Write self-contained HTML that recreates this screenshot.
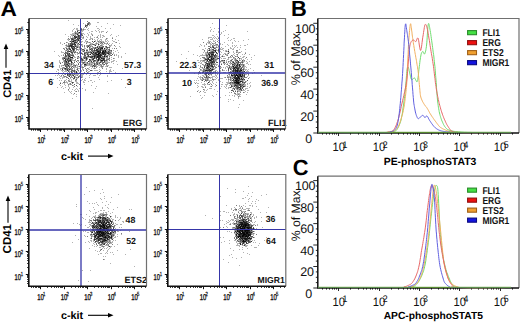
<!DOCTYPE html>
<html><head><meta charset="utf-8"><style>
html,body{margin:0;padding:0;background:#fff;width:520px;height:324px;overflow:hidden}
body{position:relative;font-family:"Liberation Sans", sans-serif}
</style></head><body>
<svg width="520" height="324" viewBox="0 0 520 324" style="position:absolute;left:0;top:0" text-rendering="geometricPrecision" font-family='"Liberation Sans", sans-serif'><defs><filter id="bl" x="-5%" y="-5%" width="110%" height="110%"><feGaussianBlur stdDeviation="0.45"/></filter></defs><rect width="520" height="324" fill="#fff"/><g transform="translate(0 0.5)" filter="url(#bl)"><path d="M104 62h1M64 73h1M83 51h1M80 50h1M111 53h1M94 60h1M96 48h1M99 53h1M66 58h1M62 44h1M69 75h1M99 56h1M107 57h1M92 35h1M65 63h1M78 63h1M61 73h1M86 56h1M72 83h1M95 53h1M73 65h1M90 52h1M91 49h1M68 54h1M87 21h1M78 66h1M96 60h1M99 56h1M106 64h1M74 70h1M84 61h1M87 53h1M90 57h1M71 47h1M107 59h1M114 41h1M106 38h1M110 67h1M84 51h1M79 32h1M105 51h1M65 56h1M93 48h1M74 46h1M81 29h1M86 62h1M66 64h1M93 50h1M80 41h1M70 64h1M105 50h1M73 50h1M104 55h1M102 58h1M96 53h1M100 42h1M105 39h1M79 51h1M72 39h1M78 44h1M92 46h1M112 48h1M100 48h1M106 51h1M111 44h1M109 57h1M86 65h1M85 62h1M77 29h1M72 82h1M80 61h1M95 63h1M69 56h1M105 50h1M93 66h1M66 50h1M91 52h1M68 75h1M93 50h1M83 63h1M82 44h1M82 53h1M74 76h1M75 45h1M72 62h1M96 55h1M95 54h1M70 83h1M72 45h1M102 56h1M74 84h1M71 46h1M91 57h1M78 46h1M96 70h1M61 52h1M100 51h1M56 71h1M76 36h1M112 61h1M65 59h1M78 30h1M101 42h1M67 53h1M69 80h1M75 44h1M86 59h1M74 77h1M92 60h1M103 50h1M106 65h1M77 41h1M75 46h1M106 66h1M102 53h1M91 53h1M81 41h1M81 58h1M79 47h1M78 43h1M104 36h1M87 45h1M99 48h1M85 52h1M71 47h1M74 72h1M116 55h1M65 64h1M98 52h1M66 71h1M103 53h1M69 60h1M71 46h1M71 45h1M68 54h1M115 39h1M104 56h1M67 74h1M74 84h1M75 40h1M91 51h1M65 61h1M66 62h1M66 53h1M81 48h1M79 84h1M78 43h1M91 50h1M81 36h1M64 76h1M85 65h1M110 46h1M77 30h1M60 42h1M111 53h1M68 53h1M87 45h1M106 46h1M95 60h1M98 48h1M88 52h1M74 52h1M90 53h1M65 59h1M102 41h1M110 50h1M67 68h1M95 58h1M89 59h1M90 24h1M77 35h1M105 52h1M73 82h1M107 53h1M106 62h1M104 60h1M92 59h1M79 68h1M95 75h1M101 52h1M74 34h1M97 54h1M89 62h1M65 68h1M108 62h1M89 46h1M73 46h1M91 48h1M102 51h1M74 77h1M79 62h1M104 57h1M103 59h1M87 56h1M72 50h1M69 60h1M109 46h1M73 60h1M98 51h1M105 54h1M103 58h1M69 45h1M70 61h1M78 40h1M82 35h1M109 55h1M92 49h1M82 49h1M97 52h1M66 55h1M66 62h1M106 32h1M67 53h1M85 90h1M90 59h1M72 54h1M72 51h1M78 73h1M66 64h1M83 81h1M108 51h1M99 52h1M74 44h1M73 50h1M90 42h1M74 56h1M89 44h1M64 48h1M70 57h1M102 52h1M91 31h1M73 41h1M98 56h1M90 52h1M64 43h1M70 44h1M69 58h1M71 68h1M64 71h1M89 23h1M99 55h1M92 39h1M92 59h1M103 56h1M93 54h1M91 46h1M103 58h1M74 71h1M83 62h1M75 75h1M73 76h1M109 60h1M73 54h1M65 61h1M60 78h1M73 56h1M108 59h1M72 44h1M79 39h1M100 46h1M75 71h1M72 48h1M81 58h1M68 57h1M109 50h1M71 73h1M80 32h1M81 50h1M95 54h1M73 41h1M83 62h1M77 73h1M104 56h1M100 53h1M97 22h1M106 47h1M105 51h1M108 52h1M69 76h1M101 49h1M98 54h1M100 72h1M106 39h1M69 63h1M98 47h1M107 60h1M70 75h1M96 64h1M68 53h1M86 63h1M88 53h1M79 44h1M94 67h1M85 56h1M106 52h1M94 39h1M99 58h1M74 70h1M104 56h1M105 54h1M103 51h1M104 58h1M99 53h1M73 75h1M114 55h1M70 57h1M100 56h1M80 57h1M77 37h1M63 59h1M86 42h1M94 56h1M73 42h1M71 93h1M95 45h1M74 53h1M71 72h1M66 61h1M100 54h1M90 59h1M107 58h1M76 48h1M72 54h1M74 43h1M74 38h1M71 72h1M74 45h1M98 57h1M80 32h1M98 50h1M76 65h1M102 48h1M67 58h1M104 43h1M74 93h1M72 71h1M60 63h1M81 57h1M105 60h1M72 41h1M102 55h1M70 83h1M77 47h1M77 42h1M98 41h1M67 69h1M83 63h1M102 47h1M98 54h1M75 45h1M70 84h1M71 44h1M69 68h1M86 26h1M73 75h1M105 60h1M66 59h1M66 69h1M86 57h1M95 50h1M90 46h1M72 48h1M68 47h1M81 74h1M79 33h1M74 28h1M87 52h1M92 51h1M73 41h1M65 58h1M67 75h1M77 58h1M101 58h1M70 60h1M81 59h1M92 54h1M104 51h1M74 74h1M91 66h1M86 64h1M73 71h1M80 58h1M102 51h1M95 53h1M70 45h1M92 58h1M71 46h1M82 74h1M88 63h1M85 58h1M101 60h1M93 65h1M99 58h1M94 52h1M82 61h1M93 63h1M98 55h1M97 54h1M110 71h1M87 37h1M68 78h1M94 55h1M61 70h1M109 45h1M99 75h1M77 34h1M66 79h1M82 67h1M78 57h1M63 48h1M94 54h1M109 53h1M98 65h1M86 25h1M80 70h1M76 39h1M65 52h1M68 56h1M93 47h1M108 51h1M81 59h1M89 61h1M89 48h1M70 57h1M95 65h1M91 34h1M61 55h1M81 39h1M80 39h1M64 49h1M99 42h1M87 42h1M69 60h1M74 74h1M98 61h1M76 72h1M92 48h1M72 47h1M69 53h1M101 53h1M74 33h1M105 56h1M97 51h1M82 62h1M73 46h1M68 51h1M98 57h1M63 88h1M89 59h1M68 20h1M78 37h1M98 53h1M98 44h1M73 78h1M75 72h1M67 69h1M102 61h1M70 60h1M105 51h1M95 55h1M103 42h1M99 55h1M98 77h1M59 67h1M111 71h1M80 85h1M99 40h1M105 54h1M79 36h1M63 58h1M85 58h1M95 57h1M94 55h1M95 52h1M116 48h1M90 54h1M80 56h1M97 52h1M94 57h1M74 73h1M87 50h1M82 69h1M105 61h1M79 40h1M101 53h1M104 53h1M75 35h1M106 53h1M97 55h1M99 50h1M76 47h1M80 61h1M74 38h1M97 50h1M72 38h1M97 62h1M74 41h1M71 66h1M90 36h1M94 68h1M107 61h1M65 59h1M102 58h1M73 75h1M66 66h1M82 34h1M77 38h1M95 47h1M85 65h1M62 57h1M65 54h1M70 46h1M98 48h1M98 49h1M100 56h1M67 64h1M97 39h1M102 52h1M101 60h1M78 40h1M94 50h1M89 45h1M71 80h1M98 38h1M84 29h1M85 64h1M65 54h1M99 53h1M94 55h1M106 63h1M96 63h1M67 70h1M103 60h1M73 38h1M71 38h1M87 46h1M84 55h1M109 67h1M71 61h1M67 60h1M103 51h1M71 47h1M80 32h1M108 54h1M101 26h1M96 50h1M76 49h1M63 75h1M79 36h1" stroke="#000" stroke-opacity="0.3" stroke-width="1"/><path d="M62 62h1M91 56h1M98 58h1M77 31h1M104 57h1M103 36h1M100 48h1M92 62h1M70 77h1M64 63h1M86 25h1M69 67h1M80 67h1M80 38h1M59 65h1M99 59h1M74 43h1M98 57h1M78 38h1M109 47h1M69 49h1M68 55h1M96 50h1M63 82h1M73 47h1M89 60h1M65 66h1M99 52h1M103 63h1M80 63h1M93 51h1M91 43h1M99 71h1M110 70h1M102 51h1M59 60h1M92 48h1M85 25h1M95 60h1M77 41h1M59 80h1M119 46h1M71 45h1M90 63h1M72 31h1M69 49h1M70 41h1M75 51h1M82 59h1M94 61h1M67 66h1M70 68h1M66 65h1M96 61h1M111 34h1M76 47h1M98 48h1M104 61h1M73 50h1M91 64h1M81 60h1M75 52h1M74 50h1M100 55h1M85 26h1M82 54h1M102 58h1M69 64h1M101 47h1M66 62h1M72 82h1M81 77h1M72 43h1M87 73h1M76 48h1M77 40h1M78 91h1M79 35h1M88 55h1M104 60h1M104 60h1M101 61h1M100 54h1M76 91h1M68 63h1M84 62h1M74 38h1M86 51h1M72 82h1M103 52h1M71 46h1M75 44h1M86 53h1M69 51h1M80 36h1M78 43h1M96 52h1M84 53h1M73 67h1M100 41h1M82 68h1M77 66h1M96 52h1M90 54h1M71 62h1M95 45h1M97 40h1M93 55h1M94 65h1M106 46h1M103 51h1M70 43h1M69 55h1M100 48h1M111 80h1M89 39h1M81 70h1M71 52h1M104 64h1M72 41h1M97 46h1M92 49h1M67 51h1M107 55h1M64 64h1M91 70h1M64 62h1M64 81h1M106 52h1M70 44h1M102 48h1M72 38h1M75 59h1M80 34h1M72 57h1M89 49h1M71 67h1M111 50h1M100 55h1M101 58h1M99 47h1M71 50h1M91 62h1M79 38h1M81 33h1M100 61h1M108 53h1M105 51h1M70 55h1M104 56h1M97 63h1M88 65h1M109 56h1M103 62h1M105 46h1M85 64h1M107 62h1M69 69h1M102 60h1M111 55h1M101 58h1M74 36h1M97 47h1M82 60h1M98 51h1M98 44h1M78 35h1M83 82h1M82 62h1M87 24h1M90 66h1M81 58h1M101 60h1M70 60h1M67 58h1M85 40h1M112 38h1M90 46h1M84 66h1M92 44h1M99 50h1M98 53h1M64 69h1M67 46h1M76 91h1M113 41h1M80 50h1M94 49h1M74 71h1M105 57h1M91 59h1M76 28h1M87 33h1M73 48h1M69 53h1M73 38h1M92 56h1M60 85h1M121 57h1M81 77h1M85 53h1M100 57h1M79 62h1M103 53h1M94 41h1M104 52h1M99 55h1M100 52h1M69 88h1M116 61h1M101 58h1M70 55h1M77 72h1M99 59h1M92 56h1M96 54h1M83 56h1M70 52h1M79 66h1M67 59h1M80 34h1M121 79h1M82 41h1M95 50h1M72 52h1M100 51h1M98 56h1M74 84h1M107 53h1M107 31h1M68 70h1M75 37h1M103 64h1M85 55h1M106 64h1M90 48h1M77 33h1M100 70h1M99 32h1M74 39h1M67 70h1M84 55h1M71 67h1M73 34h1M100 35h1M69 73h1M71 46h1M94 57h1M70 51h1M104 59h1M99 52h1M117 50h1M92 57h1M100 58h1M91 63h1M70 48h1M65 55h1M78 61h1M89 45h1M118 57h1M69 73h1M64 58h1M83 51h1M71 44h1M108 53h1M101 55h1M62 74h1M108 54h1M73 40h1M84 72h1M111 62h1M73 70h1M78 37h1M91 60h1M100 41h1M85 66h1M72 48h1M102 52h1M114 45h1M64 58h1M68 84h1M110 51h1M85 89h1M76 50h1M79 35h1M64 61h1M102 43h1M73 75h1M84 47h1M101 57h1M74 65h1M89 56h1M98 54h1M107 59h1M87 70h1M115 51h1M74 78h1M75 37h1M86 60h1M81 61h1M97 70h1M74 57h1M77 40h1M99 46h1M81 60h1M93 60h1M106 59h1M68 50h1M88 28h1M88 54h1M98 58h1M94 58h1M113 58h1M94 56h1M78 71h1M97 56h1M95 30h1M96 57h1M92 50h1M90 61h1M78 53h1M84 65h1M74 46h1M92 108h1M98 51h1M100 45h1M67 64h1M110 54h1M109 50h1M100 64h1M82 58h1M93 60h1M91 64h1M114 60h1M64 58h1M68 56h1M79 84h1M85 68h1M107 76h1M91 49h1M75 67h1M75 73h1M83 57h1M68 90h1M107 55h1M89 63h1M87 25h1M98 51h1M74 44h1M86 43h1M110 35h1M84 64h1M86 25h1M107 75h1M64 56h1M98 54h1M90 54h1M107 40h1M75 38h1M86 46h1M102 37h1M104 52h1M81 59h1M71 39h1M74 49h1M87 58h1M94 75h1M92 51h1M95 53h1M70 50h1M63 55h1M73 64h1M97 64h1M72 77h1M98 53h1M87 62h1M68 54h1M71 42h1M83 60h1M99 48h1M67 55h1M80 50h1M69 76h1M62 67h1M98 59h1M82 59h1M87 21h1M92 57h1M88 22h1M73 44h1M86 39h1M65 62h1M69 39h1M83 67h1M84 46h1M90 56h1M84 57h1M72 70h1M71 57h1M71 41h1M99 51h1M92 82h1M63 68h1M93 52h1M93 42h1M95 48h1M79 47h1M96 59h1M73 43h1M94 66h1M80 54h1M77 47h1M102 63h1M66 63h1M78 49h1M89 54h1M105 62h1M88 71h1M110 53h1M102 52h1M94 60h1M67 62h1M76 67h1M63 61h1M106 49h1M66 49h1M67 70h1M68 43h1M104 56h1M100 52h1M106 51h1M71 57h1M96 47h1M74 47h1M100 52h1M87 46h1M68 58h1M97 51h1M74 42h1M90 70h1M68 74h1M63 65h1M68 69h1M83 58h1M72 98h1M62 69h1M82 51h1M75 81h1M94 63h1M89 50h1M74 62h1M103 53h1M111 51h1M75 79h1M113 58h1M103 50h1M95 40h1M74 50h1M98 59h1M86 64h1M83 38h1M60 76h1M84 65h1M95 41h1M97 47h1M70 63h1M72 85h1M109 47h1M84 79h1M94 64h1M86 50h1M81 49h1M76 79h1M72 40h1M83 51h1M77 31h1M73 44h1M102 61h1M68 58h1M75 66h1M99 53h1M73 46h1M97 53h1M75 34h1M76 71h1M86 58h1M72 72h1M82 59h1M65 66h1M82 53h1M94 49h1M98 48h1M106 61h1M68 66h1M66 68h1M81 44h1M71 41h1M76 85h1M98 52h1M78 36h1M98 52h1M79 88h1M71 81h1M65 55h1M62 58h1M69 83h1M64 83h1M103 53h1M108 49h1M71 55h1M105 63h1M107 48h1M72 55h1M74 86h1M102 51h1M73 35h1M63 75h1M87 72h1M94 50h1M57 75h1M76 42h1M69 46h1M101 48h1M89 59h1M73 41h1M100 59h1M87 56h1M69 76h1M109 58h1M91 45h1M97 51h1M107 63h1M84 50h1M71 62h1M89 24h1M108 51h1M80 33h1M90 45h1M78 38h1M109 70h1M97 50h1M102 47h1M91 33h1M88 61h1M99 53h1M83 70h1M101 47h1M85 57h1M68 46h1" stroke="#000" stroke-opacity="0.3" stroke-width="1"/><path d="M66 42h1M73 35h1M65 63h1M69 56h1M78 53h1M78 32h1M96 53h1M80 35h1M65 55h1M99 49h1M89 25h1M97 56h1M109 43h1M82 35h1M73 48h1M98 63h1M75 91h1M74 49h1M109 54h1M71 53h1M73 39h1M58 72h1M75 31h1M94 56h1M94 81h1M81 28h1M94 56h1M113 53h1M59 61h1M76 71h1M74 51h1M70 78h1M78 56h1M71 38h1M90 43h1M67 69h1M81 53h1M96 54h1M77 69h1M91 58h1M69 61h1M92 56h1M91 73h1M96 55h1M67 75h1M84 57h1M75 32h1M85 64h1M94 66h1M79 36h1M82 63h1M108 44h1M101 62h1M95 52h1M74 47h1M73 74h1M71 64h1M114 48h1M107 57h1M80 49h1M106 53h1M112 40h1M71 51h1M77 56h1M111 61h1M72 46h1M72 37h1M94 47h1M99 71h1M79 38h1M74 76h1M70 58h1M75 74h1M77 36h1M96 86h1M99 55h1M86 65h1M65 60h1M70 57h1M96 55h1M59 56h1M74 41h1M109 60h1M75 52h1M97 50h1M99 58h1M92 67h1M82 31h1M87 68h1M97 61h1M94 41h1M102 54h1M96 58h1M76 29h1M98 56h1M65 34h1M71 39h1M62 71h1M66 45h1M88 34h1M89 64h1M67 51h1M79 52h1M64 63h1M74 52h1M72 55h1M77 75h1M85 57h1M103 51h1M101 60h1M101 47h1M102 47h1M79 66h1M96 43h1M74 68h1M94 54h1M100 56h1M103 46h1M110 53h1M70 71h1M68 61h1M96 53h1M68 38h1M81 30h1M94 51h1M100 50h1M83 62h1M113 70h1M104 53h1M68 80h1M80 31h1M69 64h1M94 55h1M65 70h1M65 68h1M91 85h1M66 42h1M55 75h1M68 78h1M108 53h1M65 51h1M67 77h1M59 66h1M88 22h1M105 63h1M93 52h1M60 69h1M70 59h1M101 32h1M77 52h1M74 37h1M75 80h1M77 70h1M84 84h1M67 48h1M73 55h1M96 54h1M100 39h1M105 55h1M98 55h1M90 70h1M93 57h1M58 55h1M106 58h1M68 78h1M112 37h1M68 70h1M88 24h1M78 33h1M76 46h1M118 56h1M95 53h1M72 38h1M76 72h1M103 56h1M96 54h1M96 52h1M82 54h1M113 52h1M103 54h1M93 44h1M92 56h1M74 44h1M77 32h1M66 56h1M98 59h1M66 67h1M81 37h1M89 45h1M98 44h1M62 68h1M104 49h1M74 70h1M103 47h1M77 58h1M68 44h1M65 60h1M75 41h1M95 43h1M96 65h1M105 53h1M62 69h1M106 71h1M99 64h1M96 51h1M98 51h1M102 47h1M88 30h1M107 81h1M101 65h1M84 58h1M72 45h1M81 73h1M97 48h1M71 84h1M86 58h1M97 61h1M87 53h1M89 65h1M102 62h1M80 50h1M69 53h1M72 75h1M97 60h1M103 42h1M70 36h1M98 59h1M70 37h1M89 47h1M118 40h1M89 59h1M73 49h1M79 48h1M109 54h1M73 40h1M86 41h1M67 65h1M109 52h1M102 52h1M71 70h1M92 62h1M93 65h1M104 48h1M90 49h1M61 87h1M80 31h1M68 65h1M85 78h1M92 58h1M63 82h1M85 52h1M66 81h1M94 63h1M100 53h1M69 47h1M104 55h1M91 61h1M78 70h1M64 62h1M72 33h1M89 56h1M94 49h1M100 52h1M103 51h1M108 47h1M64 65h1M85 29h1M75 46h1M79 32h1M67 64h1M69 48h1M103 54h1M70 74h1M65 85h1M53 79h1M90 39h1M74 49h1M73 49h1M93 58h1M97 37h1M82 50h1M72 74h1M68 71h1M103 46h1M91 52h1M76 71h1M66 61h1M110 55h1M64 68h1M95 45h1M107 43h1M98 54h1M95 88h1M103 51h1M89 52h1M96 56h1M61 76h1M78 63h1M94 56h1M69 60h1M74 62h1M65 82h1M65 56h1M72 45h1M69 81h1M100 56h1M86 57h1M61 80h1M104 42h1M100 62h1M97 47h1M95 47h1M85 48h1M78 76h1M84 58h1M98 55h1M84 62h1M94 41h1M81 48h1M97 56h1M72 58h1M107 48h1M65 60h1M109 58h1M82 37h1M105 52h1M72 72h1M70 60h1M103 65h1M76 81h1M93 58h1M102 44h1M71 67h1M69 67h1M69 51h1M81 35h1M87 64h1M74 44h1M90 37h1M71 77h1M102 42h1M77 45h1M88 69h1M69 81h1M104 52h1M93 47h1M74 64h1M94 53h1M105 52h1M86 54h1M73 39h1M67 65h1M93 59h1M89 56h1M69 65h1M101 50h1M62 52h1M109 51h1M80 56h1M65 62h1M90 74h1M97 52h1M62 86h1M97 57h1M67 70h1M61 66h1M69 46h1M105 43h1M69 66h1M70 41h1M76 33h1M64 57h1M96 50h1M84 52h1M62 69h1M96 64h1M99 52h1M80 32h1M87 51h1M103 50h1M65 54h1M84 42h1M94 45h1M98 35h1M68 45h1M75 39h1M68 49h1M107 66h1M69 74h1M100 37h1M81 52h1M113 50h1M93 61h1M71 55h1M97 54h1M62 68h1M73 48h1M78 33h1M73 51h1M63 58h1M82 79h1M65 76h1M76 79h1M62 70h1M114 54h1M74 40h1M98 50h1M101 59h1M71 43h1M81 33h1M68 59h1M65 74h1M100 48h1M71 61h1M76 41h1M76 34h1M100 50h1M105 41h1M87 55h1M92 63h1M65 47h1M75 48h1M105 51h1M79 73h1M71 42h1M97 47h1M92 41h1M101 57h1M69 51h1M89 71h1M77 77h1M67 49h1M107 52h1M65 69h1M100 51h1M94 54h1M58 70h1M104 54h1M107 63h1M116 48h1M87 24h1M66 50h1M100 62h1M93 56h1M100 65h1M97 46h1M66 68h1M66 66h1M68 61h1M85 25h1M94 60h1M101 47h1M72 39h1M90 57h1M69 39h1M64 49h1M75 40h1M69 72h1M106 47h1M86 52h1M73 44h1M92 57h1M68 74h1M87 58h1M62 77h1M96 57h1M95 48h1M97 43h1M87 62h1M72 75h1M75 40h1M71 57h1M87 47h1M73 65h1M92 53h1M84 58h1M68 55h1M95 56h1M70 46h1M70 51h1M89 54h1M70 59h1M97 55h1M67 45h1M90 62h1M96 57h1M98 56h1M71 46h1M82 77h1M91 70h1M104 50h1M69 61h1M86 70h1M103 50h1M71 60h1M65 60h1M87 68h1M84 27h1M106 69h1M62 65h1M96 56h1M104 55h1M86 57h1M72 70h1M96 67h1M87 54h1M68 56h1M80 35h1M111 57h1M65 68h1M89 52h1M69 56h1M88 35h1M78 83h1M84 64h1M69 66h1M73 40h1M92 34h1M102 48h1M91 80h1M75 89h1M72 68h1M72 66h1M75 37h1M68 61h1M66 62h1M102 60h1M95 53h1M87 47h1M89 75h1M102 48h1M65 56h1M105 52h1M90 57h1M69 69h1M68 62h1M98 30h1M76 88h1M72 70h1M72 48h1M94 48h1M73 41h1M71 47h1M99 53h1M93 54h1M75 42h1M65 68h1M75 42h1M96 63h1" stroke="#000" stroke-opacity="0.3" stroke-width="1"/><path d="M90 65h1M109 53h1M74 78h1M105 54h1M79 38h1M68 65h1M113 73h1M68 51h1M68 71h1M104 51h1M77 28h1M108 51h1M104 59h1M93 52h1M72 46h1M80 61h1M94 53h1M99 46h1M71 59h1M125 87h1M77 46h1M76 94h1M76 61h1M65 55h1M70 49h1M66 52h1M63 57h1M68 89h1M79 32h1M96 49h1M84 72h1M89 61h1M68 61h1M83 33h1M98 44h1M100 56h1M57 69h1M100 51h1M75 60h1M99 57h1M69 53h1M104 62h1M84 73h1M79 32h1M65 52h1M104 49h1M98 45h1M105 48h1M88 46h1M77 86h1M85 64h1M86 50h1M73 85h1M64 74h1M90 60h1M71 59h1M107 47h1M104 64h1M102 66h1M70 59h1M84 57h1M99 54h1M72 64h1M72 44h1M72 52h1M67 52h1M96 58h1M93 42h1M84 62h1M97 66h1M83 57h1M93 75h1M85 60h1M76 40h1M104 59h1M71 43h1M92 66h1M71 34h1M100 49h1M68 57h1M66 60h1M77 78h1M78 30h1M84 56h1M86 52h1M109 52h1M74 69h1M101 55h1M104 58h1M106 60h1M79 38h1M74 40h1M94 64h1M81 71h1M84 34h1M73 51h1M102 58h1M95 45h1M64 64h1M63 76h1M108 53h1M104 56h1M104 48h1M69 74h1M69 57h1M67 60h1M100 49h1M109 49h1M93 61h1M79 57h1M67 54h1M94 60h1M67 67h1M76 73h1M98 60h1M89 47h1M74 65h1M79 52h1M72 48h1M84 55h1M98 60h1M77 34h1M100 51h1M70 43h1M97 56h1M108 41h1M84 66h1M86 60h1M99 63h1M69 45h1M68 58h1M108 47h1M74 78h1M78 38h1M88 57h1M64 53h1M97 60h1M65 68h1M110 55h1M94 57h1M70 45h1M67 60h1M83 54h1M102 48h1M59 84h1M68 36h1M66 52h1M70 75h1M97 57h1M101 49h1M82 59h1M73 37h1M68 40h1M86 50h1M102 53h1M77 33h1M99 79h1M76 43h1M94 63h1M84 53h1M82 38h1M120 25h1M96 62h1M84 64h1M93 59h1M85 26h1M73 63h1M64 67h1M69 63h1M115 42h1M76 79h1M64 82h1M88 56h1M90 54h1M84 54h1M73 73h1M81 66h1M92 31h1M109 58h1M88 45h1M71 52h1M90 56h1M71 62h1M93 53h1M111 67h1M88 46h1M71 35h1M97 49h1M74 76h1M83 69h1M60 62h1M94 53h1M93 53h1M69 69h1M68 46h1M114 48h1M100 34h1M100 62h1M82 49h1M81 56h1M89 60h1M73 56h1M107 52h1M81 62h1M72 62h1M79 38h1M68 73h1M118 52h1M96 58h1M67 49h1M73 47h1M98 53h1M71 52h1M94 61h1M88 72h1M82 35h1M102 49h1M112 54h1M77 31h1M67 54h1M109 52h1M63 77h1M92 64h1M77 39h1M71 50h1M102 60h1M96 51h1M73 51h1M82 33h1M98 53h1M93 65h1M92 39h1M104 54h1M75 54h1M76 36h1M90 54h1M80 32h1M99 59h1M89 73h1M66 56h1M60 63h1M100 56h1M78 35h1M100 54h1M67 63h1M84 45h1M77 38h1M99 41h1M106 55h1M73 43h1M101 60h1M73 67h1M77 49h1M63 70h1M86 69h1M66 67h1M91 65h1M90 47h1M82 88h1M63 59h1M107 65h1M79 42h1M76 37h1M67 68h1M99 56h1M103 54h1M79 32h1M93 52h1M75 66h1M94 44h1M66 53h1M73 63h1M69 44h1M68 80h1M76 49h1M67 69h1M72 44h1M84 50h1M71 61h1M85 24h1M86 58h1M67 59h1M86 49h1M104 53h1M67 53h1M79 40h1M94 66h1M100 52h1M102 66h1M91 56h1M75 73h1M101 45h1M80 51h1M81 45h1M80 67h1M67 42h1M101 66h1M94 50h1M89 77h1M68 58h1M73 94h1M101 46h1M102 56h1M74 32h1M65 53h1M76 32h1M65 45h1M103 54h1M102 31h1M86 71h1M111 50h1M92 56h1M89 67h1M77 49h1M108 52h1M71 63h1M93 54h1M80 59h1M67 66h1M70 38h1M96 66h1M99 58h1M76 39h1M73 70h1M71 54h1M108 65h1M97 51h1M102 48h1M81 34h1M83 29h1M66 55h1M73 46h1M96 53h1M73 71h1M109 56h1M69 79h1M94 41h1M100 50h1M74 36h1M63 54h1M103 53h1M87 50h1M97 61h1M105 66h1M63 55h1M73 49h1M104 64h1M77 39h1M109 51h1M105 50h1M77 58h1M73 78h1M106 60h1M77 31h1M76 42h1M83 60h1M91 70h1M104 54h1M102 53h1M73 75h1M72 43h1M88 24h1M73 55h1M73 87h1M100 47h1M69 72h1M73 46h1M71 65h1M91 55h1M59 75h1M88 56h1M90 44h1M108 49h1M103 53h1M69 54h1M114 58h1M99 52h1M102 43h1M112 54h1M82 30h1M73 52h1M81 76h1M82 60h1M101 64h1M94 57h1M99 31h1M78 47h1M82 46h1M98 46h1M106 52h1M68 45h1M72 85h1M72 58h1M105 55h1M60 83h1M71 74h1M74 40h1M78 40h1M75 65h1M72 66h1M80 62h1M87 59h1M96 47h1M105 54h1M81 28h1M61 75h1M71 76h1M70 41h1M73 49h1M90 51h1M84 53h1M91 57h1M109 62h1M80 65h1M71 43h1M110 52h1M76 40h1M60 83h1M69 49h1M98 22h1M103 57h1M77 57h1M100 61h1M103 57h1M102 51h1M89 64h1M80 55h1M67 52h1M75 46h1M65 69h1M65 59h1M98 51h1M83 49h1M80 59h1M100 36h1M74 47h1M77 69h1M98 59h1M100 45h1M91 50h1M86 59h1M86 43h1M92 55h1M96 42h1M79 41h1M68 81h1M95 48h1M72 49h1M76 61h1M80 69h1M105 50h1M81 34h1M81 34h1M99 58h1M100 55h1M58 74h1M75 41h1M104 56h1M66 61h1M71 62h1M69 63h1M100 57h1M100 49h1M87 50h1M66 76h1M69 54h1M72 77h1M95 51h1M95 55h1M108 73h1M89 42h1M89 51h1M75 33h1M67 72h1M110 45h1M69 69h1M101 58h1M103 52h1M63 52h1M98 60h1M94 51h1M107 53h1M76 85h1M114 55h1M101 58h1M76 39h1M88 55h1M100 52h1M80 32h1M76 45h1M78 36h1M96 37h1M64 64h1M104 53h1M81 64h1M73 78h1M68 60h1M72 53h1M62 83h1M87 54h1M81 39h1M68 85h1M80 75h1M76 71h1M94 64h1M72 57h1M84 52h1M91 48h1M75 33h1M93 92h1M97 41h1M107 52h1M105 40h1M70 60h1M87 56h1M97 52h1M66 70h1M99 55h1M115 72h1M68 65h1M74 60h1M70 74h1M100 60h1M88 64h1M104 50h1M58 69h1M100 55h1M65 80h1M90 49h1M66 65h1M98 53h1M68 48h1M83 30h1M70 77h1M69 46h1M104 61h1M93 56h1M68 62h1M67 67h1M78 35h1M81 31h1M92 41h1M84 54h1M83 37h1M97 56h1M72 57h1M71 71h1M100 50h1M74 43h1" stroke="#000" stroke-opacity="0.3" stroke-width="1"/><path d="M107 56h1M97 28h1M102 62h1M78 77h1M76 64h1M69 76h1M72 52h1M64 57h1M85 26h1M72 74h1M105 50h1M74 42h1M75 42h1M116 54h1M69 53h1M106 56h1M102 68h1M88 52h1M76 77h1M75 40h1M78 40h1M71 73h1M111 55h1M82 76h1M90 56h1M66 46h1M87 23h1M71 44h1M93 59h1M79 37h1M64 80h1M68 65h1M88 42h1M77 30h1M110 28h1M61 51h1M71 69h1M99 53h1M85 68h1M106 56h1M100 66h1M69 71h1M86 36h1M81 29h1M92 38h1M93 44h1M108 53h1M70 61h1M95 44h1M65 58h1M97 57h1M71 40h1M88 55h1M89 22h1M102 67h1M98 43h1M96 49h1M76 69h1M80 52h1M82 29h1M102 57h1M77 68h1M85 59h1M68 44h1M88 51h1M69 70h1M81 44h1M78 60h1M74 61h1M70 84h1M102 50h1M92 43h1M65 54h1M106 56h1M90 54h1M76 37h1M74 48h1M65 65h1M108 44h1M103 52h1M78 45h1M97 54h1M78 56h1M84 60h1M102 54h1M100 54h1M78 36h1M86 71h1M98 72h1M97 54h1M76 36h1M64 82h1M77 62h1M102 53h1M69 59h1M70 56h1M64 81h1M82 45h1M67 53h1M65 76h1M62 62h1M90 49h1M68 62h1M93 52h1M68 46h1M96 43h1M86 59h1M70 49h1M70 57h1M70 51h1M78 39h1M92 66h1M77 38h1M104 56h1M99 57h1M80 51h1M68 60h1M76 85h1M87 26h1M87 72h1M94 58h1M102 60h1M105 53h1M72 68h1M76 37h1M75 43h1M65 69h1M111 45h1M85 54h1M100 49h1M64 60h1M66 57h1M95 55h1M76 82h1M69 91h1M91 53h1M62 78h1M64 73h1M66 58h1M72 49h1M120 47h1M74 37h1M76 37h1M98 50h1M95 56h1M94 64h1M98 64h1M71 70h1M100 49h1M75 77h1M87 47h1M67 74h1M95 70h1M72 56h1M84 50h1M103 44h1M85 55h1M113 60h1M92 53h1M79 41h1M97 54h1M100 57h1M98 28h1M101 45h1M67 55h1M99 62h1M102 57h1M76 78h1M87 62h1M98 58h1M74 37h1M68 86h1M66 61h1M99 62h1M106 54h1M98 41h1M73 58h1M82 46h1M96 54h1M74 60h1M109 50h1M98 54h1M78 35h1M66 61h1M74 66h1M72 49h1M95 60h1M94 58h1M76 52h1M104 50h1M100 62h1M99 60h1M69 76h1M118 35h1M73 50h1M103 60h1M96 62h1M115 46h1M96 57h1M78 90h1M67 39h1M67 51h1M97 63h1M108 55h1M68 76h1M89 48h1M121 56h1M78 25h1M67 75h1M104 51h1M83 50h1M79 66h1M106 60h1M84 56h1M74 36h1M102 53h1M92 65h1M67 49h1M68 48h1M103 54h1M104 43h1M90 54h1M69 56h1M81 53h1M76 37h1M67 59h1M74 43h1M64 68h1M68 39h1M96 49h1M77 52h1M80 32h1M81 80h1M74 86h1M74 67h1M84 63h1M65 66h1M93 55h1M98 60h1M72 69h1M106 46h1M95 47h1M94 50h1M60 68h1M65 71h1M63 72h1M67 56h1M74 72h1M95 61h1M98 55h1M78 36h1M89 59h1M107 56h1M98 60h1M72 59h1M95 53h1M78 60h1M70 46h1M87 53h1M94 44h1M94 56h1M97 64h1M100 59h1M90 52h1M108 59h1M91 61h1M100 54h1M72 57h1M92 54h1M84 58h1M106 38h1M75 51h1M91 57h1M54 51h1M100 55h1M98 56h1M80 70h1M82 66h1M99 55h1M77 34h1M71 57h1M105 46h1M68 57h1M64 92h1M70 41h1M80 42h1M79 75h1M100 74h1M111 50h1M97 56h1M77 60h1M87 52h1M85 25h1M91 56h1M76 72h1M86 59h1M96 26h1M94 48h1M98 57h1M83 29h1M99 53h1M71 39h1M103 31h1M70 49h1M68 75h1M73 82h1M62 59h1M110 52h1M69 51h1M111 51h1M97 54h1M91 57h1M88 61h1M78 70h1M91 52h1M78 56h1M94 62h1M92 50h1M95 64h1M93 54h1M69 66h1M91 38h1M87 23h1M72 47h1M84 46h1M99 54h1M97 51h1M94 37h1M98 44h1M71 48h1M93 44h1M96 31h1M104 60h1M66 44h1M98 56h1M69 56h1M93 58h1M85 41h1M74 71h1M85 64h1M64 53h1M103 51h1M67 62h1M94 48h1M96 49h1M76 96h1M102 45h1M100 57h1M81 58h1M98 53h1M86 45h1M90 64h1M105 50h1M71 60h1M103 58h1M109 72h1M68 65h1M68 60h1M66 45h1M98 51h1M68 66h1M88 23h1M84 50h1M82 49h1M101 55h1M91 61h1M97 55h1M90 44h1M96 67h1M75 37h1M75 44h1M103 52h1M87 63h1M108 53h1M71 72h1M95 56h1M78 68h1M109 48h1M101 31h1M119 43h1M102 52h1M62 73h1M72 73h1M105 50h1M69 48h1M99 29h1M104 61h1M105 51h1M78 39h1M83 28h1M57 78h1M103 58h1M98 42h1M72 30h1M90 51h1M75 44h1M81 29h1M86 74h1M72 53h1M74 36h1M92 66h1M85 73h1M71 55h1M102 52h1M94 68h1M95 57h1M105 51h1M74 42h1M68 58h1M75 38h1M96 52h1M63 57h1M97 54h1M98 55h1M70 69h1M95 50h1M72 43h1M70 69h1M92 41h1M83 49h1M102 49h1M65 87h1M79 49h1M85 53h1M66 61h1M64 43h1M70 49h1M70 50h1M65 65h1M72 82h1M72 39h1M69 55h1M74 36h1M82 60h1M85 26h1M99 57h1M70 56h1M101 57h1M69 45h1M66 48h1M97 62h1M102 54h1M97 63h1M81 67h1M87 24h1M91 53h1M72 41h1M103 35h1M110 50h1M86 69h1M89 47h1M74 47h1M75 36h1M106 59h1M101 61h1M86 57h1M74 48h1M105 28h1M69 73h1M95 45h1M91 52h1M65 57h1M77 67h1M101 53h1M71 57h1M61 68h1M102 50h1M99 47h1M86 58h1M64 60h1M71 64h1M78 58h1M98 51h1M69 48h1M66 66h1M81 30h1M89 23h1M97 50h1M79 76h1M101 48h1M77 69h1M84 54h1M77 39h1M75 31h1M65 50h1M72 73h1M68 55h1M78 35h1M95 54h1M102 53h1M113 63h1M88 61h1M96 58h1M116 42h1M80 30h1M81 42h1M85 61h1M103 51h1M77 47h1M118 55h1M104 53h1M102 48h1M101 40h1M90 38h1M99 69h1M110 69h1M103 52h1M71 73h1M105 47h1M108 93h1M85 64h1M101 60h1M75 48h1M67 57h1M77 89h1M75 42h1M107 38h1M74 43h1M105 49h1M97 49h1M88 46h1M71 82h1M108 50h1M96 54h1M65 65h1M66 77h1M89 69h1M74 40h1M67 63h1M73 35h1M62 58h1M101 42h1M76 74h1M81 75h1M101 42h1M88 23h1M64 61h1M67 74h1M74 48h1M103 62h1M64 58h1M103 54h1M73 41h1M96 59h1M98 52h1M81 53h1M89 42h1M69 43h1M82 75h1" stroke="#000" stroke-opacity="0.3" stroke-width="1"/><path d="M95 68h1M88 56h1M80 40h1M97 36h1M97 59h1M87 54h1M99 63h1M67 74h1M73 39h1M106 43h1M77 68h1M69 69h1M65 53h1M107 43h1M107 49h1M77 36h1M72 41h1M66 63h1M106 32h1M109 45h1M72 63h1M75 42h1M68 71h1M72 73h1M74 77h1M75 59h1M71 45h1M109 54h1M91 48h1M69 58h1M101 54h1M75 32h1M100 47h1M77 53h1M92 59h1M72 44h1M68 61h1M88 23h1M70 34h1M71 58h1M103 60h1M66 47h1M89 57h1M77 60h1M60 83h1M116 36h1M87 29h1M85 55h1M103 41h1M76 72h1M71 69h1M100 57h1M81 32h1M59 77h1M72 39h1M98 60h1M71 40h1M97 37h1M99 56h1M98 58h1M75 37h1M101 50h1M76 61h1M80 39h1M102 59h1M62 69h1M98 59h1M80 45h1M103 49h1M94 70h1M68 68h1M98 48h1M77 75h1M72 42h1M98 57h1M97 60h1M75 76h1M92 52h1M69 51h1M73 79h1M100 43h1M93 58h1M101 48h1M59 62h1M101 48h1M98 60h1M70 92h1M88 24h1M91 61h1M77 83h1M75 70h1M71 64h1M108 58h1M90 80h1M74 42h1M98 54h1M79 44h1M71 75h1M89 59h1M91 68h1M98 53h1M75 57h1M77 37h1M86 58h1M83 36h1M112 43h1M71 71h1M68 52h1M99 44h1M71 71h1M70 45h1M69 84h1M65 61h1M88 61h1M76 80h1M101 54h1M102 48h1M100 64h1M67 54h1M76 77h1M84 48h1M66 69h1M87 41h1M109 49h1M96 56h1M85 80h1M78 40h1M85 57h1M101 60h1M79 72h1M66 67h1M70 58h1M76 75h1M68 68h1M97 46h1M98 54h1M80 50h1M66 82h1M87 57h1M87 63h1M90 60h1M72 44h1M79 37h1M76 83h1M97 72h1M117 64h1M96 62h1M77 54h1M71 45h1M78 43h1M67 64h1M74 93h1M107 66h1M92 46h1M68 64h1M109 49h1M75 44h1M88 54h1M64 84h1M71 62h1M74 62h1M78 50h1M93 52h1M97 49h1M67 59h1M72 55h1M78 64h1M97 57h1M71 50h1M106 41h1M96 50h1M89 63h1M80 48h1M87 25h1M107 23h1M75 46h1M65 59h1M99 67h1M66 48h1M78 74h1M101 56h1M105 56h1M83 49h1M73 49h1M80 30h1M95 66h1M88 81h1M67 50h1M92 51h1M69 59h1M69 75h1M106 44h1M97 49h1M89 49h1M101 61h1M107 50h1M103 58h1M103 51h1M100 43h1M99 49h1M71 57h1M66 48h1M68 50h1M104 48h1M77 43h1M77 47h1M66 56h1M80 56h1M88 46h1M79 46h1M73 55h1M75 65h1M114 45h1M95 52h1M88 55h1M90 23h1M71 76h1M67 61h1M84 64h1M78 77h1M71 91h1M68 51h1M68 84h1M78 37h1M97 57h1M101 54h1M77 34h1M72 36h1M68 63h1M79 76h1M106 49h1M104 52h1M64 58h1M100 55h1M77 41h1M72 46h1M65 52h1M97 51h1M60 63h1M102 52h1M77 44h1M93 59h1M73 24h1M77 65h1M77 44h1M73 46h1M77 38h1M86 52h1M69 56h1M74 35h1M88 52h1M88 68h1M67 77h1M106 56h1M72 53h1M103 59h1M102 46h1M99 51h1M77 74h1M69 55h1M105 50h1M69 48h1M79 32h1M102 63h1M106 48h1M78 39h1M65 64h1M92 53h1M79 35h1M111 52h1M103 46h1M68 59h1M71 42h1M103 59h1M70 54h1M92 35h1M100 60h1M85 63h1M98 48h1M102 51h1M71 63h1M94 57h1M78 64h1M99 63h1M69 87h1M70 59h1M72 57h1M87 65h1M99 56h1M88 61h1M99 51h1M88 56h1M74 36h1M92 47h1M103 62h1M77 46h1M102 50h1M104 58h1M82 64h1M84 80h1M105 54h1M70 43h1M71 61h1M101 65h1M84 82h1M111 55h1M101 55h1M86 27h1M92 49h1M113 61h1M71 61h1M82 67h1M80 59h1M72 57h1M71 38h1M107 42h1M84 64h1M102 59h1M106 68h1M87 54h1M78 64h1M72 60h1M87 49h1M76 72h1M80 58h1M69 54h1M101 41h1M72 83h1M108 52h1M96 49h1M99 51h1M80 38h1M77 34h1M72 35h1M103 64h1M104 52h1M65 57h1M73 29h1M72 66h1M106 49h1M68 89h1M84 45h1M70 44h1M83 23h1M99 50h1M63 67h1M83 67h1M79 37h1M107 53h1M92 53h1M102 60h1M103 59h1M74 45h1M93 65h1M91 62h1M102 46h1M111 59h1M72 46h1M104 55h1M73 33h1M70 45h1M78 34h1M93 61h1M95 55h1M80 54h1M70 65h1M60 82h1M112 38h1M91 50h1M97 56h1M75 65h1M69 74h1M125 53h1M87 41h1M63 67h1M75 36h1M70 49h1M67 64h1M78 39h1M101 55h1M94 41h1M109 47h1M72 89h1M94 58h1M69 46h1M70 74h1M101 67h1M100 47h1M71 79h1M69 47h1M64 77h1M73 41h1M63 65h1M112 54h1M70 81h1M102 68h1M93 61h1M64 68h1M76 42h1M63 60h1M106 56h1M75 40h1M99 65h1M67 46h1M99 57h1M74 77h1M79 44h1M76 33h1M105 53h1M70 54h1M84 49h1M94 52h1M93 68h1M75 80h1M109 71h1M69 41h1M106 63h1M75 35h1M68 43h1M83 37h1M91 44h1M92 59h1M75 36h1M98 58h1M93 51h1M75 33h1M107 47h1M61 65h1M71 52h1M100 54h1M94 66h1M68 55h1M102 35h1M90 57h1M72 73h1M98 59h1M100 59h1M79 32h1M122 68h1M106 50h1M97 59h1M70 66h1M81 35h1M102 56h1M95 52h1M102 60h1M60 43h1M83 74h1M64 76h1M65 74h1M71 45h1M72 48h1M69 67h1M70 45h1M107 47h1M84 53h1M70 68h1M104 48h1M96 50h1M94 65h1M74 52h1M104 52h1M83 70h1M80 50h1M67 83h1M72 57h1M78 76h1M93 56h1M78 77h1M72 41h1M104 48h1M90 49h1M96 44h1M106 57h1M66 77h1M101 66h1M68 38h1M67 82h1M87 25h1M75 38h1M101 52h1M104 48h1M89 22h1M95 65h1M102 64h1M64 58h1M86 27h1M101 43h1M63 48h1M103 59h1M97 57h1M68 63h1M106 47h1M97 74h1M113 24h1M72 47h1M104 61h1M71 51h1M61 75h1M98 62h1M100 49h1M78 32h1M90 70h1M66 64h1M74 90h1M75 45h1M73 66h1M102 63h1M99 46h1M86 39h1M90 60h1M100 60h1M99 47h1M104 58h1M102 52h1M83 59h1M107 56h1M101 48h1M95 66h1M85 56h1M103 66h1M89 32h1M72 34h1M116 42h1M101 39h1M88 45h1M66 59h1M79 30h1M91 52h1M98 49h1M79 42h1M101 44h1M99 54h1M77 82h1M107 51h1M92 44h1M81 65h1M97 49h1M98 55h1M76 42h1M76 46h1M92 70h1M93 62h1M79 53h1M97 64h1M109 59h1M57 87h1M102 52h1" stroke="#000" stroke-opacity="0.3" stroke-width="1"/></g><g transform="translate(0 0.5)" filter="url(#bl)"><path d="M234 65h1M199 62h1M236 81h1M207 67h1M202 77h1M237 79h1M222 60h1M212 54h1M212 62h1M237 72h1M234 96h1M205 55h1M243 89h1M211 70h1M236 80h1M210 68h1M233 72h1M243 90h1M206 63h1M218 37h1M239 76h1M214 52h1M232 78h1M208 58h1M245 88h1M209 81h1M236 75h1M206 61h1M209 63h1M210 60h1M206 70h1M235 82h1M242 65h1M239 77h1M236 61h1M237 70h1M201 60h1M211 64h1M207 65h1M208 42h1M206 72h1M239 67h1M230 73h1M220 57h1M238 65h1M229 65h1M241 70h1M240 73h1M235 73h1M218 49h1M242 82h1M235 82h1M232 90h1M209 77h1M193 54h1M237 79h1M207 65h1M232 59h1M248 90h1M223 54h1M216 50h1M233 67h1M214 28h1M211 64h1M216 62h1M200 58h1M236 60h1M243 65h1M233 80h1M237 76h1M235 72h1M197 55h1M208 43h1M241 76h1M200 66h1M231 87h1M218 40h1M207 67h1M196 67h1M221 33h1M236 87h1M215 48h1M235 76h1M211 58h1M210 37h1M215 44h1M215 52h1M213 54h1M213 83h1M238 62h1M204 68h1M238 80h1M234 65h1M219 50h1M219 56h1M209 74h1M220 73h1M229 72h1M239 75h1M239 72h1M236 75h1M206 68h1M209 57h1M236 72h1M208 59h1M213 55h1M205 70h1M244 84h1M216 34h1M238 68h1M204 73h1M214 52h1M238 69h1M212 53h1M209 60h1M207 70h1M247 83h1M241 68h1M240 76h1M231 66h1M216 59h1M237 82h1M215 71h1M240 92h1M239 49h1M239 80h1M202 78h1M207 64h1M223 62h1M198 72h1M234 75h1M235 93h1M201 62h1M236 73h1M238 75h1M234 64h1M207 65h1M216 45h1M200 44h1M214 56h1M209 77h1M214 55h1M211 54h1M230 68h1M225 77h1M236 62h1M237 82h1M227 82h1M221 64h1M207 70h1M231 86h1M235 75h1M236 64h1M236 69h1M209 73h1M210 61h1M214 51h1M234 40h1M239 58h1M206 76h1M236 81h1M241 64h1M212 66h1M241 62h1M221 32h1M234 73h1M237 78h1M210 72h1M226 62h1M237 78h1M237 77h1M246 74h1M239 87h1M237 67h1M242 85h1M222 70h1M210 70h1M213 47h1M236 80h1M241 81h1M210 65h1M202 71h1M213 96h1M196 80h1M206 63h1M215 55h1M204 45h1M213 61h1M208 66h1M237 81h1M198 65h1M228 69h1M235 82h1M208 68h1M212 67h1M237 54h1M209 73h1M210 71h1M213 59h1M212 56h1M239 74h1M236 81h1M238 69h1M231 74h1M241 70h1M220 66h1M225 46h1M240 86h1M243 76h1M201 67h1M224 86h1M235 70h1M208 57h1M235 78h1M226 82h1M239 78h1M219 46h1M237 75h1M230 87h1M208 37h1M211 64h1M237 79h1M234 71h1M204 65h1M235 67h1M207 77h1M233 73h1M204 95h1M237 85h1M238 80h1M239 70h1M214 48h1M236 82h1M207 57h1M206 80h1M206 77h1M233 62h1M237 70h1M238 75h1M237 71h1M236 74h1M233 81h1M233 67h1M234 74h1M221 86h1M206 77h1M235 64h1M207 53h1M228 51h1M211 59h1M205 59h1M237 71h1M220 49h1M234 68h1M242 83h1M208 41h1M240 79h1M208 53h1M240 86h1M236 77h1M231 74h1M208 54h1M239 88h1M234 79h1M235 88h1M211 63h1M227 84h1M230 80h1M211 56h1M217 58h1M233 82h1M237 80h1M212 50h1M211 69h1M205 62h1M212 55h1M208 66h1M211 56h1M237 82h1M231 77h1M211 58h1M233 80h1M213 31h1M240 85h1M237 72h1M207 55h1M239 67h1M211 75h1M212 38h1M241 79h1M239 80h1M210 60h1M241 87h1M207 68h1M242 72h1M212 57h1M240 73h1M233 52h1M232 73h1M214 60h1M233 91h1M220 97h1M204 90h1M236 68h1M213 67h1M213 43h1M240 74h1M206 67h1M233 69h1M241 84h1M220 81h1M241 78h1M203 84h1M237 72h1M203 57h1M219 55h1M234 74h1M215 37h1M237 70h1M233 79h1M247 31h1M211 58h1M243 83h1M234 73h1M212 64h1M240 88h1M235 67h1M244 61h1M210 57h1M243 73h1M213 49h1M241 86h1M243 100h1M214 60h1M239 73h1M236 83h1M238 73h1M219 56h1M235 70h1M239 87h1M210 70h1M233 66h1M237 72h1M237 81h1M230 83h1M244 56h1M246 61h1M237 82h1M213 52h1M236 67h1M239 67h1M210 51h1M231 86h1M207 73h1M210 72h1M232 56h1M210 72h1M244 82h1M233 79h1M232 73h1M219 35h1M211 62h1M211 54h1M234 86h1M239 60h1M238 61h1M231 85h1M208 67h1M232 86h1M235 82h1M211 59h1M224 60h1M245 82h1M237 66h1M236 66h1M235 69h1M212 59h1M225 50h1M234 83h1M202 60h1M239 72h1M231 72h1M213 47h1M221 64h1M239 64h1M233 63h1M236 81h1M215 60h1M226 25h1M237 80h1M206 75h1M231 74h1M209 57h1M205 59h1M236 72h1M209 54h1M239 89h1M222 78h1M212 53h1M245 52h1M239 84h1M213 50h1M232 68h1M209 64h1M216 57h1M233 71h1M210 55h1M234 66h1M235 91h1M236 83h1M241 90h1M232 64h1M213 59h1M214 89h1M236 67h1M243 69h1M217 59h1M236 81h1M198 90h1M209 77h1M212 76h1M237 82h1M224 53h1M237 75h1M234 85h1M237 72h1M212 66h1M207 58h1M238 81h1M242 71h1M199 72h1M210 60h1M206 73h1M213 66h1M223 62h1M239 77h1M235 76h1M205 78h1M207 89h1M235 69h1M209 82h1M226 54h1M233 77h1M211 70h1M209 88h1M197 91h1M208 80h1M228 72h1M223 63h1M241 89h1M243 89h1M207 66h1M212 54h1M238 57h1M207 58h1M238 83h1M235 73h1M209 54h1M239 78h1M231 85h1M231 69h1M205 58h1M237 70h1M197 60h1M235 60h1M237 71h1M230 79h1M207 71h1M215 67h1M237 79h1M206 58h1M245 58h1M207 63h1M238 96h1M236 83h1M237 54h1M242 75h1M235 63h1M239 84h1M232 56h1M212 69h1M239 73h1M235 76h1M209 69h1M200 73h1M232 75h1M213 58h1M232 95h1M206 75h1M236 86h1M223 70h1M215 49h1M207 70h1M204 69h1M228 68h1M236 77h1M208 69h1M234 84h1M208 77h1M231 55h1" stroke="#000" stroke-opacity="0.3" stroke-width="1"/><path d="M236 84h1M226 62h1M212 79h1M235 87h1M235 84h1M238 88h1M234 67h1M242 82h1M243 74h1M211 69h1M237 75h1M208 54h1M241 89h1M231 63h1M243 82h1M208 82h1M208 66h1M240 88h1M233 81h1M210 60h1M235 85h1M232 68h1M239 73h1M194 80h1M213 61h1M209 52h1M211 53h1M238 77h1M235 76h1M216 65h1M206 69h1M202 86h1M217 62h1M235 82h1M224 72h1M244 90h1M210 59h1M239 74h1M237 79h1M235 94h1M243 76h1M237 78h1M238 71h1M227 51h1M212 59h1M239 64h1M241 73h1M239 78h1M214 65h1M238 82h1M239 71h1M226 88h1M213 69h1M238 81h1M196 82h1M237 82h1M240 83h1M208 38h1M227 44h1M233 64h1M242 61h1M238 94h1M235 68h1M248 78h1M237 75h1M210 62h1M211 61h1M207 75h1M242 87h1M232 89h1M208 74h1M209 80h1M237 88h1M223 67h1M235 72h1M210 86h1M239 71h1M229 61h1M214 62h1M205 64h1M235 82h1M235 69h1M213 58h1M210 52h1M201 86h1M213 50h1M202 84h1M216 58h1M213 58h1M208 61h1M205 54h1M199 77h1M211 53h1M213 56h1M238 64h1M212 70h1M238 78h1M261 75h1M207 63h1M208 53h1M236 75h1M207 59h1M211 39h1M233 70h1M224 62h1M202 80h1M238 83h1M220 61h1M225 72h1M211 58h1M212 52h1M216 38h1M228 51h1M209 73h1M229 74h1M233 48h1M232 70h1M230 82h1M237 50h1M203 60h1M207 78h1M241 71h1M229 72h1M228 80h1M239 85h1M237 62h1M235 67h1M235 66h1M229 66h1M205 71h1M226 64h1M236 83h1M214 63h1M235 66h1M224 60h1M213 59h1M199 73h1M224 61h1M215 68h1M234 81h1M216 62h1M239 89h1M226 51h1M198 62h1M210 46h1M210 56h1M209 56h1M215 74h1M200 79h1M233 62h1M242 79h1M242 73h1M223 61h1M224 70h1M240 69h1M208 79h1M237 91h1M247 59h1M215 56h1M235 80h1M212 49h1M216 49h1M241 78h1M243 82h1M213 49h1M238 61h1M246 63h1M235 72h1M241 69h1M209 46h1M242 87h1M198 72h1M214 62h1M230 47h1M222 69h1M209 67h1M243 78h1M240 88h1M211 60h1M240 75h1M237 82h1M209 59h1M206 59h1M233 54h1M226 61h1M206 70h1M244 86h1M223 62h1M202 78h1M210 73h1M236 85h1M240 89h1M213 72h1M208 70h1M240 84h1M225 51h1M208 84h1M211 55h1M237 87h1M243 73h1M209 59h1M214 72h1M236 79h1M236 66h1M206 63h1M239 83h1M238 76h1M232 43h1M238 96h1M211 54h1M234 76h1M239 96h1M205 73h1M239 66h1M210 68h1M237 83h1M206 66h1M209 59h1M238 62h1M205 87h1M230 69h1M242 73h1M206 81h1M219 71h1M208 40h1M202 55h1M236 79h1M240 87h1M216 46h1M209 48h1M236 70h1M210 54h1M235 78h1M211 55h1M225 53h1M213 58h1M234 59h1M241 76h1M214 66h1M237 85h1M204 70h1M208 63h1M236 85h1M234 95h1M241 70h1M239 72h1M236 72h1M210 60h1M239 80h1M205 80h1M235 80h1M237 61h1M238 70h1M212 78h1M214 57h1M228 74h1M226 86h1M232 62h1M240 66h1M243 84h1M237 80h1M207 64h1M240 72h1M248 73h1M203 49h1M220 54h1M221 78h1M225 95h1M208 70h1M236 54h1M233 85h1M238 65h1M241 80h1M237 65h1M224 77h1M219 62h1M235 67h1M209 72h1M240 69h1M234 93h1M239 65h1M223 60h1M236 75h1M214 48h1M240 64h1M250 86h1M210 73h1M234 85h1M234 82h1M244 71h1M214 65h1M209 48h1M238 63h1M237 71h1M236 77h1M212 52h1M205 52h1M241 75h1M208 57h1M236 85h1M206 62h1M234 92h1M211 84h1M239 64h1M236 68h1M230 72h1M247 90h1M219 88h1M206 53h1M240 89h1M223 58h1M212 60h1M237 72h1M241 76h1M217 55h1M233 66h1M236 71h1M214 68h1M233 74h1M215 75h1M210 56h1M240 81h1M227 59h1M216 70h1M249 87h1M206 56h1M237 75h1M213 58h1M242 76h1M232 63h1M209 75h1M234 72h1M232 67h1M216 53h1M203 76h1M207 61h1M213 58h1M218 66h1M237 69h1M209 54h1M235 58h1M212 95h1M237 79h1M245 85h1M238 79h1M237 71h1M244 74h1M236 86h1M214 69h1M211 57h1M242 54h1M205 70h1M202 61h1M207 76h1M243 62h1M208 59h1M229 82h1M235 73h1M228 61h1M237 66h1M245 77h1M239 81h1M213 60h1M235 77h1M208 66h1M215 42h1M242 74h1M208 82h1M240 75h1M207 60h1M219 67h1M241 78h1M234 65h1M237 60h1M242 60h1M233 69h1M238 87h1M234 89h1M227 67h1M202 67h1M234 86h1M228 62h1M211 48h1M231 72h1M237 66h1M208 59h1M210 58h1M234 67h1M237 90h1M209 42h1M235 82h1M238 76h1M250 85h1M219 80h1M229 95h1M234 70h1M232 66h1M239 62h1M223 48h1M239 60h1M205 80h1M216 53h1M214 56h1M214 43h1M238 78h1M231 67h1M208 66h1M235 81h1M222 56h1M240 87h1M199 68h1M238 67h1M200 73h1M209 62h1M242 67h1M216 60h1M244 76h1M236 65h1M211 74h1M202 57h1M234 68h1M210 47h1M230 69h1M212 59h1M231 55h1M231 75h1M239 85h1M243 70h1M208 70h1M224 64h1M213 73h1M238 74h1M239 78h1M240 72h1M228 69h1M233 88h1M211 62h1M243 71h1M224 60h1M236 65h1M237 69h1M238 67h1M219 32h1M236 81h1M239 70h1M208 48h1M211 70h1M213 44h1M240 91h1M235 71h1M199 71h1M203 78h1M212 57h1M242 85h1M241 76h1M232 45h1M234 89h1M228 77h1M226 85h1M229 67h1M223 50h1M234 88h1M238 76h1M222 48h1M230 76h1M233 91h1M191 81h1M230 71h1M209 71h1M203 69h1M205 64h1M231 81h1M235 80h1M233 83h1M230 87h1M237 65h1M222 84h1M240 73h1M235 80h1M208 62h1M235 86h1M207 50h1M217 74h1M238 73h1M215 67h1M229 72h1M206 65h1M235 91h1M214 61h1M241 72h1M243 72h1M232 84h1M239 66h1M236 50h1M220 68h1M239 85h1M210 52h1M213 64h1M246 77h1M236 70h1" stroke="#000" stroke-opacity="0.3" stroke-width="1"/><path d="M241 70h1M240 80h1M254 55h1M223 72h1M239 75h1M203 71h1M238 87h1M232 73h1M242 75h1M207 60h1M240 85h1M229 52h1M215 47h1M232 66h1M238 72h1M240 88h1M214 57h1M240 89h1M236 74h1M242 81h1M215 50h1M216 52h1M239 78h1M240 86h1M234 47h1M212 51h1M238 66h1M201 63h1M244 86h1M237 78h1M209 61h1M207 67h1M206 55h1M210 72h1M210 56h1M218 38h1M204 65h1M208 76h1M239 76h1M227 53h1M215 57h1M248 75h1M206 52h1M213 72h1M246 77h1M230 82h1M228 51h1M202 64h1M239 70h1M242 79h1M240 58h1M232 61h1M211 51h1M233 69h1M215 42h1M245 81h1M238 107h1M205 74h1M211 53h1M211 58h1M235 56h1M205 53h1M204 66h1M235 91h1M242 79h1M211 58h1M210 31h1M209 54h1M228 82h1M243 79h1M233 75h1M233 79h1M211 65h1M246 94h1M206 70h1M215 50h1M233 78h1M199 71h1M213 71h1M203 42h1M207 60h1M208 58h1M240 71h1M240 94h1M238 64h1M213 47h1M233 84h1M236 86h1M240 84h1M228 34h1M212 58h1M238 82h1M212 43h1M202 39h1M211 63h1M237 93h1M208 46h1M198 83h1M186 58h1M246 69h1M206 54h1M221 60h1M211 84h1M218 32h1M207 78h1M223 56h1M230 80h1M200 76h1M235 41h1M208 72h1M231 75h1M238 83h1M216 55h1M210 60h1M209 46h1M213 46h1M242 81h1M232 55h1M195 83h1M236 74h1M231 75h1M234 55h1M238 82h1M247 80h1M238 82h1M244 64h1M215 55h1M203 55h1M210 66h1M206 61h1M229 63h1M206 67h1M241 79h1M242 71h1M213 62h1M237 63h1M238 90h1M208 68h1M203 65h1M208 61h1M213 46h1M237 84h1M233 71h1M232 64h1M207 65h1M233 75h1M242 88h1M218 65h1M216 82h1M241 67h1M214 56h1M233 70h1M236 62h1M240 47h1M216 94h1M230 72h1M235 77h1M244 71h1M211 37h1M200 72h1M208 82h1M203 87h1M213 79h1M240 78h1M229 92h1M202 77h1M237 76h1M212 56h1M211 61h1M225 54h1M243 84h1M212 47h1M239 68h1M235 85h1M234 69h1M240 73h1M209 69h1M218 38h1M234 68h1M240 71h1M230 83h1M231 60h1M238 77h1M242 79h1M211 44h1M209 57h1M240 76h1M247 73h1M237 68h1M205 70h1M210 56h1M209 53h1M236 77h1M228 61h1M234 82h1M212 47h1M215 51h1M236 74h1M243 86h1M243 87h1M231 76h1M237 88h1M209 66h1M233 68h1M236 62h1M217 56h1M234 72h1M241 81h1M208 66h1M245 49h1M226 50h1M239 65h1M243 64h1M210 30h1M232 71h1M238 77h1M221 84h1M238 63h1M244 76h1M236 56h1M212 66h1M217 44h1M236 52h1M236 75h1M245 82h1M240 74h1M233 75h1M232 64h1M214 50h1M234 82h1M232 90h1M209 50h1M207 72h1M238 77h1M219 59h1M242 81h1M232 70h1M232 80h1M254 72h1M238 75h1M234 63h1M198 86h1M235 80h1M211 52h1M239 64h1M215 51h1M238 62h1M204 67h1M236 88h1M205 72h1M234 75h1M237 64h1M230 61h1M228 79h1M244 77h1M234 81h1M210 70h1M236 65h1M239 52h1M212 66h1M211 72h1M209 63h1M221 58h1M212 73h1M231 60h1M233 66h1M244 77h1M209 55h1M212 61h1M202 54h1M219 41h1M237 83h1M232 78h1M208 65h1M206 90h1M204 62h1M208 65h1M215 84h1M202 79h1M238 85h1M215 50h1M210 47h1M229 79h1M208 67h1M240 66h1M238 76h1M213 63h1M233 62h1M233 74h1M228 79h1M214 61h1M205 66h1M230 57h1M222 82h1M237 78h1M210 66h1M204 66h1M233 83h1M206 70h1M250 64h1M205 70h1M244 60h1M243 61h1M206 64h1M204 50h1M243 64h1M238 93h1M207 54h1M207 55h1M240 73h1M197 83h1M207 55h1M227 63h1M213 40h1M208 59h1M229 76h1M241 76h1M235 70h1M239 59h1M240 84h1M243 81h1M205 60h1M207 60h1M211 66h1M237 63h1M236 72h1M237 73h1M209 64h1M216 72h1M206 73h1M212 77h1M247 76h1M205 63h1M241 88h1M205 77h1M239 90h1M205 80h1M204 57h1M234 58h1M209 50h1M209 48h1M229 87h1M214 50h1M232 75h1M243 68h1M234 74h1M237 71h1M244 92h1M235 76h1M203 89h1M214 41h1M214 64h1M235 74h1M208 69h1M209 67h1M234 78h1M203 64h1M204 81h1M214 45h1M233 90h1M239 65h1M197 87h1M230 63h1M214 58h1M233 69h1M226 51h1M208 70h1M242 75h1M215 61h1M231 75h1M214 56h1M212 54h1M236 51h1M209 60h1M242 57h1M213 79h1M190 96h1M207 66h1M231 69h1M204 67h1M231 92h1M205 59h1M233 100h1M209 62h1M240 79h1M235 72h1M235 78h1M211 57h1M219 57h1M210 74h1M233 71h1M217 58h1M218 49h1M230 71h1M233 79h1M235 62h1M235 77h1M205 77h1M212 85h1M235 71h1M207 49h1M235 90h1M243 80h1M228 52h1M240 90h1M238 73h1M209 71h1M212 65h1M238 80h1M244 83h1M244 71h1M234 84h1M238 77h1M228 67h1M238 86h1M233 79h1M233 66h1M238 82h1M221 63h1M232 90h1M243 70h1M230 60h1M241 76h1M230 84h1M233 77h1M247 63h1M215 57h1M242 76h1M231 71h1M233 62h1M228 70h1M209 64h1M242 75h1M203 58h1M237 81h1M229 57h1M209 67h1M205 73h1M241 62h1M202 97h1M200 78h1M199 46h1M217 53h1M226 60h1M242 63h1M211 54h1M215 55h1M210 80h1M233 70h1M234 77h1M213 51h1M234 85h1M237 60h1M240 75h1M233 38h1M218 45h1M233 71h1M244 83h1M236 85h1M207 72h1M241 78h1M228 101h1M236 82h1M234 57h1M212 64h1M209 42h1M216 55h1M228 57h1M247 92h1M242 90h1M237 87h1M213 69h1M227 77h1M217 62h1M244 74h1M213 55h1M241 64h1M234 60h1M235 72h1M212 69h1M243 86h1M211 70h1M248 78h1M204 59h1M231 70h1M231 86h1M241 68h1M204 70h1M206 44h1M203 60h1M200 61h1M245 69h1M205 62h1M218 42h1M209 69h1M212 61h1M243 68h1M214 66h1M242 66h1M239 77h1" stroke="#000" stroke-opacity="0.3" stroke-width="1"/><path d="M242 60h1M232 71h1M214 50h1M210 62h1M238 79h1M210 61h1M231 75h1M237 56h1M224 64h1M242 72h1M201 45h1M210 68h1M228 51h1M246 57h1M237 84h1M230 67h1M247 70h1M235 73h1M209 49h1M237 68h1M234 77h1M244 80h1M237 75h1M243 75h1M208 73h1M234 81h1M211 60h1M212 54h1M231 57h1M212 54h1M237 72h1M210 60h1M235 78h1M242 85h1M205 59h1M243 57h1M212 73h1M231 82h1M236 83h1M215 50h1M236 50h1M242 62h1M204 58h1M235 63h1M211 73h1M213 76h1M226 66h1M208 46h1M241 65h1M197 91h1M209 84h1M217 45h1M212 70h1M214 36h1M235 46h1M250 68h1M234 80h1M243 59h1M235 59h1M213 68h1M209 55h1M207 79h1M239 77h1M239 65h1M239 69h1M253 70h1M206 66h1M207 84h1M238 61h1M238 68h1M215 56h1M231 63h1M215 40h1M236 52h1M230 82h1M237 83h1M202 80h1M206 70h1M215 51h1M212 68h1M222 56h1M202 73h1M238 76h1M208 74h1M237 58h1M211 67h1M237 68h1M235 71h1M243 69h1M234 62h1M218 58h1M235 61h1M211 60h1M243 73h1M239 95h1M237 67h1M205 74h1M203 69h1M234 80h1M234 45h1M249 83h1M224 63h1M207 42h1M239 87h1M239 87h1M240 63h1M222 60h1M217 50h1M232 80h1M237 73h1M204 81h1M208 73h1M215 58h1M213 67h1M240 73h1M239 78h1M208 53h1M232 71h1M241 72h1M236 78h1M205 92h1M205 65h1M218 48h1M204 60h1M232 46h1M206 68h1M237 76h1M244 75h1M241 69h1M212 82h1M240 81h1M238 71h1M209 53h1M237 76h1M209 43h1M218 46h1M218 28h1M232 83h1M217 58h1M248 74h1M246 67h1M210 53h1M235 60h1M198 74h1M234 68h1M237 80h1M210 68h1M231 80h1M229 66h1M239 68h1M238 97h1M208 78h1M209 59h1M237 80h1M235 81h1M232 75h1M241 81h1M215 73h1M240 45h1M213 69h1M249 61h1M207 83h1M244 75h1M236 63h1M213 63h1M215 48h1M219 47h1M230 72h1M227 83h1M209 56h1M202 67h1M209 68h1M214 47h1M215 57h1M207 80h1M211 47h1M230 62h1M237 78h1M176 61h1M209 69h1M238 77h1M211 63h1M233 68h1M238 77h1M210 69h1M245 72h1M228 83h1M238 68h1M238 74h1M244 68h1M240 56h1M233 82h1M237 77h1M238 80h1M235 77h1M207 83h1M229 77h1M238 88h1M218 31h1M239 73h1M240 72h1M238 83h1M236 80h1M211 59h1M237 83h1M239 74h1M230 69h1M210 88h1M210 72h1M211 66h1M237 75h1M236 67h1M213 41h1M238 69h1M210 27h1M208 77h1M234 70h1M213 61h1M233 70h1M213 54h1M251 59h1M199 92h1M204 76h1M244 82h1M239 75h1M238 74h1M248 69h1M212 51h1M189 70h1M210 78h1M207 56h1M236 81h1M211 68h1M235 93h1M211 86h1M237 69h1M224 62h1M240 79h1M210 57h1M238 77h1M246 57h1M228 76h1M236 94h1M207 61h1M233 76h1M216 52h1M213 47h1M233 64h1M238 82h1M208 64h1M243 79h1M209 55h1M231 48h1M209 50h1M213 53h1M212 45h1M233 64h1M212 66h1M232 73h1M216 47h1M207 66h1M241 86h1M217 71h1M241 68h1M197 85h1M210 44h1M243 67h1M240 69h1M204 57h1M209 50h1M241 76h1M239 79h1M212 62h1M245 53h1M222 56h1M209 52h1M206 56h1M206 73h1M210 62h1M230 64h1M239 82h1M239 94h1M230 48h1M212 46h1M235 65h1M209 52h1M228 40h1M233 57h1M203 68h1M233 79h1M238 72h1M204 79h1M244 65h1M238 53h1M212 52h1M211 74h1M237 64h1M219 92h1M211 49h1M236 71h1M238 82h1M230 68h1M235 75h1M234 82h1M209 60h1M232 66h1M217 47h1M229 85h1M210 70h1M208 76h1M206 65h1M205 86h1M236 82h1M222 61h1M244 85h1M244 79h1M237 82h1M213 66h1M210 62h1M244 75h1M201 98h1M242 78h1M211 65h1M245 53h1M229 68h1M238 94h1M239 83h1M239 64h1M237 75h1M235 64h1M201 82h1M236 80h1M216 75h1M238 72h1M212 59h1M235 76h1M238 74h1M237 61h1M212 62h1M200 67h1M214 38h1M237 55h1M228 78h1M241 70h1M243 75h1M239 76h1M221 47h1M207 67h1M210 59h1M228 65h1M208 66h1M235 71h1M237 91h1M209 84h1M205 73h1M238 81h1M239 104h1M210 67h1M238 91h1M244 82h1M211 61h1M236 78h1M234 67h1M230 99h1M241 81h1M239 71h1M242 82h1M237 47h1M235 84h1M209 55h1M240 73h1M232 82h1M209 64h1M242 80h1M207 70h1M206 70h1M236 78h1M234 70h1M238 82h1M212 45h1M237 91h1M227 75h1M205 84h1M242 64h1M209 55h1M215 45h1M238 70h1M241 74h1M225 77h1M228 68h1M216 61h1M239 64h1M231 74h1M237 77h1M212 67h1M215 51h1M213 53h1M210 64h1M232 73h1M234 80h1M228 81h1M212 79h1M215 70h1M239 58h1M208 72h1M238 83h1M240 74h1M240 75h1M237 64h1M237 86h1M209 70h1M208 67h1M235 79h1M218 58h1M200 65h1M213 64h1M239 75h1M242 69h1M225 84h1M213 35h1M236 68h1M209 60h1M230 78h1M225 30h1M236 70h1M209 56h1M208 82h1M232 88h1M235 75h1M233 73h1M207 65h1M228 53h1M238 84h1M201 79h1M214 59h1M236 81h1M237 75h1M239 84h1M244 69h1M215 60h1M214 62h1M211 60h1M236 75h1M218 79h1M214 45h1M241 70h1M207 80h1M211 51h1M237 72h1M233 68h1M242 87h1M236 82h1M236 75h1M212 23h1M200 77h1M212 49h1M240 75h1M213 62h1M242 72h1M234 89h1M238 83h1M233 66h1M241 73h1M214 48h1M203 91h1M244 74h1M219 31h1M239 87h1M238 80h1M234 78h1M235 56h1M236 88h1M215 54h1M235 69h1M207 58h1M220 51h1M247 80h1M212 35h1M208 48h1M242 74h1M235 75h1M218 49h1M238 87h1M206 74h1M210 60h1M217 39h1M236 77h1M206 79h1M245 72h1M203 71h1M207 60h1M242 74h1M206 73h1M245 74h1M191 83h1M208 52h1M223 31h1M206 77h1M213 61h1M237 74h1" stroke="#000" stroke-opacity="0.3" stroke-width="1"/><path d="M211 69h1M220 48h1M237 69h1M237 85h1M204 71h1M211 66h1M234 83h1M234 68h1M212 63h1M238 76h1M233 67h1M213 67h1M235 61h1M231 78h1M249 54h1M237 71h1M209 61h1M241 61h1M220 34h1M245 70h1M247 88h1M243 73h1M212 49h1M199 72h1M234 67h1M236 79h1M219 54h1M233 69h1M238 73h1M209 57h1M215 54h1M243 66h1M233 88h1M224 42h1M246 71h1M224 56h1M228 59h1M234 89h1M213 45h1M211 72h1M207 72h1M213 54h1M218 47h1M206 59h1M211 88h1M209 64h1M206 73h1M207 60h1M238 61h1M208 54h1M218 51h1M217 54h1M201 55h1M235 80h1M229 65h1M248 71h1M239 74h1M215 72h1M244 45h1M211 65h1M234 78h1M236 78h1M205 71h1M243 78h1M207 64h1M239 58h1M221 52h1M241 90h1M220 66h1M215 51h1M237 73h1M236 80h1M229 67h1M231 75h1M211 71h1M220 70h1M244 67h1M211 55h1M238 84h1M237 65h1M239 73h1M213 55h1M215 51h1M236 70h1M228 51h1M211 56h1M239 82h1M216 67h1M206 72h1M220 61h1M232 78h1M245 77h1M236 67h1M239 87h1M217 41h1M241 84h1M237 76h1M213 58h1M215 50h1M241 51h1M204 92h1M229 67h1M242 74h1M218 46h1M203 71h1M241 85h1M240 81h1M207 52h1M211 42h1M239 71h1M227 66h1M215 66h1M237 51h1M200 69h1M218 58h1M211 61h1M230 79h1M237 78h1M207 64h1M234 71h1M213 50h1M231 61h1M236 67h1M209 64h1M234 69h1M202 68h1M204 60h1M207 69h1M219 35h1M240 77h1M206 78h1M206 59h1M228 50h1M240 75h1M237 70h1M204 51h1M220 88h1M231 79h1M234 72h1M204 71h1M209 71h1M242 62h1M236 71h1M230 56h1M232 42h1M233 67h1M241 86h1M236 75h1M209 63h1M205 72h1M237 52h1M243 73h1M213 57h1M201 70h1M243 85h1M212 62h1M200 66h1M233 61h1M228 70h1M203 79h1M240 64h1M230 60h1M208 69h1M239 83h1M243 60h1M210 83h1M205 73h1M240 96h1M204 66h1M232 65h1M241 79h1M240 75h1M244 76h1M210 52h1M214 55h1M216 62h1M210 43h1M237 95h1M204 77h1M228 65h1M234 65h1M228 77h1M225 68h1M218 80h1M238 89h1M213 57h1M241 71h1M228 87h1M234 76h1M235 59h1M244 79h1M200 70h1M205 79h1M240 85h1M216 59h1M236 74h1M239 72h1M219 46h1M208 55h1M213 49h1M242 74h1M240 76h1M235 72h1M216 44h1M235 87h1M228 57h1M231 60h1M241 70h1M238 57h1M209 54h1M219 28h1M234 68h1M228 68h1M235 70h1M220 68h1M212 43h1M230 77h1M243 40h1M215 63h1M212 39h1M243 65h1M237 82h1M230 56h1M245 84h1M204 58h1M237 89h1M216 67h1M220 62h1M233 51h1M216 64h1M209 37h1M219 65h1M240 86h1M207 52h1M215 43h1M243 78h1M241 74h1M239 65h1M241 83h1M218 50h1M239 79h1M240 71h1M235 68h1M231 73h1M242 62h1M212 46h1M208 54h1M238 76h1M238 82h1M216 47h1M241 73h1M211 57h1M237 94h1M206 76h1M214 64h1M240 75h1M203 52h1M205 65h1M234 63h1M241 72h1M204 84h1M211 56h1M221 56h1M243 86h1M209 49h1M204 85h1M209 63h1M238 79h1M209 60h1M227 76h1M235 85h1M234 86h1M237 75h1M211 52h1M241 70h1M200 55h1M237 64h1M241 59h1M210 68h1M230 77h1M228 70h1M213 54h1M214 62h1M211 86h1M209 70h1M235 71h1M232 83h1M212 53h1M211 59h1M242 80h1M238 57h1M238 70h1M227 55h1M240 70h1M213 51h1M231 92h1M233 91h1M213 47h1M212 56h1M249 77h1M234 82h1M233 73h1M247 62h1M237 68h1M212 57h1M238 98h1M212 63h1M239 79h1M210 56h1M210 71h1M232 64h1M245 91h1M203 57h1M201 77h1M236 70h1M221 49h1M211 80h1M234 78h1M195 83h1M241 75h1M236 68h1M215 59h1M236 82h1M228 99h1M238 78h1M240 82h1M207 52h1M240 81h1M230 78h1M240 84h1M207 59h1M241 67h1M243 56h1M215 79h1M243 86h1M210 39h1M240 88h1M234 75h1M237 75h1M213 80h1M206 69h1M210 59h1M231 90h1M208 58h1M240 76h1M207 63h1M226 70h1M201 80h1M206 75h1M236 87h1M234 63h1M241 81h1M208 62h1M217 53h1M237 65h1M231 82h1M230 40h1M243 92h1M240 62h1M242 84h1M241 72h1M234 76h1M211 54h1M213 52h1M206 73h1M198 60h1M232 73h1M240 87h1M205 68h1M211 58h1M238 85h1M240 81h1M225 54h1M214 79h1M229 74h1M240 68h1M199 56h1M218 66h1M238 69h1M233 72h1M202 75h1M230 72h1M208 64h1M235 81h1M236 73h1M233 88h1M237 60h1M238 67h1M242 77h1M214 58h1M209 50h1M233 61h1M243 77h1M203 89h1M240 81h1M235 66h1M240 66h1M235 72h1M239 66h1M227 64h1M246 88h1M208 58h1M229 83h1M227 64h1M217 44h1M225 63h1M212 62h1M238 52h1M218 58h1M242 69h1M245 45h1M206 67h1M209 65h1M204 77h1M232 49h1M238 73h1M217 91h1M224 35h1M231 86h1M237 83h1M211 29h1M204 89h1M213 64h1M235 78h1M243 72h1M203 42h1M234 77h1M221 60h1M218 56h1M232 80h1M244 71h1M234 86h1M229 75h1M244 71h1M231 39h1M210 53h1M244 75h1M240 75h1M212 52h1M214 61h1M233 49h1M209 65h1M244 76h1M241 76h1M238 62h1M238 83h1M235 70h1M204 46h1M238 72h1M234 83h1M209 66h1M236 70h1M236 79h1M204 69h1M219 21h1M239 73h1M227 38h1M207 69h1M207 51h1M214 71h1M236 74h1M233 72h1M206 67h1M217 36h1M207 57h1M241 77h1M213 52h1M238 78h1M239 82h1M235 80h1M236 84h1M221 67h1M238 80h1M236 89h1M235 69h1M247 80h1M238 87h1M239 62h1M215 64h1M234 63h1M210 73h1M234 72h1M203 70h1M234 38h1M208 74h1M242 79h1M238 41h1M235 73h1M242 61h1M212 54h1M238 70h1M211 77h1M235 76h1M237 70h1M240 92h1M238 83h1M245 66h1M209 55h1M212 58h1M240 68h1" stroke="#000" stroke-opacity="0.3" stroke-width="1"/><path d="M209 65h1M244 66h1M220 67h1M213 52h1M221 61h1M238 80h1M245 86h1M230 77h1M207 73h1M240 62h1M211 58h1M215 72h1M234 77h1M208 74h1M236 81h1M210 45h1M240 75h1M237 72h1M240 72h1M242 66h1M212 73h1M206 71h1M210 68h1M205 58h1M228 49h1M226 79h1M232 76h1M209 70h1M231 68h1M207 59h1M241 76h1M241 76h1M237 77h1M216 78h1M235 80h1M202 80h1M233 86h1M218 51h1M242 82h1M237 63h1M231 90h1M213 60h1M208 56h1M247 86h1M203 72h1M242 72h1M240 70h1M244 54h1M233 62h1M215 59h1M242 88h1M209 66h1M210 50h1M244 60h1M240 66h1M238 82h1M217 41h1M240 69h1M232 82h1M211 55h1M210 41h1M206 43h1M232 75h1M240 86h1M202 72h1M232 59h1M206 76h1M200 63h1M239 93h1M235 72h1M235 85h1M207 67h1M217 62h1M232 74h1M215 54h1M217 77h1M231 90h1M237 68h1M241 76h1M217 53h1M212 61h1M211 57h1M233 66h1M206 55h1M237 50h1M213 48h1M206 74h1M210 49h1M233 57h1M235 58h1M211 52h1M237 60h1M205 70h1M210 70h1M232 75h1M205 62h1M208 64h1M202 70h1M240 70h1M207 65h1M233 65h1M242 70h1M236 71h1M208 50h1M208 61h1M243 86h1M200 91h1M209 69h1M224 58h1M228 53h1M225 87h1M237 88h1M237 72h1M207 71h1M212 68h1M234 82h1M235 82h1M198 73h1M200 69h1M207 56h1M233 73h1M237 92h1M240 74h1M227 77h1M237 81h1M212 59h1M240 70h1M239 82h1M233 80h1M240 81h1M208 63h1M194 73h1M239 65h1M238 68h1M227 55h1M240 67h1M242 72h1M236 80h1M235 67h1M237 73h1M237 64h1M237 74h1M214 55h1M206 76h1M205 74h1M234 64h1M232 76h1M237 82h1M237 89h1M236 65h1M233 66h1M210 65h1M235 85h1M209 52h1M220 78h1M205 64h1M237 82h1M238 77h1M202 72h1M235 67h1M230 68h1M206 59h1M202 64h1M210 65h1M211 54h1M234 74h1M239 71h1M219 58h1M208 65h1M222 69h1M210 77h1M220 43h1M206 63h1M203 72h1M241 70h1M235 79h1M236 80h1M244 86h1M217 64h1M203 75h1M242 75h1M206 44h1M209 41h1M203 79h1M225 67h1M238 73h1M240 63h1M205 75h1M233 58h1M248 74h1M239 74h1M213 60h1M239 84h1M238 71h1M211 62h1M237 64h1M220 44h1M208 68h1M215 77h1M228 45h1M231 72h1M243 66h1M206 68h1M207 51h1M206 55h1M234 74h1M242 77h1M212 69h1M248 39h1M204 55h1M215 54h1M245 81h1M241 78h1M215 71h1M224 62h1M198 80h1M211 64h1M213 60h1M228 49h1M208 58h1M237 67h1M227 54h1M242 67h1M237 84h1M234 73h1M236 79h1M228 53h1M240 60h1M236 73h1M212 72h1M205 87h1M217 73h1M205 69h1M211 50h1M197 78h1M208 71h1M225 58h1M235 78h1M232 65h1M237 86h1M216 52h1M211 52h1M231 85h1M240 65h1M207 68h1M238 78h1M202 72h1M236 60h1M237 88h1M232 86h1M208 59h1M239 78h1M204 83h1M212 69h1M241 90h1M233 77h1M218 52h1M247 84h1M247 71h1M207 67h1M237 87h1M226 55h1M216 44h1M214 55h1M250 82h1M213 52h1M236 60h1M235 74h1M240 69h1M235 80h1M241 77h1M208 50h1M241 68h1M238 82h1M228 69h1M236 45h1M244 73h1M213 72h1M236 72h1M212 55h1M241 58h1M207 65h1M242 86h1M248 64h1M206 57h1M233 70h1M222 60h1M239 52h1M207 60h1M230 66h1M211 63h1M242 60h1M237 86h1M204 73h1M204 50h1M214 59h1M244 79h1M236 78h1M239 73h1M209 60h1M235 73h1M222 49h1M239 89h1M212 65h1M209 81h1M237 73h1M234 68h1M206 72h1M238 83h1M208 58h1M237 62h1M232 75h1M205 48h1M228 88h1M238 83h1M209 57h1M230 87h1M240 71h1M227 75h1M188 51h1M246 72h1M205 79h1M235 83h1M251 57h1M240 76h1M212 51h1M236 78h1M236 65h1M232 82h1M212 81h1M234 53h1M203 61h1M211 62h1M243 71h1M234 77h1M212 69h1M235 83h1M232 85h1M209 73h1M216 56h1M236 83h1M207 63h1M236 66h1M239 82h1M212 55h1M210 63h1M238 81h1M238 80h1M236 74h1M239 78h1M210 60h1M235 73h1M240 74h1M206 62h1M237 66h1M215 86h1M203 70h1M211 65h1M229 83h1M210 63h1M244 79h1M200 60h1M201 69h1M226 84h1M242 76h1M216 85h1M211 71h1M235 84h1M211 66h1M242 84h1M237 83h1M235 73h1M218 50h1M235 70h1M202 87h1M206 60h1M247 44h1M243 92h1M222 55h1M239 76h1M238 84h1M207 63h1M240 82h1M235 83h1M209 56h1M206 54h1M237 70h1M213 62h1M216 85h1M213 54h1M234 75h1M241 76h1M212 65h1M235 76h1M238 57h1M207 68h1M246 81h1M208 63h1M240 70h1M232 62h1M241 85h1M204 61h1M235 75h1M221 64h1M202 49h1M240 52h1M242 73h1M240 74h1M207 77h1M200 91h1M231 84h1M194 82h1M236 82h1M242 88h1M236 59h1M210 47h1M214 76h1M231 72h1M222 70h1M237 75h1M239 66h1M222 44h1M220 71h1M234 93h1M238 73h1M239 79h1M207 68h1M242 64h1M213 53h1M230 62h1M216 52h1M217 57h1M243 65h1M239 91h1M237 69h1M224 60h1M232 77h1M237 72h1M238 86h1M252 73h1M212 69h1M231 59h1M231 67h1M212 56h1M219 65h1M212 52h1M198 76h1M239 81h1M237 56h1M236 82h1M229 72h1M208 82h1M216 52h1M228 71h1M233 87h1M204 67h1M211 59h1M200 95h1M232 61h1M223 60h1M239 72h1M245 89h1M240 84h1M210 60h1M184 63h1M231 83h1M228 37h1M210 70h1M243 69h1M210 53h1M212 46h1M204 74h1M212 66h1M218 50h1M241 89h1M212 58h1M239 75h1M209 70h1M243 84h1M207 79h1M214 50h1M216 76h1M204 67h1M202 57h1M233 68h1M219 47h1M237 81h1M213 37h1M238 68h1M228 58h1M212 62h1M212 61h1M234 88h1M181 54h1M235 79h1M216 56h1M206 80h1M236 79h1M230 84h1M203 72h1" stroke="#000" stroke-opacity="0.3" stroke-width="1"/></g><g transform="translate(0 0.5)" filter="url(#bl)"><path d="M103 238h1M95 223h1M104 230h1M106 239h1M101 239h1M105 225h1M101 246h1M98 224h1M99 232h1M104 237h1M107 238h1M104 229h1M95 228h1M100 238h1M102 222h1M99 239h1M95 226h1M102 227h1M99 229h1M95 220h1M108 224h1M90 225h1M104 241h1M100 229h1M108 245h1M109 230h1M98 240h1M93 220h1M107 228h1M105 239h1M107 224h1M102 229h1M89 191h1M104 238h1M100 225h1M108 230h1M110 236h1M94 242h1M111 223h1M93 234h1M108 222h1M106 216h1M94 203h1M93 243h1M103 234h1M109 222h1M106 234h1M101 226h1M100 231h1M106 242h1M105 233h1M105 224h1M98 223h1M112 224h1M92 226h1M88 281h1M95 237h1M102 236h1M104 225h1M92 232h1M98 220h1M101 223h1M108 218h1M104 217h1M102 233h1M103 223h1M102 232h1M94 224h1M106 214h1M115 231h1M103 259h1M103 224h1M103 240h1M103 233h1M104 233h1M102 234h1M93 227h1M94 237h1M94 230h1M94 238h1M100 229h1M111 234h1M107 234h1M103 239h1M91 220h1M106 240h1M105 239h1M92 223h1M111 238h1M108 233h1M107 236h1M104 235h1M100 239h1M108 230h1M107 229h1M101 226h1M100 231h1M103 225h1M102 232h1M93 234h1M106 240h1M98 241h1M96 235h1M99 232h1M94 224h1M106 226h1M91 236h1M105 240h1M96 237h1M100 193h1M100 236h1M98 227h1M110 229h1M92 232h1M105 227h1M100 229h1M100 217h1M108 244h1M97 220h1M108 223h1M104 232h1M95 242h1M102 224h1M113 235h1M98 218h1M94 217h1M97 228h1M101 217h1M95 222h1M113 232h1M104 244h1M110 237h1M98 231h1M109 223h1M101 238h1M87 227h1M112 226h1M107 240h1M97 233h1M104 226h1M107 224h1M104 227h1M103 242h1M94 239h1M104 234h1M103 243h1M91 233h1M110 227h1M87 236h1M106 223h1M103 217h1M94 229h1M105 237h1M98 222h1M107 220h1M106 241h1M97 223h1M102 224h1M107 224h1M108 246h1M108 231h1M99 240h1M103 218h1M96 238h1M107 238h1M97 240h1M99 243h1M95 216h1M101 242h1M103 232h1M97 204h1M108 232h1M107 221h1M113 224h1M108 235h1M99 228h1M107 230h1M96 235h1M103 235h1M103 240h1M105 234h1M102 227h1M114 229h1M112 226h1M100 241h1M110 213h1M92 227h1M103 217h1M100 241h1M110 229h1M117 244h1M102 238h1M108 244h1M107 231h1M108 228h1M105 224h1M101 219h1M94 217h1M100 225h1M113 223h1M103 256h1M100 218h1M112 226h1M101 225h1M95 236h1M102 224h1M90 222h1M101 233h1M101 227h1M108 229h1M101 237h1M97 232h1M105 237h1M100 232h1M104 229h1M94 235h1M99 216h1M112 230h1M101 228h1M98 223h1M100 250h1M99 235h1M100 242h1M107 230h1M105 216h1M112 234h1M99 231h1M102 220h1M97 229h1M96 225h1M106 228h1M102 224h1M103 244h1M103 237h1M105 218h1M96 228h1M93 239h1M92 222h1M107 239h1M101 249h1M104 243h1M99 224h1M111 216h1M109 236h1M99 231h1M101 229h1M100 227h1M99 223h1M104 235h1M97 233h1M113 226h1M100 235h1M96 238h1M94 232h1M101 227h1M112 244h1M108 238h1M102 241h1M102 218h1M102 236h1M104 222h1M101 226h1M101 223h1M89 216h1M99 222h1M101 217h1M97 229h1M111 221h1M101 232h1M104 221h1M94 239h1M106 223h1M101 235h1M102 241h1M108 239h1M91 232h1M107 232h1M102 227h1M91 221h1M109 243h1M98 222h1M103 226h1M101 223h1M102 242h1M104 239h1M102 230h1M96 235h1M111 228h1M107 220h1M106 230h1M108 224h1M107 235h1M95 212h1M105 234h1M101 253h1M102 234h1M117 234h1M111 230h1M95 230h1M96 222h1M101 230h1M83 218h1M104 228h1M95 235h1M100 236h1M104 233h1M114 226h1M96 233h1M102 215h1M110 237h1M95 239h1M99 236h1M107 221h1M95 220h1M104 234h1M98 230h1M99 229h1M106 212h1M93 223h1M99 233h1M103 232h1M106 229h1M112 212h1M101 226h1M106 226h1M103 221h1M113 232h1M106 219h1M107 233h1M111 226h1M96 243h1M115 216h1M98 240h1M111 238h1M101 236h1M105 237h1M108 239h1M100 234h1M104 226h1M108 233h1M100 223h1M101 233h1M115 217h1M82 270h1M104 234h1M100 239h1M103 227h1M100 231h1M95 219h1M95 237h1M100 238h1M104 215h1M105 235h1M104 227h1M100 226h1M102 231h1M101 231h1M104 240h1M103 220h1M102 240h1M105 237h1M105 233h1M103 227h1M110 235h1M109 234h1M121 234h1M103 230h1M104 227h1M90 234h1M92 231h1M102 225h1M106 221h1M105 238h1M110 232h1M101 230h1M97 234h1M114 237h1M98 220h1M102 248h1M104 226h1M97 237h1M101 238h1M99 244h1M105 231h1M93 225h1M113 229h1M105 233h1M108 235h1M105 219h1M103 238h1" stroke="#000" stroke-opacity="0.3" stroke-width="1"/><path d="M102 216h1M92 227h1M103 229h1M98 231h1M111 197h1M102 239h1M111 223h1M105 228h1M105 225h1M102 230h1M95 235h1M103 232h1M111 228h1M98 232h1M105 241h1M103 233h1M109 225h1M105 214h1M105 218h1M110 232h1M72 242h1M107 231h1M104 222h1M98 225h1M85 236h1M113 209h1M100 215h1M103 232h1M104 230h1M100 226h1M110 220h1M100 231h1M113 234h1M102 232h1M99 219h1M109 224h1M103 234h1M103 228h1M115 232h1M100 233h1M102 225h1M105 227h1M103 217h1M95 241h1M107 219h1M98 238h1M103 237h1M105 237h1M109 219h1M110 225h1M100 242h1M108 220h1M97 235h1M107 250h1M103 250h1M113 223h1M103 212h1M111 233h1M103 239h1M111 238h1M93 234h1M107 231h1M107 222h1M112 238h1M102 228h1M115 230h1M109 233h1M99 214h1M106 220h1M105 237h1M101 240h1M97 229h1M101 232h1M98 228h1M91 238h1M93 227h1M104 237h1M107 217h1M107 235h1M109 220h1M100 217h1M100 230h1M107 220h1M113 228h1M99 222h1M108 227h1M96 238h1M97 234h1M102 207h1M103 230h1M99 218h1M90 240h1M109 248h1M107 227h1M102 227h1M109 229h1M102 219h1M114 231h1M101 222h1M81 224h1M111 232h1M104 228h1M106 228h1M97 236h1M105 222h1M96 229h1M101 225h1M108 237h1M94 190h1M102 231h1M95 233h1M106 223h1M99 229h1M95 219h1M98 232h1M110 234h1M95 223h1M101 229h1M115 220h1M104 221h1M103 228h1M105 242h1M107 253h1M99 237h1M93 225h1M107 219h1M102 217h1M96 234h1M93 240h1M94 220h1M101 222h1M99 235h1M99 233h1M100 250h1M98 239h1M98 231h1M98 219h1M104 221h1M99 236h1M95 229h1M100 234h1M104 222h1M104 244h1M92 222h1M98 224h1M109 237h1M104 236h1M102 234h1M97 245h1M101 245h1M99 220h1M119 219h1M100 234h1M101 226h1M95 232h1M95 235h1M111 222h1M93 229h1M105 234h1M90 220h1M109 221h1M102 244h1M94 224h1M108 217h1M101 234h1M106 236h1M98 220h1M98 234h1M104 248h1M93 234h1M97 225h1M111 237h1M112 239h1M96 233h1M96 236h1M107 230h1M98 243h1M110 232h1M104 219h1M102 218h1M94 234h1M96 234h1M107 226h1M102 218h1M104 226h1M94 238h1M105 231h1M102 240h1M108 233h1M92 230h1M110 237h1M102 242h1M100 230h1M98 233h1M98 239h1M111 226h1M100 216h1M103 242h1M101 226h1M105 227h1M103 225h1M101 222h1M106 219h1M101 249h1M98 237h1M97 237h1M97 221h1M105 231h1M98 231h1M101 238h1M98 223h1M104 231h1M105 205h1M98 240h1M99 220h1M106 228h1M104 228h1M106 226h1M102 214h1M106 226h1M98 230h1M90 220h1M95 250h1M98 215h1M105 218h1M109 246h1M108 227h1M105 233h1M101 243h1M98 227h1M94 227h1M104 224h1M111 230h1M92 203h1M96 241h1M98 240h1M95 235h1M95 213h1M112 230h1M103 220h1M101 235h1M98 232h1M92 245h1M110 220h1M103 235h1M105 240h1M104 230h1M104 243h1M103 235h1M92 228h1M92 225h1M101 226h1M108 228h1M99 226h1M99 239h1M98 236h1M99 232h1M95 221h1M98 232h1M97 220h1M104 239h1M91 241h1M102 235h1M103 223h1M107 228h1M73 223h1M112 220h1M93 227h1M97 233h1M105 240h1M100 217h1M109 215h1M109 241h1M105 232h1M115 233h1M100 220h1M107 232h1M105 220h1M107 230h1M103 229h1M107 207h1M90 228h1M114 227h1M93 229h1M100 235h1M96 220h1M104 235h1M91 223h1M108 229h1M103 218h1M100 231h1M96 223h1M92 234h1M99 229h1M95 228h1M94 225h1M101 229h1M103 234h1M100 225h1M107 227h1M94 233h1M107 217h1M101 225h1M96 234h1M107 227h1M102 226h1M98 222h1M95 222h1M92 227h1M96 231h1M103 241h1M99 216h1M108 230h1M102 229h1M101 199h1M101 235h1M95 227h1M108 222h1M104 231h1M83 231h1M91 229h1M103 232h1M92 222h1M110 221h1M98 240h1M100 231h1M106 201h1M98 233h1M115 240h1M101 229h1M91 240h1M89 220h1M107 233h1M107 244h1M100 219h1M99 228h1M98 234h1M103 224h1M106 244h1M104 229h1M108 232h1M112 230h1M99 227h1M100 228h1M104 224h1M104 236h1M103 235h1M103 225h1M97 237h1M100 217h1M101 238h1M103 228h1M102 220h1M104 218h1M101 228h1M117 236h1M111 221h1M100 228h1M102 235h1M108 230h1M112 231h1M104 227h1M107 238h1M99 232h1M103 222h1M106 242h1M103 224h1M94 220h1M95 232h1M102 230h1M103 232h1M91 234h1M96 227h1M104 217h1M111 236h1M101 222h1M109 240h1M97 232h1M97 237h1M99 229h1M99 229h1M95 223h1M103 234h1M108 242h1M99 217h1M104 233h1M123 222h1M101 225h1M102 231h1M94 235h1" stroke="#000" stroke-opacity="0.3" stroke-width="1"/><path d="M103 224h1M100 235h1M110 230h1M112 241h1M95 226h1M102 241h1M99 219h1M101 224h1M103 226h1M106 228h1M103 226h1M104 237h1M105 237h1M92 235h1M96 235h1M102 224h1M78 239h1M94 236h1M105 226h1M100 240h1M93 225h1M107 222h1M110 225h1M109 239h1M98 217h1M111 231h1M99 239h1M112 230h1M109 230h1M101 238h1M113 254h1M108 237h1M109 246h1M106 229h1M106 237h1M116 230h1M100 220h1M104 231h1M111 232h1M105 230h1M102 229h1M108 245h1M91 234h1M103 228h1M103 218h1M112 222h1M99 226h1M97 217h1M91 234h1M104 239h1M100 221h1M103 213h1M100 234h1M104 227h1M96 240h1M111 236h1M98 205h1M101 220h1M97 229h1M99 222h1M95 235h1M109 233h1M105 236h1M102 223h1M108 222h1M107 227h1M105 219h1M104 246h1M106 235h1M94 240h1M96 222h1M101 230h1M106 215h1M106 237h1M108 220h1M110 228h1M112 221h1M103 230h1M105 240h1M105 228h1M97 232h1M104 230h1M98 220h1M99 225h1M103 236h1M99 240h1M100 225h1M97 238h1M106 218h1M110 247h1M115 223h1M95 233h1M103 229h1M107 237h1M107 229h1M95 237h1M110 227h1M97 227h1M103 229h1M90 231h1M108 224h1M96 227h1M99 238h1M98 228h1M109 233h1M105 229h1M106 225h1M108 226h1M106 220h1M101 221h1M104 237h1M105 237h1M113 227h1M104 226h1M103 220h1M102 224h1M95 227h1M99 245h1M102 236h1M100 238h1M102 236h1M94 227h1M102 233h1M94 244h1M107 220h1M96 232h1M103 239h1M106 240h1M104 210h1M100 225h1M105 223h1M103 246h1M108 241h1M112 236h1M95 233h1M100 217h1M93 241h1M98 237h1M107 226h1M100 228h1M108 222h1M104 230h1M103 236h1M95 239h1M109 220h1M97 224h1M104 222h1M94 237h1M109 239h1M109 236h1M102 239h1M105 240h1M98 226h1M101 235h1M100 220h1M98 254h1M85 231h1M114 230h1M108 226h1M109 226h1M101 238h1M107 221h1M99 231h1M77 223h1M100 229h1M109 237h1M105 235h1M94 228h1M101 222h1M106 232h1M101 238h1M100 236h1M102 230h1M106 227h1M99 231h1M101 244h1M102 232h1M94 226h1M103 227h1M111 236h1M108 223h1M105 218h1M103 215h1M111 218h1M100 214h1M102 216h1M98 231h1M134 242h1M113 228h1M107 225h1M102 232h1M97 222h1M107 228h1M108 226h1M105 230h1M96 225h1M97 239h1M100 221h1M102 221h1M106 222h1M99 242h1M110 216h1M108 237h1M101 233h1M106 226h1M109 238h1M112 229h1M102 229h1M109 234h1M99 234h1M106 228h1M110 233h1M107 231h1M111 230h1M97 229h1M111 237h1M105 236h1M103 225h1M109 229h1M91 223h1M100 198h1M105 238h1M110 226h1M104 219h1M97 232h1M113 236h1M102 217h1M110 225h1M110 229h1M109 218h1M104 229h1M99 231h1M93 233h1M96 227h1M96 223h1M98 234h1M93 226h1M107 227h1M97 231h1M102 240h1M103 225h1M97 224h1M114 234h1M76 206h1M102 234h1M106 221h1M110 240h1M97 238h1M106 235h1M106 231h1M96 239h1M100 235h1M109 233h1M113 222h1M100 238h1M98 227h1M107 243h1M108 234h1M114 229h1M107 217h1M105 219h1M101 244h1M100 220h1M99 216h1M103 236h1M107 229h1M96 202h1M97 231h1M107 236h1M93 226h1M101 242h1M99 238h1M102 235h1M110 246h1M106 226h1M108 229h1M101 233h1M104 241h1M106 228h1M106 233h1M97 230h1M104 226h1M113 228h1M98 235h1M96 227h1M98 231h1M107 227h1M111 225h1M108 219h1M100 229h1M96 232h1M99 234h1M102 232h1M100 210h1M100 236h1M101 226h1M98 242h1M102 229h1M98 237h1M100 234h1M104 232h1M105 245h1M110 224h1M109 227h1M97 230h1M111 237h1M109 241h1M102 220h1M115 232h1M109 224h1M106 220h1M111 242h1M107 219h1M97 232h1M93 230h1M107 224h1M103 228h1M94 224h1M108 235h1M102 221h1M120 217h1M113 234h1M98 225h1M102 231h1M94 229h1M113 230h1M96 224h1M114 233h1M103 227h1M104 221h1M99 242h1M89 248h1M108 228h1M98 230h1M98 235h1M111 235h1M107 227h1M101 239h1M113 219h1M100 225h1M101 238h1M99 225h1M94 209h1M99 234h1M100 244h1M99 236h1M103 233h1M101 210h1M99 224h1M104 240h1M101 235h1M103 221h1M105 236h1M104 217h1M101 241h1M91 232h1M100 222h1M107 251h1M118 220h1M100 236h1M92 227h1M106 222h1M92 231h1M96 234h1M107 232h1M100 226h1M98 221h1M113 233h1M104 224h1M106 227h1M107 245h1M104 228h1M98 217h1M94 224h1M102 213h1M104 220h1M94 234h1M103 230h1M106 214h1M100 230h1M99 233h1M108 233h1M109 224h1M108 226h1M99 224h1M112 239h1M110 216h1M104 220h1M101 225h1M97 225h1" stroke="#000" stroke-opacity="0.3" stroke-width="1"/><path d="M103 223h1M98 223h1M101 223h1M99 231h1M109 225h1M75 235h1M102 189h1M102 243h1M103 241h1M111 230h1M100 238h1M103 229h1M104 228h1M97 231h1M96 222h1M103 216h1M102 239h1M92 222h1M111 230h1M112 235h1M97 220h1M100 232h1M81 214h1M97 223h1M97 217h1M104 225h1M101 223h1M98 233h1M98 229h1M80 225h1M97 238h1M101 231h1M109 222h1M103 240h1M100 230h1M98 225h1M103 226h1M110 229h1M104 226h1M107 235h1M99 238h1M100 227h1M100 231h1M101 233h1M103 233h1M97 226h1M108 233h1M100 236h1M108 225h1M97 219h1M104 226h1M103 229h1M100 217h1M98 223h1M117 231h1M96 244h1M100 238h1M110 230h1M92 232h1M102 225h1M102 226h1M99 232h1M97 226h1M103 222h1M97 224h1M115 237h1M102 234h1M113 231h1M89 242h1M104 238h1M107 241h1M96 225h1M104 225h1M103 235h1M101 220h1M112 239h1M102 225h1M111 237h1M110 232h1M110 230h1M110 229h1M104 234h1M101 232h1M108 233h1M111 237h1M100 218h1M105 231h1M103 222h1M106 223h1M110 221h1M103 234h1M107 229h1M102 228h1M106 226h1M112 232h1M94 236h1M104 217h1M111 236h1M94 239h1M106 236h1M100 217h1M121 227h1M104 233h1M102 234h1M113 232h1M105 229h1M103 225h1M104 243h1M102 237h1M96 239h1M104 222h1M110 241h1M100 218h1M121 224h1M106 228h1M99 238h1M108 235h1M110 233h1M93 236h1M103 234h1M106 235h1M110 226h1M103 224h1M104 214h1M102 242h1M117 207h1M104 232h1M102 233h1M98 219h1M105 223h1M103 225h1M100 220h1M112 252h1M103 224h1M111 223h1M96 225h1M102 236h1M105 236h1M102 233h1M104 225h1M90 231h1M100 239h1M98 234h1M113 228h1M111 222h1M98 235h1M99 221h1M110 217h1M103 229h1M105 237h1M104 218h1M107 241h1M104 221h1M101 231h1M108 234h1M113 232h1M100 237h1M90 270h1M108 227h1M101 234h1M108 227h1M103 210h1M103 233h1M101 217h1M94 240h1M102 226h1M103 232h1M96 246h1M99 251h1M102 235h1M93 216h1M98 221h1M95 221h1M107 235h1M112 235h1M107 237h1M105 237h1M107 238h1M98 233h1M110 234h1M106 215h1M110 238h1M92 223h1M108 222h1M105 233h1M106 226h1M108 226h1M92 232h1M103 236h1M98 236h1M109 235h1M110 234h1M96 243h1M100 249h1M107 226h1M98 222h1M107 239h1M104 229h1M109 237h1M110 216h1M111 227h1M101 230h1M99 235h1M91 236h1M100 231h1M106 229h1M100 229h1M98 235h1M95 225h1M105 220h1M102 235h1M108 229h1M105 228h1M102 238h1M97 236h1M107 222h1M99 228h1M94 239h1M112 232h1M94 224h1M98 234h1M97 221h1M93 224h1M95 218h1M92 236h1M100 247h1M100 228h1M93 228h1M103 227h1M99 236h1M98 239h1M101 214h1M110 224h1M104 244h1M79 224h1M115 225h1M106 232h1M107 243h1M115 231h1M103 214h1M93 223h1M108 232h1M106 240h1M98 239h1M96 244h1M101 241h1M102 223h1M101 244h1M88 232h1M104 235h1M100 241h1M104 239h1M108 224h1M106 238h1M107 227h1M104 221h1M98 229h1M102 231h1M97 218h1M100 232h1M102 227h1M103 240h1M104 234h1M105 214h1M92 217h1M103 215h1M102 219h1M102 246h1M102 222h1M104 232h1M109 227h1M97 236h1M106 232h1M93 207h1M103 214h1M93 230h1M95 225h1M99 220h1M105 240h1M110 226h1M100 222h1M103 230h1M101 222h1M106 218h1M99 236h1M104 239h1M111 223h1M100 238h1M105 231h1M106 252h1M95 237h1M99 233h1M102 225h1M103 244h1M100 234h1M103 231h1M95 223h1M99 221h1M100 222h1M94 231h1M100 234h1M108 236h1M109 218h1M85 219h1M102 233h1M97 226h1M101 226h1M92 227h1M103 192h1M105 243h1M105 225h1M103 230h1M96 235h1M102 239h1M109 236h1M117 224h1M104 223h1M104 196h1M104 259h1M104 222h1M111 222h1M104 198h1M102 241h1M107 234h1M108 237h1M102 235h1M95 236h1M92 225h1M109 219h1M107 237h1M92 232h1M115 228h1M100 231h1M118 194h1M111 230h1M93 226h1M103 239h1M106 235h1M103 220h1M109 220h1M104 227h1M112 244h1M110 228h1M105 230h1M102 227h1M107 229h1M108 211h1M100 226h1M108 233h1M94 236h1M97 232h1M104 230h1M95 233h1M105 240h1M109 234h1M108 218h1M103 233h1M100 235h1M102 234h1M107 225h1M93 231h1M96 220h1M89 203h1M110 220h1M103 226h1M112 229h1M109 226h1M109 225h1M98 243h1M106 234h1M107 214h1M103 215h1M100 229h1M104 219h1M104 218h1M103 233h1M102 214h1M99 224h1M113 229h1M106 229h1M117 250h1M94 236h1M99 228h1M111 235h1M100 213h1M97 228h1M105 215h1M101 235h1M97 240h1M100 230h1" stroke="#000" stroke-opacity="0.3" stroke-width="1"/><path d="M92 232h1M97 251h1M105 240h1M107 242h1M101 233h1M106 223h1M87 201h1M89 224h1M91 231h1M103 217h1M99 229h1M101 215h1M109 227h1M112 239h1M85 225h1M102 227h1M106 237h1M95 237h1M95 229h1M108 240h1M101 241h1M102 218h1M101 228h1M104 244h1M102 241h1M112 234h1M102 229h1M107 217h1M92 229h1M110 237h1M105 222h1M106 223h1M98 238h1M100 228h1M93 228h1M114 225h1M106 232h1M103 232h1M111 246h1M97 219h1M104 237h1M103 219h1M99 215h1M122 221h1M103 223h1M94 231h1M101 242h1M100 227h1M103 227h1M109 246h1M111 231h1M94 237h1M107 226h1M129 231h1M105 231h1M102 221h1M103 220h1M104 235h1M105 218h1M98 232h1M101 234h1M111 243h1M96 226h1M97 228h1M100 221h1M101 238h1M102 242h1M99 226h1M99 221h1M104 220h1M106 230h1M102 236h1M108 236h1M109 230h1M100 229h1M108 219h1M96 232h1M110 242h1M99 230h1M99 242h1M108 222h1M91 237h1M105 218h1M99 235h1M99 218h1M102 238h1M94 226h1M89 222h1M109 236h1M94 246h1M100 234h1M97 226h1M98 227h1M100 222h1M103 225h1M93 225h1M100 232h1M102 230h1M108 239h1M109 225h1M111 230h1M105 220h1M113 235h1M105 232h1M103 223h1M118 231h1M106 232h1M109 226h1M107 238h1M97 241h1M103 225h1M97 232h1M99 234h1M104 236h1M99 240h1M101 232h1M108 242h1M105 231h1M110 202h1M97 229h1M98 231h1M97 234h1M107 220h1M96 231h1M110 238h1M98 237h1M105 241h1M98 229h1M96 238h1M108 233h1M101 239h1M100 218h1M94 222h1M98 211h1M108 231h1M91 238h1M103 234h1M94 227h1M95 226h1M99 235h1M103 215h1M108 233h1M114 246h1M104 221h1M99 222h1M107 218h1M89 226h1M105 212h1M109 222h1M94 223h1M106 225h1M107 230h1M106 231h1M76 204h1M105 232h1M103 231h1M96 241h1M107 230h1M99 239h1M96 230h1M99 228h1M101 228h1M98 229h1M106 222h1M98 221h1M108 221h1M103 225h1M110 226h1M108 239h1M95 226h1M87 236h1M100 224h1M97 241h1M84 194h1M101 233h1M100 221h1M99 243h1M107 240h1M94 235h1M98 237h1M106 227h1M101 235h1M104 226h1M100 253h1M93 219h1M102 226h1M90 234h1M111 222h1M114 231h1M101 215h1M104 225h1M94 233h1M112 231h1M129 209h1M102 221h1M98 237h1M117 217h1M96 229h1M101 229h1M106 232h1M104 238h1M98 241h1M107 235h1M100 220h1M109 223h1M97 228h1M100 231h1M106 238h1M92 230h1M95 220h1M106 225h1M80 214h1M94 234h1M105 228h1M104 226h1M99 229h1M101 238h1M99 232h1M102 219h1M114 232h1M98 239h1M104 218h1M96 227h1M104 239h1M108 233h1M109 223h1M100 245h1M100 234h1M96 232h1M107 231h1M90 224h1M93 226h1M106 225h1M101 218h1M104 234h1M110 243h1M107 238h1M96 219h1M99 230h1M107 238h1M104 229h1M100 232h1M100 234h1M112 219h1M110 224h1M103 221h1M102 218h1M100 228h1M111 232h1M109 226h1M106 230h1M109 238h1M100 226h1M100 239h1M100 221h1M92 229h1M110 230h1M103 243h1M100 214h1M106 240h1M106 236h1M110 221h1M102 224h1M108 236h1M95 236h1M100 235h1M91 226h1M102 237h1M110 233h1M99 234h1M100 228h1M110 221h1M109 225h1M108 208h1M92 225h1M91 220h1M111 233h1M112 242h1M103 224h1M121 233h1M106 217h1M91 238h1M101 213h1M110 234h1M103 224h1M86 187h1M104 237h1M105 237h1M97 232h1M106 244h1M99 232h1M114 235h1M107 232h1M105 242h1M102 243h1M82 217h1M101 235h1M109 224h1M98 230h1M98 237h1M106 220h1M98 236h1M96 223h1M110 232h1M93 219h1M103 229h1M100 241h1M105 238h1M106 237h1M100 224h1M91 231h1M120 218h1M102 224h1M100 226h1M98 236h1M101 233h1M101 223h1M106 233h1M96 222h1M113 227h1M106 223h1M112 230h1M103 226h1M102 217h1M108 233h1M109 236h1M89 219h1M105 224h1M102 232h1M93 223h1M108 237h1M102 229h1M95 239h1M105 227h1M104 241h1M104 226h1M102 243h1M84 235h1M103 228h1M103 227h1M107 228h1M100 227h1M97 239h1M92 229h1M98 230h1M98 242h1M85 242h1M110 233h1M103 219h1M107 233h1M105 238h1M100 227h1M107 247h1M96 238h1M102 241h1M103 227h1M102 241h1M100 226h1M97 233h1M100 216h1M113 238h1M110 227h1M87 232h1M106 235h1M94 227h1M108 237h1M101 227h1M92 226h1M97 230h1M104 240h1M105 224h1M101 242h1M104 236h1M88 227h1M117 229h1M111 239h1M101 226h1M96 241h1M96 226h1M134 266h1M91 232h1M104 234h1M107 236h1M103 247h1M99 231h1M108 221h1M102 219h1M109 231h1M106 223h1M107 222h1" stroke="#000" stroke-opacity="0.3" stroke-width="1"/><path d="M105 235h1M103 218h1M98 236h1M115 236h1M107 224h1M99 242h1M106 233h1M103 237h1M100 224h1M94 240h1M105 217h1M103 222h1M88 241h1M130 249h1M99 240h1M100 221h1M108 233h1M108 221h1M96 234h1M102 215h1M99 226h1M110 216h1M109 242h1M100 224h1M105 236h1M111 229h1M101 235h1M105 221h1M103 238h1M102 246h1M101 231h1M99 222h1M100 232h1M98 237h1M98 217h1M103 241h1M111 233h1M93 220h1M95 241h1M96 233h1M105 226h1M93 226h1M101 232h1M103 246h1M103 230h1M115 220h1M102 222h1M99 231h1M104 242h1M112 224h1M103 225h1M106 228h1M97 224h1M108 236h1M105 237h1M125 254h1M102 223h1M106 248h1M101 233h1M98 221h1M104 227h1M102 226h1M101 249h1M110 219h1M95 234h1M95 238h1M88 222h1M99 224h1M95 218h1M104 240h1M105 223h1M98 224h1M96 224h1M103 244h1M95 241h1M97 238h1M107 233h1M95 239h1M100 234h1M93 224h1M107 234h1M103 222h1M105 228h1M106 225h1M94 226h1M95 236h1M108 236h1M113 235h1M110 242h1M96 229h1M94 216h1M111 236h1M108 226h1M108 204h1M111 233h1M109 246h1M101 231h1M111 221h1M110 223h1M106 245h1M89 221h1M123 221h1M97 242h1M98 217h1M104 232h1M104 227h1M105 217h1M104 225h1M90 235h1M110 221h1M103 217h1M94 220h1M102 233h1M98 221h1M106 219h1M111 225h1M94 238h1M104 233h1M97 226h1M106 238h1M91 225h1M101 221h1M94 231h1M97 234h1M107 233h1M99 229h1M109 228h1M102 220h1M103 229h1M104 241h1M100 229h1M107 239h1M109 231h1M112 224h1M100 244h1M97 233h1M99 225h1M99 225h1M100 231h1M103 237h1M97 245h1M110 263h1M95 242h1M97 220h1M112 233h1M115 215h1M111 234h1M100 233h1M107 221h1M113 240h1M96 222h1M100 228h1M100 245h1M89 210h1M96 236h1M105 219h1M99 232h1M100 229h1M105 239h1M105 228h1M106 222h1M97 222h1M93 213h1M97 238h1M104 214h1M104 243h1M108 227h1M131 209h1M104 224h1M102 223h1M101 236h1M98 243h1M100 234h1M96 217h1M103 222h1M107 239h1M101 229h1M94 239h1M104 228h1M110 233h1M98 234h1M99 217h1M105 256h1M105 225h1M94 231h1M113 226h1M113 230h1M103 229h1M113 227h1M103 233h1M114 231h1M78 280h1M104 228h1M97 231h1M103 232h1M108 230h1M101 232h1M98 231h1M94 232h1M96 229h1M100 240h1M99 235h1M99 225h1M106 237h1M96 222h1M92 226h1M109 230h1M105 236h1M104 234h1M100 225h1M105 234h1M105 223h1M117 230h1M96 231h1M102 245h1M96 231h1M102 221h1M104 223h1M109 230h1M113 232h1M109 226h1M96 238h1M95 220h1M99 217h1M111 238h1M107 233h1M94 234h1M105 233h1M110 220h1M93 222h1M94 225h1M102 222h1M100 233h1M99 233h1M106 241h1M102 235h1M109 243h1M103 232h1M105 231h1M96 228h1M102 202h1M102 230h1M98 238h1M108 224h1M91 218h1M104 240h1M114 226h1M98 224h1M103 225h1M97 231h1M96 240h1M97 227h1M96 235h1M104 225h1M110 230h1M103 259h1M97 234h1M90 238h1M111 225h1M101 236h1M109 236h1M98 240h1M111 236h1M98 236h1M107 231h1M109 230h1M110 234h1M105 218h1M102 236h1M97 219h1M99 233h1M99 236h1M110 232h1M104 224h1M103 223h1M100 220h1M97 234h1M106 230h1M121 233h1M90 211h1M99 238h1M108 222h1M95 241h1M94 227h1M109 228h1M105 239h1M109 237h1M98 222h1M106 220h1M102 229h1M116 224h1M114 225h1M96 231h1M93 230h1M101 232h1M111 235h1M95 236h1M99 247h1M109 238h1M106 213h1M106 222h1M102 226h1M95 235h1M96 212h1M102 233h1M86 214h1M111 237h1M111 221h1M103 240h1M94 227h1M96 227h1M105 233h1M120 224h1M112 236h1M109 226h1M97 223h1M102 234h1M103 233h1M103 219h1M99 222h1M98 226h1M120 230h1M95 217h1M109 230h1M114 230h1M97 236h1M98 234h1M91 235h1M98 216h1M108 249h1M112 231h1M103 231h1M96 226h1M111 235h1M104 237h1M99 235h1M100 228h1M110 252h1M107 219h1M103 230h1M94 236h1M102 235h1M115 231h1M104 239h1M110 233h1M109 224h1M103 241h1M105 223h1M110 227h1M100 222h1M96 234h1M105 236h1M101 232h1M110 226h1M104 226h1M93 228h1M92 225h1M104 215h1M106 234h1M110 230h1M104 230h1M96 219h1M98 233h1M112 221h1M109 222h1M119 227h1M110 229h1M106 224h1M107 239h1M99 220h1M108 235h1M95 215h1M101 234h1M104 229h1M107 238h1M98 217h1M96 229h1M109 240h1M103 237h1M114 229h1M99 220h1M99 237h1M109 236h1M102 208h1M99 221h1M105 253h1M112 237h1M107 217h1M97 219h1" stroke="#000" stroke-opacity="0.3" stroke-width="1"/></g><g transform="translate(0 0.5)" filter="url(#bl)"><path d="M246 239h1M250 228h1M238 232h1M249 224h1M242 230h1M240 241h1M235 218h1M248 234h1M248 220h1M266 237h1M244 241h1M242 232h1M236 231h1M251 232h1M250 232h1M247 236h1M241 242h1M258 209h1M247 233h1M239 217h1M256 206h1M252 192h1M241 228h1M237 233h1M244 209h1M250 235h1M244 244h1M240 236h1M236 221h1M244 234h1M243 243h1M249 222h1M242 235h1M250 231h1M236 237h1M247 224h1M244 234h1M250 224h1M238 236h1M235 228h1M242 218h1M250 236h1M249 231h1M246 238h1M238 224h1M240 222h1M247 227h1M248 231h1M239 236h1M248 236h1M241 231h1M242 241h1M240 243h1M244 227h1M255 203h1M252 232h1M249 227h1M241 213h1M247 230h1M249 216h1M245 238h1M238 234h1M241 231h1M241 224h1M245 238h1M241 212h1M243 242h1M239 217h1M242 223h1M242 215h1M237 230h1M240 227h1M241 222h1M243 226h1M253 237h1M254 247h1M240 235h1M249 227h1M240 230h1M239 230h1M241 228h1M245 213h1M247 235h1M252 228h1M244 223h1M243 225h1M238 237h1M238 226h1M243 235h1M254 240h1M242 225h1M244 238h1M248 239h1M244 214h1M249 229h1M249 230h1M245 237h1M240 239h1M244 232h1M241 240h1M240 230h1M249 232h1M236 230h1M244 235h1M241 206h1M248 230h1M251 196h1M246 221h1M247 233h1M245 230h1M246 225h1M247 223h1M237 229h1M239 215h1M230 215h1M253 224h1M245 226h1M247 232h1M220 196h1M240 228h1M245 225h1M243 238h1M236 222h1M241 216h1M250 238h1M245 236h1M237 233h1M243 232h1M243 231h1M242 221h1M241 211h1M228 222h1M243 238h1M244 224h1M247 243h1M239 228h1M240 229h1M240 222h1M243 234h1M242 227h1M241 225h1M241 229h1M247 227h1M205 215h1M238 220h1M240 224h1M249 236h1M244 227h1M238 227h1M238 225h1M245 241h1M240 233h1M249 239h1M244 227h1M247 236h1M242 236h1M242 231h1M249 226h1M242 223h1M242 230h1M248 221h1M251 238h1M251 227h1M245 231h1M245 224h1M246 242h1M246 227h1M251 224h1M244 235h1M226 212h1M244 236h1M242 231h1M241 230h1M242 216h1M240 236h1M245 211h1M245 227h1M244 235h1M234 232h1M237 228h1M252 206h1M234 213h1M230 215h1M248 219h1M242 225h1M238 221h1M243 235h1M252 234h1M236 210h1M246 242h1M251 241h1M247 227h1M243 230h1M244 224h1M239 229h1M245 218h1M237 230h1M247 233h1M244 242h1M244 212h1M242 226h1M246 226h1M233 220h1M237 215h1M246 229h1M243 216h1M246 231h1M254 228h1M240 210h1M242 228h1M239 231h1M241 225h1M233 219h1M242 233h1M239 232h1M239 235h1M240 229h1M246 225h1M249 229h1M242 236h1M252 229h1M237 226h1M239 232h1M251 226h1M249 235h1M238 229h1M242 238h1M246 224h1M250 230h1M236 223h1M243 234h1M246 229h1M249 229h1M243 228h1M239 220h1M249 238h1M248 228h1M245 236h1M246 240h1M244 224h1M249 210h1M239 243h1M241 222h1M242 234h1M249 235h1M245 241h1M246 240h1M239 224h1M242 217h1M244 221h1M249 233h1M242 230h1M241 224h1M242 236h1M251 238h1M246 231h1M244 238h1M247 229h1M239 222h1M248 234h1M240 226h1M224 224h1M240 222h1M247 225h1M244 241h1M238 236h1M236 205h1M239 238h1M238 234h1M244 223h1M242 239h1M248 230h1M246 227h1M238 228h1M235 236h1M241 224h1M242 226h1M238 231h1M244 225h1M224 211h1M246 232h1M243 227h1M244 222h1M243 241h1M242 237h1M242 223h1M247 248h1M234 223h1M249 205h1M245 238h1M245 225h1M244 239h1M233 227h1M248 213h1M246 223h1M241 228h1M241 228h1M234 221h1M247 214h1M239 210h1M247 239h1M243 241h1M244 232h1M243 242h1M248 226h1M243 236h1M242 228h1M242 229h1M246 234h1M246 221h1M241 226h1M250 238h1M247 195h1M246 227h1M241 229h1M234 238h1M248 222h1M239 234h1M239 216h1M242 207h1M251 228h1M248 240h1M234 232h1M243 230h1M244 233h1M248 238h1M244 241h1M241 220h1M247 232h1M249 230h1M250 214h1M246 219h1M248 236h1M236 231h1M245 238h1M241 219h1M249 234h1M242 239h1M243 220h1M235 225h1M253 227h1M243 231h1M244 228h1M240 231h1M248 226h1M238 223h1M245 231h1M241 233h1M249 234h1M236 225h1M251 236h1M247 243h1M241 217h1M247 233h1M248 228h1M244 224h1M246 216h1M245 241h1M245 236h1M242 240h1M238 225h1M234 237h1M246 223h1M240 229h1M248 228h1M237 233h1M247 229h1M246 239h1M247 222h1M252 229h1M236 241h1M239 239h1M242 229h1M239 231h1M239 231h1M239 236h1M242 239h1M252 222h1M249 239h1M238 226h1M244 237h1M241 238h1M239 236h1M251 237h1M241 233h1M246 233h1M251 241h1M246 232h1M243 224h1M236 226h1M248 232h1M243 211h1M249 240h1M239 234h1M238 211h1" stroke="#000" stroke-opacity="0.3" stroke-width="1"/><path d="M244 238h1M240 241h1M246 228h1M257 225h1M246 234h1M245 214h1M242 224h1M243 221h1M256 199h1M247 227h1M244 234h1M241 235h1M241 223h1M246 229h1M236 205h1M248 233h1M241 235h1M249 238h1M245 217h1M243 224h1M235 234h1M247 208h1M238 221h1M238 230h1M246 219h1M244 215h1M240 244h1M242 233h1M240 232h1M242 208h1M244 242h1M235 233h1M242 236h1M245 233h1M253 228h1M243 235h1M239 236h1M246 235h1M239 243h1M249 227h1M249 238h1M236 245h1M243 240h1M243 219h1M251 213h1M255 221h1M242 235h1M246 232h1M247 225h1M247 227h1M244 227h1M240 237h1M248 233h1M239 227h1M236 209h1M242 233h1M240 239h1M243 229h1M242 223h1M249 226h1M247 243h1M243 232h1M244 227h1M248 193h1M245 231h1M248 241h1M244 216h1M244 228h1M244 240h1M243 236h1M237 231h1M247 236h1M247 227h1M239 220h1M246 223h1M242 222h1M246 230h1M264 240h1M232 229h1M251 241h1M239 225h1M244 232h1M242 245h1M242 229h1M240 234h1M243 241h1M237 235h1M237 230h1M244 233h1M239 221h1M243 223h1M245 233h1M240 238h1M237 215h1M248 234h1M245 221h1M239 222h1M250 239h1M248 220h1M234 237h1M223 237h1M240 227h1M236 236h1M239 233h1M240 220h1M241 239h1M236 232h1M243 234h1M244 221h1M243 233h1M239 220h1M242 226h1M236 229h1M249 234h1M237 238h1M230 224h1M245 211h1M243 234h1M239 225h1M246 230h1M236 258h1M248 233h1M249 228h1M247 227h1M237 231h1M243 240h1M244 233h1M241 240h1M268 207h1M258 200h1M247 228h1M250 205h1M236 230h1M237 233h1M247 227h1M249 231h1M243 220h1M247 221h1M253 237h1M246 234h1M242 224h1M243 232h1M244 222h1M241 216h1M246 221h1M255 201h1M245 239h1M237 214h1M256 234h1M244 228h1M246 235h1M240 239h1M248 230h1M236 234h1M246 224h1M245 236h1M244 223h1M242 221h1M244 225h1M246 224h1M243 238h1M242 230h1M240 244h1M236 235h1M242 228h1M233 222h1M242 232h1M240 237h1M245 223h1M245 226h1M249 241h1M246 243h1M243 234h1M243 241h1M242 228h1M249 234h1M249 222h1M235 231h1M247 238h1M241 213h1M240 214h1M243 215h1M241 215h1M250 239h1M247 241h1M239 241h1M246 222h1M245 234h1M234 223h1M252 236h1M237 229h1M248 223h1M248 240h1M224 241h1M242 232h1M252 225h1M248 225h1M237 236h1M245 235h1M250 241h1M242 230h1M241 257h1M237 224h1M244 213h1M252 216h1M238 227h1M249 215h1M245 244h1M243 232h1M245 215h1M253 215h1M245 220h1M244 245h1M240 234h1M242 244h1M247 231h1M228 220h1M239 225h1M250 236h1M236 225h1M244 228h1M236 226h1M251 230h1M235 228h1M238 237h1M247 232h1M245 232h1M248 225h1M251 229h1M248 201h1M240 234h1M248 186h1M246 236h1M260 212h1M246 232h1M233 210h1M246 230h1M244 229h1M252 237h1M252 236h1M239 232h1M235 208h1M234 216h1M243 229h1M236 218h1M244 219h1M245 236h1M246 229h1M245 225h1M246 226h1M246 226h1M241 236h1M247 224h1M247 227h1M242 220h1M243 242h1M245 221h1M246 235h1M236 235h1M243 240h1M248 228h1M245 231h1M246 234h1M234 233h1M248 228h1M245 234h1M242 231h1M239 236h1M245 226h1M248 230h1M241 225h1M241 209h1M243 214h1M238 228h1M243 228h1M238 233h1M245 238h1M243 228h1M248 209h1M237 222h1M248 240h1M242 233h1M243 228h1M245 235h1M242 212h1M236 235h1M242 232h1M245 235h1M243 240h1M240 222h1M243 221h1M249 228h1M232 220h1M248 235h1M242 222h1M248 224h1M241 228h1M236 228h1M244 225h1M251 232h1M243 239h1M247 230h1M245 230h1M246 229h1M243 235h1M247 231h1M240 226h1M246 222h1M242 223h1M242 233h1M249 232h1M245 237h1M245 215h1M251 238h1M248 241h1M237 228h1M239 231h1M240 237h1M239 239h1M244 237h1M239 225h1M239 236h1M238 224h1M249 225h1M243 235h1M239 237h1M248 235h1M240 235h1M244 228h1M246 236h1M250 234h1M254 237h1M242 228h1M237 234h1M238 231h1M245 230h1M249 226h1M240 230h1M248 235h1M249 235h1M246 225h1M242 198h1M235 231h1M249 234h1M240 232h1M238 230h1M238 236h1M239 224h1M250 233h1M239 222h1M239 236h1M242 217h1M241 228h1M236 229h1M244 228h1M244 231h1M240 226h1M240 224h1M240 223h1M245 246h1M245 226h1M246 223h1M240 226h1M250 235h1M240 225h1M238 241h1M249 210h1M245 225h1M248 220h1M243 234h1M241 225h1M249 232h1M233 210h1M243 243h1M246 233h1M246 217h1M250 218h1M241 229h1M243 214h1M240 229h1M242 239h1M248 232h1M251 228h1M245 239h1M240 224h1M247 238h1M244 226h1M244 229h1M252 225h1M245 244h1M243 240h1M237 216h1M237 229h1M237 237h1M241 220h1" stroke="#000" stroke-opacity="0.3" stroke-width="1"/><path d="M241 237h1M245 225h1M247 213h1M245 234h1M236 223h1M236 232h1M223 211h1M243 252h1M239 238h1M250 227h1M244 223h1M256 228h1M240 207h1M250 234h1M239 225h1M241 226h1M242 241h1M240 236h1M245 220h1M244 238h1M239 235h1M242 232h1M241 231h1M245 226h1M239 236h1M241 238h1M246 228h1M239 229h1M243 226h1M241 230h1M244 225h1M249 228h1M244 230h1M244 233h1M238 236h1M243 219h1M245 241h1M242 232h1M250 214h1M240 243h1M236 234h1M242 235h1M250 230h1M245 203h1M232 227h1M241 234h1M250 234h1M243 243h1M248 219h1M241 233h1M238 236h1M244 227h1M248 238h1M244 230h1M248 228h1M245 223h1M240 220h1M237 228h1M229 229h1M241 229h1M246 242h1M250 234h1M240 242h1M244 237h1M244 230h1M247 218h1M236 235h1M253 231h1M244 229h1M243 226h1M239 242h1M237 227h1M246 240h1M240 227h1M243 222h1M241 223h1M240 224h1M250 229h1M245 236h1M241 224h1M238 226h1M245 233h1M239 227h1M246 239h1M239 221h1M251 237h1M245 222h1M249 232h1M239 228h1M250 239h1M253 235h1M246 225h1M244 227h1M235 226h1M243 237h1M239 235h1M237 236h1M235 230h1M244 234h1M247 227h1M255 229h1M240 229h1M238 236h1M249 219h1M239 226h1M247 230h1M247 217h1M243 225h1M242 237h1M246 229h1M247 222h1M243 215h1M244 232h1M242 229h1M243 227h1M242 227h1M246 231h1M236 232h1M244 241h1M240 223h1M245 216h1M243 222h1M231 209h1M244 229h1M244 227h1M229 221h1M240 226h1M254 217h1M245 240h1M240 244h1M240 228h1M240 233h1M242 236h1M240 208h1M234 232h1M245 234h1M239 229h1M245 241h1M241 225h1M235 209h1M243 221h1M227 227h1M234 217h1M248 225h1M246 229h1M243 221h1M220 211h1M239 215h1M244 233h1M240 228h1M243 216h1M245 228h1M252 216h1M255 247h1M248 234h1M250 235h1M244 212h1M236 220h1M247 225h1M242 227h1M237 230h1M246 235h1M240 243h1M231 208h1M244 217h1M242 232h1M241 238h1M243 225h1M233 223h1M239 234h1M248 229h1M248 231h1M238 227h1M242 234h1M244 219h1M245 231h1M239 225h1M238 229h1M235 210h1M252 225h1M247 230h1M243 240h1M237 219h1M249 234h1M240 230h1M244 222h1M246 235h1M248 231h1M242 224h1M248 238h1M236 237h1M242 236h1M232 229h1M246 225h1M243 242h1M242 235h1M245 229h1M242 220h1M239 231h1M242 219h1M239 216h1M256 216h1M261 195h1M243 240h1M243 225h1M250 233h1M245 219h1M239 236h1M248 230h1M241 222h1M244 225h1M249 230h1M240 244h1M253 233h1M236 225h1M241 233h1M245 223h1M244 236h1M248 214h1M242 231h1M236 226h1M246 236h1M240 222h1M243 234h1M240 232h1M244 236h1M243 226h1M236 229h1M246 219h1M240 221h1M266 194h1M246 235h1M250 239h1M246 238h1M251 230h1M250 232h1M240 215h1M249 228h1M243 230h1M241 225h1M249 233h1M261 221h1M243 226h1M251 241h1M243 222h1M245 224h1M241 226h1M238 234h1M247 223h1M239 224h1M228 212h1M244 227h1M250 217h1M243 221h1M242 229h1M244 234h1M238 241h1M239 225h1M248 238h1M238 228h1M241 221h1M242 226h1M245 224h1M236 227h1M253 228h1M243 235h1M246 233h1M250 227h1M244 239h1M243 213h1M252 228h1M248 234h1M246 221h1M245 225h1M242 231h1M236 219h1M245 228h1M244 221h1M246 233h1M248 239h1M247 237h1M233 215h1M248 242h1M248 228h1M243 221h1M241 223h1M239 236h1M241 226h1M237 227h1M247 223h1M235 236h1M250 227h1M243 234h1M245 225h1M240 215h1M244 233h1M244 211h1M244 232h1M239 245h1M245 231h1M247 235h1M244 239h1M245 240h1M247 230h1M245 206h1M241 228h1M246 236h1M242 229h1M242 239h1M220 227h1M248 241h1M244 228h1M258 245h1M234 224h1M241 231h1M239 230h1M242 219h1M242 242h1M238 241h1M250 240h1M232 212h1M245 230h1M241 241h1M249 237h1M248 224h1M255 242h1M241 238h1M248 232h1M246 234h1M244 235h1M239 246h1M246 222h1M245 223h1M242 235h1M240 236h1M244 226h1M244 231h1M251 227h1M238 239h1M251 238h1M246 243h1M247 225h1M249 230h1M243 233h1M236 234h1M239 265h1M240 231h1M246 225h1M230 224h1M245 221h1M238 230h1M237 221h1M238 219h1M250 232h1M240 233h1M239 235h1M238 222h1M242 236h1M243 235h1M250 235h1M244 230h1M249 237h1M241 216h1M248 232h1M237 231h1M243 233h1M248 242h1M245 217h1M244 229h1M242 236h1M242 235h1M238 237h1M245 235h1M242 228h1M237 233h1M251 220h1M246 238h1M250 215h1M242 241h1M240 210h1M242 228h1M237 236h1M239 206h1M251 233h1M243 241h1M246 238h1M253 228h1M245 236h1M247 233h1M244 234h1M246 236h1M244 226h1M239 232h1M244 245h1M242 218h1" stroke="#000" stroke-opacity="0.3" stroke-width="1"/><path d="M241 227h1M250 220h1M245 226h1M242 231h1M243 228h1M237 215h1M246 230h1M242 234h1M243 236h1M241 232h1M246 224h1M236 221h1M244 234h1M247 221h1M246 236h1M248 235h1M237 240h1M251 232h1M249 231h1M240 226h1M243 236h1M237 241h1M240 234h1M243 224h1M245 234h1M243 236h1M242 232h1M242 243h1M239 232h1M241 226h1M245 197h1M226 221h1M244 233h1M248 222h1M247 229h1M241 244h1M243 225h1M248 227h1M242 237h1M246 229h1M244 235h1M245 222h1M249 232h1M248 228h1M246 237h1M238 237h1M242 241h1M247 232h1M243 218h1M243 220h1M242 222h1M243 232h1M242 231h1M240 227h1M239 224h1M245 239h1M245 209h1M248 199h1M246 230h1M249 217h1M238 237h1M239 216h1M241 242h1M245 236h1M235 240h1M240 224h1M245 228h1M243 224h1M250 227h1M247 240h1M244 244h1M238 239h1M244 232h1M246 219h1M240 240h1M242 225h1M247 214h1M241 229h1M241 225h1M242 219h1M250 228h1M239 233h1M242 244h1M238 235h1M248 227h1M236 228h1M249 241h1M236 226h1M245 231h1M238 231h1M239 220h1M248 235h1M241 234h1M244 220h1M245 226h1M247 241h1M253 242h1M248 235h1M236 214h1M243 232h1M242 220h1M241 235h1M243 225h1M241 219h1M249 232h1M251 232h1M241 216h1M248 234h1M243 219h1M242 230h1M244 233h1M234 216h1M244 231h1M245 241h1M246 230h1M252 226h1M245 231h1M241 213h1M253 237h1M247 237h1M243 226h1M247 253h1M243 235h1M244 230h1M236 233h1M247 233h1M248 238h1M246 236h1M244 218h1M240 235h1M240 226h1M245 227h1M239 238h1M249 208h1M245 224h1M239 230h1M247 231h1M247 226h1M244 234h1M236 229h1M237 243h1M247 245h1M248 231h1M244 238h1M245 220h1M249 198h1M240 230h1M246 239h1M247 234h1M242 230h1M240 238h1M236 225h1M246 214h1M251 238h1M243 228h1M239 230h1M230 220h1M233 250h1M246 241h1M239 232h1M246 226h1M245 234h1M245 242h1M246 227h1M244 224h1M248 226h1M250 238h1M246 236h1M236 238h1M240 240h1M248 227h1M248 233h1M238 240h1M246 222h1M243 243h1M243 229h1M249 224h1M250 214h1M252 233h1M242 233h1M219 237h1M239 223h1M243 233h1M240 237h1M242 223h1M251 203h1M239 222h1M246 231h1M241 233h1M240 224h1M248 227h1M239 231h1M240 233h1M243 234h1M242 234h1M245 236h1M242 226h1M234 224h1M245 234h1M240 214h1M243 220h1M234 228h1M237 226h1M241 236h1M237 225h1M243 235h1M240 228h1M248 237h1M244 217h1M239 249h1M241 238h1M251 230h1M247 237h1M251 231h1M248 230h1M248 240h1M242 232h1M238 243h1M248 243h1M247 230h1M239 218h1M241 220h1M248 225h1M243 209h1M250 223h1M242 249h1M240 232h1M235 230h1M238 236h1M245 228h1M240 236h1M245 231h1M247 231h1M240 234h1M247 230h1M239 235h1M245 222h1M242 247h1M242 237h1M251 232h1M229 240h1M219 235h1M238 212h1M232 228h1M242 226h1M240 237h1M250 227h1M246 213h1M240 233h1M230 223h1M248 227h1M238 227h1M237 228h1M244 238h1M251 221h1M248 234h1M235 216h1M245 225h1M243 229h1M242 228h1M241 228h1M245 232h1M238 209h1M237 223h1M248 218h1M245 234h1M246 233h1M247 226h1M242 217h1M241 238h1M246 232h1M252 230h1M246 236h1M248 228h1M237 229h1M239 229h1M248 224h1M245 226h1M242 243h1M244 245h1M240 237h1M262 227h1M245 225h1M246 230h1M247 230h1M243 233h1M244 234h1M245 225h1M241 213h1M238 229h1M246 239h1M249 238h1M251 232h1M240 227h1M245 232h1M240 237h1M245 231h1M244 229h1M244 223h1M241 210h1M240 217h1M244 241h1M240 230h1M248 208h1M235 231h1M245 220h1M243 214h1M239 208h1M250 231h1M236 221h1M248 235h1M245 224h1M240 232h1M241 228h1M247 239h1M242 239h1M235 209h1M248 236h1M243 226h1M246 235h1M244 237h1M244 233h1M250 228h1M242 229h1M255 225h1M235 223h1M240 236h1M247 226h1M242 236h1M250 226h1M241 230h1M248 235h1M240 232h1M244 234h1M250 234h1M243 223h1M240 230h1M247 232h1M236 234h1M231 219h1M243 232h1M238 212h1M251 231h1M242 237h1M247 219h1M248 223h1M240 223h1M242 229h1M250 225h1M245 229h1M243 226h1M248 236h1M235 228h1M247 238h1M237 217h1M243 234h1M243 237h1M246 221h1M239 235h1M247 238h1M244 241h1M242 232h1M242 235h1M238 222h1M246 230h1M251 236h1M252 236h1M240 228h1M243 222h1M245 230h1M248 240h1M241 234h1M238 225h1M241 226h1M247 240h1M249 227h1M239 231h1M247 230h1M239 224h1M238 226h1M243 240h1M246 233h1M247 233h1M237 227h1M247 234h1M243 224h1M253 225h1M227 231h1M246 235h1M242 229h1M242 208h1M240 231h1M240 222h1M244 225h1M239 227h1" stroke="#000" stroke-opacity="0.3" stroke-width="1"/><path d="M245 225h1M246 232h1M236 224h1M246 234h1M236 222h1M241 233h1M239 234h1M241 221h1M245 241h1M249 233h1M238 237h1M249 237h1M239 229h1M240 227h1M242 218h1M246 232h1M242 235h1M247 226h1M249 232h1M249 237h1M237 224h1M240 218h1M242 236h1M248 224h1M251 245h1M245 236h1M238 229h1M220 215h1M247 216h1M242 235h1M243 232h1M242 230h1M241 234h1M248 235h1M234 207h1M238 223h1M248 210h1M247 228h1M223 259h1M247 236h1M248 226h1M247 239h1M244 238h1M246 232h1M236 235h1M248 235h1M238 237h1M241 228h1M243 230h1M242 240h1M249 235h1M245 222h1M250 236h1M248 228h1M247 229h1M235 227h1M249 227h1M237 228h1M242 236h1M239 233h1M250 224h1M237 228h1M242 220h1M249 242h1M237 217h1M234 230h1M235 231h1M240 219h1M237 240h1M251 241h1M252 205h1M248 229h1M254 231h1M241 222h1M240 227h1M242 238h1M247 238h1M236 234h1M247 236h1M234 227h1M239 239h1M243 229h1M220 220h1M239 235h1M241 215h1M247 235h1M242 244h1M249 240h1M242 234h1M242 236h1M249 225h1M237 231h1M248 236h1M239 227h1M239 205h1M244 224h1M246 236h1M236 227h1M251 226h1M232 223h1M243 236h1M244 235h1M249 231h1M248 217h1M245 234h1M245 233h1M244 226h1M236 226h1M249 229h1M246 222h1M243 234h1M249 227h1M237 238h1M244 231h1M242 216h1M249 235h1M244 228h1M248 232h1M247 224h1M246 228h1M243 240h1M249 235h1M246 246h1M245 230h1M243 233h1M245 226h1M248 224h1M245 224h1M246 229h1M238 235h1M243 241h1M249 227h1M238 225h1M249 222h1M247 229h1M251 221h1M228 262h1M247 224h1M242 236h1M243 237h1M244 230h1M238 226h1M246 242h1M238 228h1M242 224h1M235 223h1M237 226h1M247 228h1M243 221h1M245 239h1M243 231h1M245 233h1M240 238h1M242 228h1M236 232h1M244 227h1M246 224h1M248 227h1M242 224h1M242 229h1M243 240h1M236 236h1M249 215h1M243 227h1M240 233h1M246 239h1M246 243h1M241 229h1M242 238h1M243 229h1M251 214h1M250 214h1M229 255h1M248 230h1M233 227h1M243 227h1M243 221h1M240 236h1M248 233h1M231 254h1M240 242h1M245 223h1M242 224h1M245 229h1M238 231h1M247 234h1M242 225h1M251 225h1M249 228h1M247 224h1M243 225h1M244 236h1M249 229h1M250 225h1M249 237h1M246 235h1M239 226h1M248 216h1M243 198h1M242 238h1M248 237h1M241 231h1M238 234h1M248 231h1M248 210h1M247 232h1M241 229h1M234 218h1M241 238h1M235 239h1M248 230h1M244 217h1M233 224h1M254 218h1M249 220h1M254 224h1M242 229h1M247 237h1M237 245h1M238 232h1M244 222h1M244 222h1M237 233h1M250 233h1M247 233h1M237 227h1M236 209h1M243 240h1M249 233h1M248 228h1M256 234h1M237 231h1M246 231h1M249 226h1M252 231h1M247 231h1M237 228h1M245 230h1M242 229h1M240 231h1M243 223h1M241 223h1M240 239h1M239 227h1M240 235h1M235 220h1M236 239h1M229 243h1M241 230h1M246 233h1M234 214h1M250 234h1M246 225h1M240 228h1M240 227h1M238 231h1M250 237h1M245 231h1M241 215h1M244 222h1M253 227h1M226 226h1M243 226h1M238 230h1M245 224h1M244 230h1M235 192h1M246 238h1M237 218h1M248 229h1M240 228h1M248 226h1M240 244h1M243 232h1M242 232h1M246 227h1M251 234h1M247 235h1M247 237h1M251 228h1M234 209h1M249 237h1M232 219h1M251 227h1M241 236h1M241 211h1M248 234h1M245 238h1M254 222h1M237 240h1M248 227h1M244 219h1M223 227h1M247 234h1M230 248h1M239 218h1M241 222h1M242 241h1M239 227h1M251 228h1M250 212h1M240 229h1M237 233h1M236 234h1M251 212h1M241 223h1M246 233h1M250 218h1M247 230h1M245 222h1M247 227h1M247 216h1M248 236h1M245 225h1M245 223h1M244 243h1M238 232h1M241 224h1M250 228h1M246 238h1M237 231h1M244 222h1M251 239h1M251 225h1M248 228h1M221 242h1M237 230h1M241 234h1M249 254h1M245 227h1M235 231h1M244 224h1M242 224h1M240 241h1M245 217h1M250 238h1M245 222h1M243 245h1M243 219h1M245 235h1M249 234h1M240 222h1M240 233h1M239 229h1M243 226h1M236 237h1M249 224h1M223 227h1M245 226h1M244 234h1M244 228h1M243 231h1M237 231h1M241 222h1M237 221h1M243 235h1M245 240h1M243 224h1M247 221h1M241 230h1M238 225h1M245 225h1M246 242h1M239 231h1M244 224h1M244 228h1M238 237h1M246 208h1M250 227h1M247 232h1M241 224h1M236 238h1M242 224h1M246 238h1M252 231h1M244 234h1M247 210h1M243 221h1M244 235h1M240 223h1M227 188h1M220 237h1M249 242h1M240 220h1M248 225h1M231 232h1M240 243h1M249 220h1M250 226h1M248 225h1M241 227h1M241 230h1M242 227h1M241 224h1M239 227h1" stroke="#000" stroke-opacity="0.3" stroke-width="1"/><path d="M234 223h1M249 238h1M238 235h1M252 201h1M241 233h1M239 213h1M251 230h1M249 242h1M241 240h1M240 217h1M241 225h1M238 236h1M242 231h1M242 239h1M246 227h1M238 229h1M246 232h1M241 224h1M249 238h1M245 239h1M236 242h1M242 211h1M242 232h1M238 245h1M249 232h1M257 224h1M247 235h1M266 212h1M250 233h1M246 233h1M241 236h1M242 233h1M243 228h1M245 239h1M244 221h1M248 229h1M247 232h1M247 223h1M244 232h1M247 223h1M245 241h1M241 237h1M239 240h1M242 232h1M243 219h1M245 239h1M244 242h1M250 220h1M247 223h1M245 227h1M249 216h1M248 224h1M247 234h1M259 243h1M251 226h1M248 242h1M242 231h1M246 231h1M248 231h1M248 238h1M254 233h1M245 230h1M240 227h1M243 221h1M251 227h1M246 224h1M234 240h1M240 229h1M245 229h1M243 233h1M244 240h1M244 228h1M236 209h1M245 237h1M246 240h1M246 241h1M239 223h1M242 230h1M249 235h1M241 225h1M242 222h1M248 229h1M252 240h1M249 224h1M242 243h1M238 229h1M241 237h1M239 231h1M239 234h1M249 230h1M237 237h1M245 213h1M251 236h1M226 223h1M239 227h1M250 242h1M247 239h1M249 229h1M237 226h1M242 220h1M251 233h1M253 231h1M240 233h1M248 230h1M244 226h1M253 234h1M241 237h1M247 218h1M249 241h1M251 220h1M227 222h1M229 231h1M236 237h1M241 231h1M238 227h1M247 237h1M242 227h1M245 219h1M243 233h1M245 245h1M242 231h1M239 220h1M247 234h1M241 233h1M229 224h1M247 231h1M237 230h1M244 226h1M244 240h1M238 231h1M251 217h1M248 220h1M237 230h1M244 234h1M243 191h1M249 231h1M239 220h1M243 242h1M245 229h1M237 236h1M243 221h1M246 232h1M239 234h1M244 238h1M243 239h1M238 221h1M232 257h1M245 229h1M248 241h1M250 238h1M235 218h1M242 235h1M243 225h1M236 235h1M244 231h1M248 228h1M241 222h1M239 238h1M242 224h1M261 217h1M243 238h1M212 218h1M248 224h1M222 220h1M243 223h1M240 240h1M236 229h1M238 224h1M241 226h1M247 232h1M241 206h1M242 242h1M253 228h1M239 233h1M253 227h1M249 225h1M243 235h1M247 231h1M243 241h1M239 232h1M249 225h1M250 241h1M243 236h1M244 233h1M244 236h1M243 241h1M235 189h1M250 231h1M242 215h1M247 227h1M245 229h1M248 221h1M238 234h1M244 241h1M237 220h1M242 235h1M253 231h1M247 232h1M245 230h1M245 240h1M240 228h1M244 219h1M245 232h1M240 230h1M255 225h1M240 236h1M248 224h1M241 239h1M234 231h1M244 234h1M246 223h1M245 235h1M246 225h1M246 229h1M239 234h1M234 238h1M250 235h1M247 225h1M250 229h1M246 224h1M240 229h1M242 238h1M242 212h1M248 225h1M240 221h1M245 236h1M247 230h1M242 216h1M245 237h1M243 233h1M240 217h1M247 236h1M251 225h1M242 232h1M246 224h1M248 223h1M250 242h1M245 224h1M237 229h1M247 228h1M235 224h1M247 240h1M247 233h1M242 222h1M247 223h1M243 227h1M243 235h1M239 234h1M240 235h1M242 240h1M237 232h1M243 238h1M253 214h1M246 230h1M242 228h1M240 243h1M247 237h1M243 228h1M247 233h1M245 229h1M241 236h1M237 244h1M242 227h1M248 232h1M233 214h1M245 224h1M242 226h1M235 220h1M240 230h1M246 230h1M245 238h1M241 228h1M250 221h1M241 225h1M226 205h1M247 228h1M249 230h1M238 233h1M248 238h1M240 244h1M239 224h1M246 225h1M236 221h1M243 233h1M245 225h1M235 239h1M236 232h1M243 240h1M240 229h1M240 215h1M241 241h1M238 228h1M240 232h1M247 232h1M242 223h1M246 235h1M234 227h1M242 236h1M250 218h1M237 224h1M248 236h1M247 227h1M252 232h1M246 236h1M251 219h1M237 216h1M251 218h1M238 237h1M235 232h1M246 232h1M253 228h1M241 235h1M245 224h1M239 230h1M240 234h1M241 229h1M238 234h1M248 218h1M246 245h1M242 229h1M246 223h1M247 236h1M245 230h1M241 233h1M244 231h1M244 225h1M245 232h1M244 245h1M239 241h1M240 225h1M247 228h1M246 233h1M243 205h1M237 229h1M253 233h1M237 231h1M240 218h1M246 240h1M236 238h1M240 224h1M256 217h1M242 222h1M240 218h1M245 226h1M243 237h1M247 215h1M243 234h1M241 222h1M250 232h1M250 216h1M236 228h1M243 226h1M247 237h1M248 234h1M242 241h1M236 233h1M246 237h1M251 234h1M238 217h1M244 227h1M248 238h1M249 235h1M250 233h1M244 223h1M246 220h1M243 226h1M234 217h1M239 228h1M241 223h1M248 218h1M251 226h1M233 228h1M244 220h1M239 226h1M245 227h1M240 229h1M247 239h1M244 232h1M242 223h1M240 232h1M236 223h1M235 234h1M244 239h1M241 228h1M236 227h1M240 228h1M237 224h1M256 247h1M246 243h1M247 232h1M235 235h1M247 225h1M240 226h1M242 227h1M242 232h1" stroke="#000" stroke-opacity="0.3" stroke-width="1"/></g><path d="M80.5 18.5V129" stroke="#3535a8" stroke-width="1.0" fill="none"/><path d="M29 73.5H146.5" stroke="#3535a8" stroke-width="1.0" fill="none"/><path d="M219.5 18.5V129" stroke="#3535a8" stroke-width="1.0" fill="none"/><path d="M168 73.0H285.5" stroke="#3535a8" stroke-width="1.3" fill="none"/><path d="M81.0 174.5V286.2" stroke="#3535a8" stroke-width="1.3" fill="none"/><path d="M28.8 230.0H146.5" stroke="#3535a8" stroke-width="1.3" fill="none"/><path d="M219.5 174.5V286.2" stroke="#3535a8" stroke-width="1.0" fill="none"/><path d="M167.8 229.5H285.8" stroke="#3535a8" stroke-width="1.0" fill="none"/><text x="122.8" y="125.6" font-size="9" font-weight="bold" text-anchor="start" fill="#111" >ERG</text><text x="267.9" y="125.8" font-size="9" font-weight="bold" text-anchor="start" fill="#111" >FLI1</text><text x="124.5" y="283.0" font-size="9" font-weight="bold" text-anchor="start" fill="#111" >ETS2</text><text x="257.5" y="283.0" font-size="8.6" font-weight="bold" text-anchor="start" fill="#111" >MIGR1</text><path d="M29 18.5H146.5V129" fill="none" stroke="#707070" stroke-width="1.2"/><path d="M29 18.5V129H146.5" fill="none" stroke="#111" stroke-width="1.6"/><path d="M31.5 129v1.6M33.5 129v1.6M35.5 129v1.6M37.5 129v1.6M38.5 129v1.6M39.5 129v1.6M40.5 129v3M47.5 129v1.6M51.5 129v1.6M54.5 129v1.6M57.5 129v1.6M59.5 129v1.6M60.5 129v1.6M61.5 129v1.6M63.5 129v1.6M64.5 129v3M71.5 129v1.6M75.5 129v1.6M78.5 129v1.6M80.5 129v1.6M82.5 129v1.6M84.5 129v1.6M85.5 129v1.6M86.5 129v1.6M87.5 129v3M94.5 129v1.6M98.5 129v1.6M101.5 129v1.6M104.5 129v1.6M106.5 129v1.6M107.5 129v1.6M108.5 129v1.6M110.5 129v1.6M111.5 129v3M118.5 129v1.6M122.5 129v1.6M125.5 129v1.6M127.5 129v1.6M129.5 129v1.6M131.5 129v1.6M132.5 129v1.6M133.5 129v1.6M134.5 129v3M141.5 129v1.6M145.5 129v1.6M29 125.5h-1.6M29 123.5h-1.6M29 121.5h-1.6M29 120.5h-1.6M29 119.5h-1.6M29 118.5h-1.6M29 117.5h-3M29 110.5h-1.6M29 106.5h-1.6M29 103.5h-1.6M29 101.5h-1.6M29 99.5h-1.6M29 98.5h-1.6M29 97.5h-1.6M29 96.5h-1.6M29 95.5h-3M29 88.5h-1.6M29 84.5h-1.6M29 81.5h-1.6M29 79.5h-1.6M29 77.5h-1.6M29 76.5h-1.6M29 75.5h-1.6M29 74.5h-1.6M29 73.5h-3M29 66.5h-1.6M29 62.5h-1.6M29 59.5h-1.6M29 57.5h-1.6M29 55.5h-1.6M29 54.5h-1.6M29 53.5h-1.6M29 52.5h-1.6M29 51.5h-3M29 44.5h-1.6M29 40.5h-1.6M29 37.5h-1.6M29 35.5h-1.6M29 33.5h-1.6M29 32.5h-1.6M29 31.5h-1.6M29 30.5h-1.6M29 29.5h-3M29 22.5h-1.6" stroke="#111" stroke-width="1" fill="none"/><g transform="translate(40.8 142.8) scale(0.70 1)"><text x="0" y="0" font-size="8.5" text-anchor="middle" fill="#111" stroke="#111" stroke-width="0.35">10</text><text x="3.6" y="-3.9" font-size="6" fill="#111" stroke="#111" stroke-width="0.25">1</text></g><g transform="translate(64.2 142.8) scale(0.70 1)"><text x="0" y="0" font-size="8.5" text-anchor="middle" fill="#111" stroke="#111" stroke-width="0.35">10</text><text x="3.6" y="-3.9" font-size="6" fill="#111" stroke="#111" stroke-width="0.25">2</text></g><g transform="translate(87.8 142.8) scale(0.70 1)"><text x="0" y="0" font-size="8.5" text-anchor="middle" fill="#111" stroke="#111" stroke-width="0.35">10</text><text x="3.6" y="-3.9" font-size="6" fill="#111" stroke="#111" stroke-width="0.25">3</text></g><g transform="translate(111.2 142.8) scale(0.70 1)"><text x="0" y="0" font-size="8.5" text-anchor="middle" fill="#111" stroke="#111" stroke-width="0.35">10</text><text x="3.6" y="-3.9" font-size="6" fill="#111" stroke="#111" stroke-width="0.25">4</text></g><g transform="translate(134.8 142.8) scale(0.70 1)"><text x="0" y="0" font-size="8.5" text-anchor="middle" fill="#111" stroke="#111" stroke-width="0.35">10</text><text x="3.6" y="-3.9" font-size="6" fill="#111" stroke="#111" stroke-width="0.25">5</text></g><g transform="translate(17.9 122.3) scale(0.68 1)"><text x="0" y="0" font-size="8.5" text-anchor="middle" fill="#111" stroke="#111" stroke-width="0.35">10</text><text x="4.4" y="-3.6" font-size="6" fill="#111" stroke="#111" stroke-width="0.25">1</text></g><g transform="translate(17.9 100.3) scale(0.68 1)"><text x="0" y="0" font-size="8.5" text-anchor="middle" fill="#111" stroke="#111" stroke-width="0.35">10</text><text x="4.4" y="-3.6" font-size="6" fill="#111" stroke="#111" stroke-width="0.25">2</text></g><g transform="translate(17.9 78.3) scale(0.68 1)"><text x="0" y="0" font-size="8.5" text-anchor="middle" fill="#111" stroke="#111" stroke-width="0.35">10</text><text x="4.4" y="-3.6" font-size="6" fill="#111" stroke="#111" stroke-width="0.25">3</text></g><g transform="translate(17.9 56.3) scale(0.68 1)"><text x="0" y="0" font-size="8.5" text-anchor="middle" fill="#111" stroke="#111" stroke-width="0.35">10</text><text x="4.4" y="-3.6" font-size="6" fill="#111" stroke="#111" stroke-width="0.25">4</text></g><g transform="translate(17.9 34.3) scale(0.68 1)"><text x="0" y="0" font-size="8.5" text-anchor="middle" fill="#111" stroke="#111" stroke-width="0.35">10</text><text x="4.4" y="-3.6" font-size="6" fill="#111" stroke="#111" stroke-width="0.25">5</text></g><path d="M168 18.5H285.5V129" fill="none" stroke="#707070" stroke-width="1.2"/><path d="M168 18.5V129H285.5" fill="none" stroke="#111" stroke-width="1.6"/><path d="M170.5 129v1.6M172.5 129v1.6M174.5 129v1.6M176.5 129v1.6M177.5 129v1.6M178.5 129v1.6M179.5 129v3M186.5 129v1.6M190.5 129v1.6M193.5 129v1.6M196.5 129v1.6M198.5 129v1.6M199.5 129v1.6M200.5 129v1.6M202.5 129v1.6M203.5 129v3M210.5 129v1.6M214.5 129v1.6M217.5 129v1.6M219.5 129v1.6M221.5 129v1.6M223.5 129v1.6M224.5 129v1.6M225.5 129v1.6M226.5 129v3M233.5 129v1.6M237.5 129v1.6M240.5 129v1.6M243.5 129v1.6M245.5 129v1.6M246.5 129v1.6M247.5 129v1.6M249.5 129v1.6M250.5 129v3M257.5 129v1.6M261.5 129v1.6M264.5 129v1.6M266.5 129v1.6M268.5 129v1.6M270.5 129v1.6M271.5 129v1.6M272.5 129v1.6M273.5 129v3M280.5 129v1.6M284.5 129v1.6M168 125.5h-1.6M168 123.5h-1.6M168 121.5h-1.6M168 120.5h-1.6M168 119.5h-1.6M168 118.5h-1.6M168 117.5h-3M168 110.5h-1.6M168 106.5h-1.6M168 103.5h-1.6M168 101.5h-1.6M168 99.5h-1.6M168 98.5h-1.6M168 97.5h-1.6M168 96.5h-1.6M168 95.5h-3M168 88.5h-1.6M168 84.5h-1.6M168 81.5h-1.6M168 79.5h-1.6M168 77.5h-1.6M168 76.5h-1.6M168 75.5h-1.6M168 74.5h-1.6M168 73.5h-3M168 66.5h-1.6M168 62.5h-1.6M168 59.5h-1.6M168 57.5h-1.6M168 55.5h-1.6M168 54.5h-1.6M168 53.5h-1.6M168 52.5h-1.6M168 51.5h-3M168 44.5h-1.6M168 40.5h-1.6M168 37.5h-1.6M168 35.5h-1.6M168 33.5h-1.6M168 32.5h-1.6M168 31.5h-1.6M168 30.5h-1.6M168 29.5h-3M168 22.5h-1.6" stroke="#111" stroke-width="1" fill="none"/><g transform="translate(179.8 142.8) scale(0.70 1)"><text x="0" y="0" font-size="8.5" text-anchor="middle" fill="#111" stroke="#111" stroke-width="0.35">10</text><text x="3.6" y="-3.9" font-size="6" fill="#111" stroke="#111" stroke-width="0.25">1</text></g><g transform="translate(203.2 142.8) scale(0.70 1)"><text x="0" y="0" font-size="8.5" text-anchor="middle" fill="#111" stroke="#111" stroke-width="0.35">10</text><text x="3.6" y="-3.9" font-size="6" fill="#111" stroke="#111" stroke-width="0.25">2</text></g><g transform="translate(226.8 142.8) scale(0.70 1)"><text x="0" y="0" font-size="8.5" text-anchor="middle" fill="#111" stroke="#111" stroke-width="0.35">10</text><text x="3.6" y="-3.9" font-size="6" fill="#111" stroke="#111" stroke-width="0.25">3</text></g><g transform="translate(250.2 142.8) scale(0.70 1)"><text x="0" y="0" font-size="8.5" text-anchor="middle" fill="#111" stroke="#111" stroke-width="0.35">10</text><text x="3.6" y="-3.9" font-size="6" fill="#111" stroke="#111" stroke-width="0.25">4</text></g><g transform="translate(273.8 142.8) scale(0.70 1)"><text x="0" y="0" font-size="8.5" text-anchor="middle" fill="#111" stroke="#111" stroke-width="0.35">10</text><text x="3.6" y="-3.9" font-size="6" fill="#111" stroke="#111" stroke-width="0.25">5</text></g><g transform="translate(156.9 122.3) scale(0.68 1)"><text x="0" y="0" font-size="8.5" text-anchor="middle" fill="#111" stroke="#111" stroke-width="0.35">10</text><text x="4.4" y="-3.6" font-size="6" fill="#111" stroke="#111" stroke-width="0.25">1</text></g><g transform="translate(156.9 100.3) scale(0.68 1)"><text x="0" y="0" font-size="8.5" text-anchor="middle" fill="#111" stroke="#111" stroke-width="0.35">10</text><text x="4.4" y="-3.6" font-size="6" fill="#111" stroke="#111" stroke-width="0.25">2</text></g><g transform="translate(156.9 78.3) scale(0.68 1)"><text x="0" y="0" font-size="8.5" text-anchor="middle" fill="#111" stroke="#111" stroke-width="0.35">10</text><text x="4.4" y="-3.6" font-size="6" fill="#111" stroke="#111" stroke-width="0.25">3</text></g><g transform="translate(156.9 56.3) scale(0.68 1)"><text x="0" y="0" font-size="8.5" text-anchor="middle" fill="#111" stroke="#111" stroke-width="0.35">10</text><text x="4.4" y="-3.6" font-size="6" fill="#111" stroke="#111" stroke-width="0.25">4</text></g><g transform="translate(156.9 34.3) scale(0.68 1)"><text x="0" y="0" font-size="8.5" text-anchor="middle" fill="#111" stroke="#111" stroke-width="0.35">10</text><text x="4.4" y="-3.6" font-size="6" fill="#111" stroke="#111" stroke-width="0.25">5</text></g><path d="M28.8 174.5H146.5V286.2" fill="none" stroke="#707070" stroke-width="1.2"/><path d="M28.8 174.5V286.2H146.5" fill="none" stroke="#111" stroke-width="1.6"/><path d="M31.5 286.2v1.6M33.5 286.2v1.6M35.5 286.2v1.6M36.5 286.2v1.6M38.5 286.2v1.6M39.5 286.2v1.6M40.5 286.2v3M47.5 286.2v1.6M51.5 286.2v1.6M54.5 286.2v1.6M56.5 286.2v1.6M58.5 286.2v1.6M60.5 286.2v1.6M61.5 286.2v1.6M62.5 286.2v1.6M64.5 286.2v3M71.5 286.2v1.6M75.5 286.2v1.6M78.5 286.2v1.6M80.5 286.2v1.6M82.5 286.2v1.6M83.5 286.2v1.6M85.5 286.2v1.6M86.5 286.2v1.6M87.5 286.2v3M94.5 286.2v1.6M98.5 286.2v1.6M101.5 286.2v1.6M103.5 286.2v1.6M105.5 286.2v1.6M107.5 286.2v1.6M108.5 286.2v1.6M109.5 286.2v1.6M111.5 286.2v3M118.5 286.2v1.6M122.5 286.2v1.6M125.5 286.2v1.6M127.5 286.2v1.6M129.5 286.2v1.6M130.5 286.2v1.6M132.5 286.2v1.6M133.5 286.2v1.6M134.5 286.2v3M141.5 286.2v1.6M145.5 286.2v1.6M28.8 283.5h-1.6M28.8 281.5h-1.6M28.8 279.5h-1.6M28.8 277.5h-1.6M28.8 276.5h-1.6M28.8 275.5h-1.6M28.8 274.5h-3M28.8 267.5h-1.6M28.8 263.5h-1.6M28.8 260.5h-1.6M28.8 258.5h-1.6M28.8 256.5h-1.6M28.8 255.5h-1.6M28.8 254.5h-1.6M28.8 252.5h-1.6M28.8 251.5h-3M28.8 245.5h-1.6M28.8 241.5h-1.6M28.8 238.5h-1.6M28.8 236.5h-1.6M28.8 234.5h-1.6M28.8 232.5h-1.6M28.8 231.5h-1.6M28.8 230.5h-1.6M28.8 229.5h-3M28.8 222.5h-1.6M28.8 218.5h-1.6M28.8 215.5h-1.6M28.8 213.5h-1.6M28.8 211.5h-1.6M28.8 210.5h-1.6M28.8 209.5h-1.6M28.8 207.5h-1.6M28.8 206.5h-3M28.8 200.5h-1.6M28.8 196.5h-1.6M28.8 193.5h-1.6M28.8 191.5h-1.6M28.8 189.5h-1.6M28.8 187.5h-1.6M28.8 186.5h-1.6M28.8 185.5h-1.6M28.8 184.5h-3M28.8 177.5h-1.6" stroke="#111" stroke-width="1" fill="none"/><g transform="translate(40.5 299.5) scale(0.70 1)"><text x="0" y="0" font-size="8.5" text-anchor="middle" fill="#111" stroke="#111" stroke-width="0.35">10</text><text x="3.6" y="-3.9" font-size="6" fill="#111" stroke="#111" stroke-width="0.25">1</text></g><g transform="translate(64.0 299.5) scale(0.70 1)"><text x="0" y="0" font-size="8.5" text-anchor="middle" fill="#111" stroke="#111" stroke-width="0.35">10</text><text x="3.6" y="-3.9" font-size="6" fill="#111" stroke="#111" stroke-width="0.25">2</text></g><g transform="translate(87.5 299.5) scale(0.70 1)"><text x="0" y="0" font-size="8.5" text-anchor="middle" fill="#111" stroke="#111" stroke-width="0.35">10</text><text x="3.6" y="-3.9" font-size="6" fill="#111" stroke="#111" stroke-width="0.25">3</text></g><g transform="translate(111.0 299.5) scale(0.70 1)"><text x="0" y="0" font-size="8.5" text-anchor="middle" fill="#111" stroke="#111" stroke-width="0.35">10</text><text x="3.6" y="-3.9" font-size="6" fill="#111" stroke="#111" stroke-width="0.25">4</text></g><g transform="translate(134.5 299.5) scale(0.70 1)"><text x="0" y="0" font-size="8.5" text-anchor="middle" fill="#111" stroke="#111" stroke-width="0.35">10</text><text x="3.6" y="-3.9" font-size="6" fill="#111" stroke="#111" stroke-width="0.25">5</text></g><g transform="translate(17.7 279.5) scale(0.68 1)"><text x="0" y="0" font-size="8.5" text-anchor="middle" fill="#111" stroke="#111" stroke-width="0.35">10</text><text x="4.4" y="-3.6" font-size="6" fill="#111" stroke="#111" stroke-width="0.25">1</text></g><g transform="translate(17.7 257.1) scale(0.68 1)"><text x="0" y="0" font-size="8.5" text-anchor="middle" fill="#111" stroke="#111" stroke-width="0.35">10</text><text x="4.4" y="-3.6" font-size="6" fill="#111" stroke="#111" stroke-width="0.25">2</text></g><g transform="translate(17.7 234.6) scale(0.68 1)"><text x="0" y="0" font-size="8.5" text-anchor="middle" fill="#111" stroke="#111" stroke-width="0.35">10</text><text x="4.4" y="-3.6" font-size="6" fill="#111" stroke="#111" stroke-width="0.25">3</text></g><g transform="translate(17.7 212.2) scale(0.68 1)"><text x="0" y="0" font-size="8.5" text-anchor="middle" fill="#111" stroke="#111" stroke-width="0.35">10</text><text x="4.4" y="-3.6" font-size="6" fill="#111" stroke="#111" stroke-width="0.25">4</text></g><g transform="translate(17.7 189.7) scale(0.68 1)"><text x="0" y="0" font-size="8.5" text-anchor="middle" fill="#111" stroke="#111" stroke-width="0.35">10</text><text x="4.4" y="-3.6" font-size="6" fill="#111" stroke="#111" stroke-width="0.25">5</text></g><path d="M167.8 174.5H285.8V286.2" fill="none" stroke="#707070" stroke-width="1.2"/><path d="M167.8 174.5V286.2H285.8" fill="none" stroke="#111" stroke-width="1.6"/><path d="M170.5 286.2v1.6M172.5 286.2v1.6M174.5 286.2v1.6M175.5 286.2v1.6M177.5 286.2v1.6M178.5 286.2v1.6M179.5 286.2v3M186.5 286.2v1.6M190.5 286.2v1.6M193.5 286.2v1.6M195.5 286.2v1.6M197.5 286.2v1.6M199.5 286.2v1.6M200.5 286.2v1.6M201.5 286.2v1.6M203.5 286.2v3M210.5 286.2v1.6M214.5 286.2v1.6M217.5 286.2v1.6M219.5 286.2v1.6M221.5 286.2v1.6M222.5 286.2v1.6M224.5 286.2v1.6M225.5 286.2v1.6M226.5 286.2v3M233.5 286.2v1.6M237.5 286.2v1.6M240.5 286.2v1.6M242.5 286.2v1.6M244.5 286.2v1.6M246.5 286.2v1.6M247.5 286.2v1.6M248.5 286.2v1.6M250.5 286.2v3M257.5 286.2v1.6M261.5 286.2v1.6M264.5 286.2v1.6M266.5 286.2v1.6M268.5 286.2v1.6M269.5 286.2v1.6M271.5 286.2v1.6M272.5 286.2v1.6M273.5 286.2v3M280.5 286.2v1.6M284.5 286.2v1.6M167.8 283.5h-1.6M167.8 281.5h-1.6M167.8 279.5h-1.6M167.8 277.5h-1.6M167.8 276.5h-1.6M167.8 275.5h-1.6M167.8 274.5h-3M167.8 267.5h-1.6M167.8 263.5h-1.6M167.8 260.5h-1.6M167.8 258.5h-1.6M167.8 256.5h-1.6M167.8 255.5h-1.6M167.8 254.5h-1.6M167.8 252.5h-1.6M167.8 251.5h-3M167.8 245.5h-1.6M167.8 241.5h-1.6M167.8 238.5h-1.6M167.8 236.5h-1.6M167.8 234.5h-1.6M167.8 232.5h-1.6M167.8 231.5h-1.6M167.8 230.5h-1.6M167.8 229.5h-3M167.8 222.5h-1.6M167.8 218.5h-1.6M167.8 215.5h-1.6M167.8 213.5h-1.6M167.8 211.5h-1.6M167.8 210.5h-1.6M167.8 209.5h-1.6M167.8 207.5h-1.6M167.8 206.5h-3M167.8 200.5h-1.6M167.8 196.5h-1.6M167.8 193.5h-1.6M167.8 191.5h-1.6M167.8 189.5h-1.6M167.8 187.5h-1.6M167.8 186.5h-1.6M167.8 185.5h-1.6M167.8 184.5h-3M167.8 177.5h-1.6" stroke="#111" stroke-width="1" fill="none"/><g transform="translate(179.5 299.5) scale(0.70 1)"><text x="0" y="0" font-size="8.5" text-anchor="middle" fill="#111" stroke="#111" stroke-width="0.35">10</text><text x="3.6" y="-3.9" font-size="6" fill="#111" stroke="#111" stroke-width="0.25">1</text></g><g transform="translate(203.0 299.5) scale(0.70 1)"><text x="0" y="0" font-size="8.5" text-anchor="middle" fill="#111" stroke="#111" stroke-width="0.35">10</text><text x="3.6" y="-3.9" font-size="6" fill="#111" stroke="#111" stroke-width="0.25">2</text></g><g transform="translate(226.5 299.5) scale(0.70 1)"><text x="0" y="0" font-size="8.5" text-anchor="middle" fill="#111" stroke="#111" stroke-width="0.35">10</text><text x="3.6" y="-3.9" font-size="6" fill="#111" stroke="#111" stroke-width="0.25">3</text></g><g transform="translate(250.0 299.5) scale(0.70 1)"><text x="0" y="0" font-size="8.5" text-anchor="middle" fill="#111" stroke="#111" stroke-width="0.35">10</text><text x="3.6" y="-3.9" font-size="6" fill="#111" stroke="#111" stroke-width="0.25">4</text></g><g transform="translate(273.5 299.5) scale(0.70 1)"><text x="0" y="0" font-size="8.5" text-anchor="middle" fill="#111" stroke="#111" stroke-width="0.35">10</text><text x="3.6" y="-3.9" font-size="6" fill="#111" stroke="#111" stroke-width="0.25">5</text></g><g transform="translate(156.7 279.5) scale(0.68 1)"><text x="0" y="0" font-size="8.5" text-anchor="middle" fill="#111" stroke="#111" stroke-width="0.35">10</text><text x="4.4" y="-3.6" font-size="6" fill="#111" stroke="#111" stroke-width="0.25">1</text></g><g transform="translate(156.7 257.1) scale(0.68 1)"><text x="0" y="0" font-size="8.5" text-anchor="middle" fill="#111" stroke="#111" stroke-width="0.35">10</text><text x="4.4" y="-3.6" font-size="6" fill="#111" stroke="#111" stroke-width="0.25">2</text></g><g transform="translate(156.7 234.6) scale(0.68 1)"><text x="0" y="0" font-size="8.5" text-anchor="middle" fill="#111" stroke="#111" stroke-width="0.35">10</text><text x="4.4" y="-3.6" font-size="6" fill="#111" stroke="#111" stroke-width="0.25">3</text></g><g transform="translate(156.7 212.2) scale(0.68 1)"><text x="0" y="0" font-size="8.5" text-anchor="middle" fill="#111" stroke="#111" stroke-width="0.35">10</text><text x="4.4" y="-3.6" font-size="6" fill="#111" stroke="#111" stroke-width="0.25">4</text></g><g transform="translate(156.7 189.7) scale(0.68 1)"><text x="0" y="0" font-size="8.5" text-anchor="middle" fill="#111" stroke="#111" stroke-width="0.35">10</text><text x="4.4" y="-3.6" font-size="6" fill="#111" stroke="#111" stroke-width="0.25">5</text></g><text x="49.0" y="68.0" font-size="8.8" font-weight="bold" text-anchor="middle" fill="#111" >34</text><text x="132.5" y="68.0" font-size="8.8" font-weight="bold" text-anchor="middle" fill="#111" >57.3</text><text x="50.6" y="85.3" font-size="8.8" font-weight="bold" text-anchor="middle" fill="#111" >6</text><text x="129.1" y="84.5" font-size="8.8" font-weight="bold" text-anchor="middle" fill="#111" >3</text><text x="188.0" y="68.0" font-size="8.8" font-weight="bold" text-anchor="middle" fill="#111" >22.3</text><text x="269.2" y="68.0" font-size="8.8" font-weight="bold" text-anchor="middle" fill="#111" >31</text><text x="187.0" y="85.7" font-size="8.8" font-weight="bold" text-anchor="middle" fill="#111" >10</text><text x="269.7" y="86.0" font-size="8.8" font-weight="bold" text-anchor="middle" fill="#111" >36.9</text><text x="130.5" y="223.0" font-size="8.8" font-weight="bold" text-anchor="middle" fill="#111" >48</text><text x="131.1" y="244.4" font-size="8.8" font-weight="bold" text-anchor="middle" fill="#111" >52</text><text x="270.6" y="222.3" font-size="8.8" font-weight="bold" text-anchor="middle" fill="#111" >36</text><text x="271.0" y="244.0" font-size="8.8" font-weight="bold" text-anchor="middle" fill="#111" >64</text><text x="72.0" y="159.6" font-size="10.8" font-weight="bold" text-anchor="middle" fill="#000" >c-kit</text><path d="M88 156.1H109" stroke="#000" stroke-width="1.1"/><path d="M113.5 156.1l-5.5 -2.3v4.6z" fill="#000"/><text x="72.0" y="318.8" font-size="10.8" font-weight="bold" text-anchor="middle" fill="#000" >c-kit</text><path d="M88 315.3H109" stroke="#000" stroke-width="1.1"/><path d="M113.5 315.3l-5.5 -2.3v4.6z" fill="#000"/><text transform="translate(10.6 83.8) rotate(-90)" font-size="11.0" font-weight="bold" text-anchor="middle">CD41</text><path d="M6.0 67.8V48.6" stroke="#000" stroke-width="1.1"/><path d="M6.0 43.6l-2.3 5.5h4.6z" fill="#000"/><text transform="translate(10.6 238.7) rotate(-90)" font-size="11.5" font-weight="bold" text-anchor="middle">CD41</text><path d="M8.0 222.7V200.4" stroke="#000" stroke-width="1.1"/><path d="M8.0 195.4l-2.3 5.5h4.6z" fill="#000"/><text transform="translate(0.4 15.7) scale(1.07 1)" font-size="21.2" font-weight="bold">A</text><text x="291.1" y="16.0" font-size="21.8" font-weight="bold" text-anchor="start" fill="#000" >B</text><text x="292.8" y="174.6" font-size="21.8" font-weight="bold" text-anchor="start" fill="#000" >C</text><path d="M317.8 18.5H519V133" fill="none" stroke="#707070" stroke-width="1.2"/><path d="M317.8 18.5V133H519" fill="none" stroke="#111" stroke-width="1.5"/><path d="M317.8 133.0h-4.5M317.8 127.5h-2M317.8 122.0h-2M317.8 116.5h-2M317.8 111.1h-4.5M317.8 105.6h-2M317.8 100.1h-2M317.8 94.6h-2M317.8 89.1h-4.5M317.8 83.6h-2M317.8 78.2h-2M317.8 72.7h-2M317.8 67.2h-4.5M317.8 61.7h-2M317.8 56.2h-2M317.8 50.7h-2M317.8 45.2h-4.5M317.8 39.8h-2M317.8 34.3h-2M317.8 28.8h-2M317.8 23.3h-4.5M322.5 133v1.6M326.5 133v1.6M329.5 133v1.6M332.5 133v1.6M334.5 133v1.6M336.5 133v1.6M338.5 133v3M350.5 133v1.6M358.5 133v1.6M363.5 133v1.6M366.5 133v1.6M370.5 133v1.6M372.5 133v1.6M375.5 133v1.6M377.5 133v1.6M379.5 133v3M391.5 133v1.6M398.5 133v1.6M403.5 133v1.6M407.5 133v1.6M410.5 133v1.6M413.5 133v1.6M415.5 133v1.6M417.5 133v1.6M419.5 133v3M431.5 133v1.6M438.5 133v1.6M443.5 133v1.6M447.5 133v1.6M450.5 133v1.6M453.5 133v1.6M455.5 133v1.6M457.5 133v1.6M459.5 133v3M471.5 133v1.6M478.5 133v1.6M483.5 133v1.6M487.5 133v1.6M491.5 133v1.6M493.5 133v1.6M496.5 133v1.6M498.5 133v1.6M500.5 133v3M512.5 133v1.6" stroke="#111" stroke-width="0.9" fill="none"/><text x="312.2" y="143.0" font-size="12.5" font-weight="normal" text-anchor="end" fill="#111" >0</text><text x="313.8" y="120.7" font-size="12.5" font-weight="normal" text-anchor="end" fill="#111" letter-spacing="-0.2">20</text><text x="313.8" y="98.7" font-size="12.5" font-weight="normal" text-anchor="end" fill="#111" letter-spacing="-0.2">40</text><text x="313.8" y="76.7" font-size="12.5" font-weight="normal" text-anchor="end" fill="#111" letter-spacing="-0.2">60</text><text x="313.8" y="54.8" font-size="12.5" font-weight="normal" text-anchor="end" fill="#111" letter-spacing="-0.2">80</text><text x="315.2" y="32.8" font-size="12.5" font-weight="normal" text-anchor="end" fill="#111" letter-spacing="-0.2">100</text><g transform="translate(338.8 151.4) scale(0.92 1)"><text x="0" y="0" font-size="12.2" text-anchor="middle" fill="#111">10</text><text x="4.0" y="-3.9" font-size="9.6" fill="#111">1</text></g><g transform="translate(379.1 151.4) scale(0.92 1)"><text x="0" y="0" font-size="12.2" text-anchor="middle" fill="#111">10</text><text x="4.0" y="-3.9" font-size="9.6" fill="#111">2</text></g><g transform="translate(419.4 151.4) scale(0.92 1)"><text x="0" y="0" font-size="12.2" text-anchor="middle" fill="#111">10</text><text x="4.0" y="-3.9" font-size="9.6" fill="#111">3</text></g><g transform="translate(459.7 151.4) scale(0.92 1)"><text x="0" y="0" font-size="12.2" text-anchor="middle" fill="#111">10</text><text x="4.0" y="-3.9" font-size="9.6" fill="#111">4</text></g><g transform="translate(500.0 151.4) scale(0.92 1)"><text x="0" y="0" font-size="12.2" text-anchor="middle" fill="#111">10</text><text x="4.0" y="-3.9" font-size="9.6" fill="#111">5</text></g><text x="430.0" y="164.9" font-size="10.4" font-weight="bold" text-anchor="middle" fill="#000" >PE-phosphoSTAT3</text><text transform="translate(299.8 59.1) rotate(-90)" font-size="12.6" text-anchor="middle" fill="#111">% of Max</text><path d="M318.0 132.5L323.6 132.5L331.4 132.5L340.8 132.5L351.0 132.6L361.3 132.6L370.8 132.6L379.0 132.5L385.0 132.5L388.9 132.4L391.2 132.3L392.5 132.2L392.9 132.1L392.9 132.0L392.7 131.8L392.6 131.7L393.0 131.5L393.7 131.3L394.3 131.2L394.8 131.2L395.2 131.0L395.7 130.8L396.1 130.6L396.5 130.1L397.0 129.5L397.5 128.7L398.0 127.8L398.6 126.7L399.1 125.6L399.6 124.3L400.1 122.9L400.6 121.5L401.0 120.0L401.4 118.4L401.7 116.7L402.1 114.9L402.4 113.0L402.7 111.0L402.9 109.0L403.2 107.0L403.5 105.0L403.8 103.0L404.0 100.9L404.3 98.8L404.6 96.7L404.8 94.5L405.0 92.4L405.3 90.2L405.5 88.0L405.7 85.7L405.9 83.2L406.1 80.7L406.3 78.1L406.5 75.7L406.7 73.5L406.8 71.5L407.0 70.0L407.2 68.9L407.3 68.0L407.5 67.4L407.6 67.1L407.8 66.9L407.9 66.8L408.0 66.9L408.2 67.0L408.4 67.2L408.5 67.6L408.6 68.2L408.8 68.8L409.0 69.6L409.1 70.4L409.3 71.2L409.5 72.0L409.7 72.9L409.9 73.9L410.2 75.0L410.4 76.2L410.6 77.2L410.9 78.2L411.2 79.0L411.5 79.5L411.8 79.7L412.2 79.6L412.6 79.4L412.9 79.0L413.3 78.6L413.7 78.2L414.1 78.0L414.5 78.0L414.9 78.3L415.2 78.9L415.6 79.7L416.0 80.5L416.3 81.2L416.7 81.7L417.0 81.8L417.3 81.5L417.6 80.6L417.8 79.3L418.0 77.7L418.3 75.8L418.5 73.8L418.7 71.8L418.9 69.8L419.1 68.0L419.3 66.3L419.6 64.4L419.8 62.6L420.0 60.8L420.3 59.0L420.5 57.4L420.8 56.0L421.0 54.8L421.2 53.9L421.5 53.1L421.7 52.6L422.0 52.2L422.2 51.9L422.4 51.7L422.7 51.6L422.9 51.5L423.1 51.6L423.4 52.0L423.6 52.5L423.8 53.0L424.0 53.6L424.2 54.0L424.5 54.1L424.7 53.9L424.9 53.4L425.2 52.7L425.4 51.9L425.7 50.9L425.9 49.7L426.1 48.3L426.4 46.7L426.6 45.0L426.8 42.8L427.0 40.2L427.2 37.2L427.4 34.0L427.6 31.0L427.8 28.3L428.0 26.1L428.2 24.6L428.4 23.8L428.6 23.4L428.7 23.5L428.9 23.9L429.1 24.6L429.3 25.5L429.5 26.6L429.7 27.7L429.9 29.0L430.2 30.6L430.5 32.4L430.8 34.4L431.1 36.5L431.4 38.7L431.7 40.8L432.0 43.0L432.3 45.2L432.6 47.4L432.9 49.8L433.2 52.2L433.6 54.6L433.9 57.0L434.1 59.4L434.4 61.7L434.6 64.0L434.9 66.3L435.1 68.5L435.3 70.8L435.4 73.0L435.6 75.3L435.8 77.6L436.0 80.0L436.2 82.5L436.4 85.0L436.5 87.7L436.7 90.3L436.9 92.9L437.1 95.5L437.3 97.8L437.5 100.0L437.7 102.0L438.0 103.9L438.2 105.6L438.4 107.2L438.7 108.8L439.0 110.3L439.2 111.7L439.5 113.0L439.8 114.2L440.1 115.4L440.4 116.4L440.7 117.4L441.0 118.3L441.3 119.2L441.6 120.1L442.0 121.0L442.4 121.9L442.8 122.8L443.2 123.7L443.6 124.6L444.1 125.4L444.5 126.2L445.0 126.9L445.5 127.5L446.0 128.1L446.4 128.5L446.9 128.9L447.3 129.3L447.9 129.6L448.5 129.9L449.2 130.2L450.0 130.5L451.0 130.8L452.0 131.0L453.1 131.2L454.3 131.4L455.6 131.6L457.0 131.7L458.5 131.9L460.0 132.0L461.5 132.1L462.9 132.2L464.3 132.3L465.9 132.3L467.6 132.4L469.7 132.4L472.1 132.5L475.0 132.5L478.7 132.5L483.4 132.5L488.5 132.5L493.9 132.5L499.2 132.5L504.0 132.5L508.1 132.5L511.0 132.5" fill="none" stroke="#70dd70" stroke-width="1.0" stroke-linejoin="round"/><path d="M318.0 132.5L323.7 132.5L331.7 132.5L341.3 132.5L351.7 132.5L362.1 132.5L371.8 132.5L380.0 132.5L386.0 132.5L389.6 132.5L391.7 132.4L392.5 132.4L392.5 132.3L392.0 132.3L391.3 132.2L390.9 132.1L391.0 132.0L391.5 131.9L392.1 131.8L392.6 131.7L393.1 131.6L393.5 131.4L394.0 131.2L394.5 130.9L395.0 130.5L395.5 130.1L396.0 129.6L396.5 129.1L397.0 128.5L397.5 127.8L398.0 127.0L398.5 126.1L399.0 125.0L399.5 123.7L400.0 122.3L400.6 120.6L401.1 118.9L401.6 117.1L402.1 115.4L402.6 113.6L403.0 112.0L403.3 110.5L403.6 109.0L403.9 107.6L404.2 106.1L404.4 104.7L404.6 103.2L404.8 101.6L405.0 100.0L405.2 98.3L405.4 96.7L405.6 95.0L405.8 93.3L406.0 91.5L406.2 89.5L406.4 87.4L406.6 85.0L406.8 82.3L406.9 79.3L407.1 76.1L407.2 72.8L407.4 69.4L407.5 66.1L407.7 63.0L407.8 60.0L407.9 57.2L408.1 54.6L408.2 52.0L408.3 49.4L408.4 47.0L408.5 44.6L408.6 42.3L408.8 40.0L409.0 37.7L409.2 35.2L409.4 32.7L409.6 30.4L409.8 28.2L410.0 26.4L410.2 24.9L410.4 24.0L410.6 23.7L410.7 23.9L410.9 24.5L411.0 25.5L411.2 26.6L411.3 27.8L411.5 29.0L411.6 30.0L411.7 30.9L411.9 31.9L412.0 32.9L412.1 33.9L412.2 35.0L412.4 36.1L412.5 37.3L412.7 38.5L412.9 39.8L413.1 41.2L413.3 42.6L413.5 44.1L413.8 45.5L414.0 47.0L414.3 48.5L414.5 50.0L414.8 51.5L415.0 52.9L415.3 54.4L415.6 55.9L415.8 57.4L416.1 58.9L416.4 60.3L416.6 61.7L416.8 63.0L417.0 64.3L417.2 65.5L417.5 66.7L417.6 67.9L417.8 69.2L418.0 70.5L418.2 72.0L418.4 73.6L418.5 75.3L418.7 77.1L418.9 79.0L419.0 80.8L419.2 82.6L419.3 84.4L419.5 86.0L419.6 87.5L419.8 89.1L419.9 90.5L420.0 91.9L420.2 93.3L420.3 94.6L420.5 95.8L420.8 97.0L421.1 98.1L421.5 99.1L421.9 100.0L422.3 100.9L422.7 101.8L423.2 102.6L423.6 103.3L424.0 104.0L424.4 104.6L424.7 105.1L425.1 105.6L425.4 106.0L425.8 106.4L426.2 106.9L426.6 107.4L427.0 108.0L427.4 108.7L427.9 109.5L428.4 110.4L428.9 111.3L429.4 112.3L429.9 113.2L430.5 114.1L431.0 115.0L431.6 115.9L432.2 116.8L432.8 117.6L433.4 118.5L434.0 119.4L434.6 120.2L435.2 121.0L435.8 121.8L436.3 122.5L436.9 123.3L437.4 124.0L437.9 124.6L438.4 125.3L438.9 125.9L439.4 126.5L440.0 127.0L440.6 127.5L441.3 127.9L441.9 128.3L442.6 128.7L443.3 129.0L444.0 129.4L444.8 129.7L445.5 130.0L446.2 130.3L446.9 130.6L447.6 130.9L448.3 131.2L449.0 131.4L449.9 131.6L450.9 131.8L452.0 132.0L453.1 132.1L454.0 132.2L454.9 132.3L456.0 132.4L457.4 132.4L459.3 132.4L461.8 132.5L465.0 132.5L469.5 132.5L475.3 132.5L481.9 132.5L488.8 132.5L495.7 132.5L502.0 132.5L507.2 132.5L511.0 132.5" fill="none" stroke="#f2b060" stroke-width="1.0" stroke-linejoin="round"/><path d="M318.0 132.5L323.3 132.5L330.9 132.5L339.9 132.5L349.6 132.5L359.4 132.5L368.6 132.5L376.3 132.5L382.0 132.5L385.5 132.5L387.6 132.4L388.5 132.4L388.7 132.4L388.3 132.3L387.9 132.2L387.7 132.1L388.0 132.0L388.7 131.9L389.5 131.8L390.2 131.7L390.9 131.6L391.6 131.4L392.3 131.1L393.0 130.6L393.6 130.0L394.2 129.2L394.8 128.2L395.3 127.2L395.9 126.0L396.4 124.7L396.9 123.2L397.5 121.7L398.0 120.0L398.6 118.1L399.1 115.9L399.7 113.6L400.3 111.1L400.8 108.7L401.3 106.3L401.8 104.0L402.3 102.0L402.7 100.2L403.1 98.6L403.5 97.1L403.8 95.6L404.1 94.2L404.4 92.9L404.7 91.5L405.0 90.0L405.3 88.5L405.6 87.1L405.8 85.8L406.1 84.4L406.3 82.9L406.6 81.4L406.8 79.8L407.0 78.0L407.2 76.0L407.4 73.8L407.6 71.4L407.8 69.0L408.0 66.6L408.2 64.2L408.3 62.0L408.5 60.0L408.6 58.2L408.8 56.4L408.9 54.8L409.0 53.2L409.1 51.8L409.2 50.4L409.4 49.2L409.5 48.0L409.7 46.9L409.8 46.0L410.0 45.1L410.2 44.4L410.3 43.7L410.5 43.1L410.8 42.5L411.0 42.0L411.3 41.5L411.6 41.1L411.9 40.8L412.2 40.5L412.5 40.3L412.9 40.2L413.2 40.1L413.5 40.0L413.8 40.1L414.1 40.3L414.4 40.6L414.7 40.9L414.9 41.2L415.2 41.5L415.5 41.6L415.8 41.6L416.1 41.3L416.4 40.7L416.7 40.0L416.9 39.2L417.2 38.5L417.5 38.1L417.8 37.9L418.1 38.2L418.4 39.2L418.7 40.8L419.0 42.8L419.3 45.0L419.7 47.2L420.0 48.9L420.3 50.1L420.6 50.5L420.9 49.9L421.2 48.7L421.5 46.9L421.8 44.7L422.1 42.4L422.4 40.0L422.7 37.8L423.0 36.0L423.3 34.3L423.5 32.6L423.8 30.8L424.1 29.1L424.3 27.6L424.6 26.2L424.8 25.2L425.1 24.6L425.4 24.3L425.6 24.3L425.9 24.6L426.2 25.1L426.5 25.8L426.8 26.8L427.1 27.9L427.4 29.3L427.8 31.0L428.1 33.1L428.5 35.4L428.9 38.0L429.4 40.6L429.8 43.2L430.1 45.6L430.5 47.8L430.8 49.8L431.1 51.6L431.4 53.4L431.7 55.1L432.0 56.7L432.3 58.4L432.5 60.0L432.8 61.7L433.0 63.4L433.3 65.0L433.5 66.7L433.7 68.3L433.9 69.9L434.1 71.6L434.3 73.3L434.5 75.0L434.7 76.8L435.0 78.7L435.2 80.6L435.4 82.6L435.7 84.5L436.0 86.4L436.2 88.2L436.5 90.0L436.8 91.7L437.1 93.3L437.4 94.9L437.7 96.5L438.0 98.0L438.3 99.5L438.7 101.0L439.0 102.4L439.3 103.8L439.7 105.2L440.1 106.6L440.4 107.9L440.8 109.2L441.2 110.5L441.6 111.8L442.0 113.0L442.4 114.2L442.8 115.4L443.3 116.5L443.7 117.7L444.2 118.8L444.6 119.8L445.1 120.8L445.5 121.8L445.9 122.7L446.4 123.6L446.8 124.5L447.3 125.3L447.7 126.0L448.2 126.7L448.6 127.4L449.0 128.0L449.4 128.5L449.7 129.0L449.9 129.4L450.2 129.8L450.5 130.1L450.9 130.4L451.4 130.7L452.0 131.0L452.5 131.3L452.6 131.5L452.7 131.7L453.0 131.9L453.6 132.1L454.9 132.3L456.9 132.4L460.0 132.5L464.7 132.6L470.9 132.6L478.2 132.6L486.0 132.6L493.7 132.6L500.8 132.5L506.8 132.5L511.0 132.5" fill="none" stroke="#e86868" stroke-width="1.0" stroke-linejoin="round"/><path d="M318.0 132.5L323.6 132.5L331.5 132.5L340.9 132.5L351.2 132.5L361.5 132.5L371.0 132.5L379.1 132.5L385.0 132.5L388.6 132.5L390.6 132.4L391.5 132.4L391.4 132.3L390.9 132.3L390.3 132.2L389.8 132.1L390.0 132.0L390.6 131.9L391.1 131.8L391.6 131.6L392.1 131.5L392.6 131.3L393.1 131.1L393.6 130.8L394.0 130.5L394.4 130.1L394.8 129.7L395.2 129.3L395.6 128.8L396.0 128.3L396.3 127.7L396.7 126.9L397.0 126.0L397.3 125.0L397.6 123.9L397.8 122.7L398.1 121.5L398.3 120.1L398.5 118.5L398.8 116.9L399.0 115.0L399.3 113.0L399.5 110.8L399.8 108.4L400.0 105.9L400.3 103.3L400.5 100.6L400.8 97.8L401.0 95.0L401.2 92.1L401.5 89.2L401.7 86.2L401.9 83.1L402.2 80.0L402.4 76.7L402.6 73.4L402.8 70.0L403.0 66.4L403.2 62.5L403.4 58.5L403.6 54.4L403.8 50.4L404.0 46.6L404.1 43.1L404.3 40.0L404.5 37.2L404.6 34.5L404.8 31.9L404.9 29.6L405.0 27.6L405.2 26.0L405.3 24.8L405.5 24.0L405.7 23.8L405.9 24.2L406.0 25.1L406.2 26.3L406.4 27.7L406.6 29.2L406.8 30.7L407.0 32.0L407.2 33.2L407.4 34.4L407.6 35.7L407.8 37.1L408.0 38.5L408.2 39.9L408.4 41.4L408.6 43.0L408.8 44.7L409.0 46.4L409.1 48.2L409.3 50.1L409.5 52.1L409.6 54.0L409.8 56.0L410.0 58.0L410.2 60.0L410.4 61.9L410.5 63.9L410.7 65.9L410.9 68.0L411.1 70.1L411.3 72.5L411.5 75.0L411.7 77.8L412.0 81.0L412.2 84.4L412.5 87.9L412.8 91.3L413.0 94.5L413.3 97.5L413.5 100.0L413.7 102.1L413.9 103.9L414.2 105.4L414.4 106.7L414.6 107.9L414.8 108.9L415.0 110.0L415.2 111.0L415.4 112.0L415.6 113.0L415.9 113.8L416.1 114.6L416.3 115.3L416.6 115.9L416.8 116.5L417.0 117.0L417.2 117.4L417.4 117.8L417.6 118.1L417.7 118.3L417.9 118.4L418.1 118.5L418.3 118.6L418.5 118.6L418.7 118.6L419.0 118.4L419.2 118.2L419.4 118.0L419.7 117.7L420.0 117.5L420.2 117.2L420.5 117.0L420.8 116.8L421.1 116.5L421.3 116.2L421.6 116.0L421.9 115.7L422.2 115.5L422.5 115.4L422.8 115.4L423.1 115.5L423.4 115.7L423.6 116.1L423.9 116.4L424.2 116.8L424.5 117.1L424.7 117.4L425.0 117.5L425.3 117.4L425.5 117.2L425.7 116.9L425.9 116.6L426.2 116.2L426.4 116.0L426.7 115.9L427.0 116.0L427.3 116.3L427.6 116.8L428.0 117.3L428.3 118.0L428.7 118.8L429.1 119.5L429.5 120.3L430.0 121.0L430.5 121.7L431.0 122.5L431.6 123.4L432.2 124.2L432.8 125.0L433.4 125.8L434.1 126.6L434.7 127.2L435.3 127.8L435.9 128.3L436.5 128.7L437.1 129.1L437.8 129.5L438.5 129.9L439.2 130.2L440.0 130.5L440.8 130.8L441.7 131.0L442.6 131.2L443.6 131.4L444.6 131.6L445.7 131.7L446.8 131.9L448.0 132.0L449.0 132.1L449.8 132.2L450.5 132.3L451.3 132.3L452.5 132.4L454.2 132.4L456.6 132.5L460.0 132.5L464.9 132.5L471.2 132.5L478.5 132.5L486.2 132.5L493.9 132.5L500.9 132.5L506.8 132.5L511.0 132.5" fill="none" stroke="#6060e0" stroke-width="1.0" stroke-linejoin="round"/><path d="M318 132.3H511" stroke="#5a9a2a" stroke-width="1"/><rect x="467.6" y="30.6" width="8.9" height="4.1" fill="#44e044" stroke="#2a8a2a" stroke-width="1.1"/><text transform="translate(482.4 36.1) scale(0.86 1)" font-size="9.9" font-weight="bold" fill="#111">FLI1</text><rect x="467.6" y="40.6" width="8.9" height="4.1" fill="#ee1010" stroke="#901010" stroke-width="1.1"/><text transform="translate(482.4 46.1) scale(0.86 1)" font-size="9.9" font-weight="bold" fill="#111">ERG</text><rect x="467.6" y="50.6" width="8.9" height="4.1" fill="#f0a030" stroke="#a06018" stroke-width="1.1"/><text transform="translate(482.4 56.1) scale(0.86 1)" font-size="9.9" font-weight="bold" fill="#111">ETS2</text><rect x="467.6" y="60.6" width="8.9" height="4.1" fill="#1414e0" stroke="#0a0a80" stroke-width="1.1"/><text transform="translate(482.4 66.1) scale(0.86 1)" font-size="9.9" font-weight="bold" fill="#111">MIGR1</text><path d="M317.8 176.2H519V288" fill="none" stroke="#707070" stroke-width="1.2"/><path d="M317.8 176.2V288H519" fill="none" stroke="#111" stroke-width="1.5"/><path d="M317.8 288.0h-4.5M317.8 282.6h-2M317.8 277.3h-2M317.8 271.9h-2M317.8 266.5h-4.5M317.8 261.1h-2M317.8 255.8h-2M317.8 250.4h-2M317.8 245.0h-4.5M317.8 239.7h-2M317.8 234.3h-2M317.8 228.9h-2M317.8 223.6h-4.5M317.8 218.2h-2M317.8 212.8h-2M317.8 207.4h-2M317.8 202.1h-4.5M317.8 196.7h-2M317.8 191.3h-2M317.8 186.0h-2M317.8 180.6h-4.5M322.5 288v1.6M326.5 288v1.6M329.5 288v1.6M332.5 288v1.6M334.5 288v1.6M336.5 288v1.6M338.5 288v3M350.5 288v1.6M358.5 288v1.6M363.5 288v1.6M366.5 288v1.6M370.5 288v1.6M372.5 288v1.6M375.5 288v1.6M377.5 288v1.6M379.5 288v3M391.5 288v1.6M398.5 288v1.6M403.5 288v1.6M407.5 288v1.6M410.5 288v1.6M413.5 288v1.6M415.5 288v1.6M417.5 288v1.6M419.5 288v3M431.5 288v1.6M438.5 288v1.6M443.5 288v1.6M447.5 288v1.6M450.5 288v1.6M453.5 288v1.6M455.5 288v1.6M457.5 288v1.6M459.5 288v3M471.5 288v1.6M478.5 288v1.6M483.5 288v1.6M487.5 288v1.6M491.5 288v1.6M493.5 288v1.6M496.5 288v1.6M498.5 288v1.6M500.5 288v3M512.5 288v1.6" stroke="#111" stroke-width="0.9" fill="none"/><text x="312.2" y="297.7" font-size="12.5" font-weight="normal" text-anchor="end" fill="#111" >0</text><text x="313.8" y="276.4" font-size="12.5" font-weight="normal" text-anchor="end" fill="#111" letter-spacing="-0.2">20</text><text x="313.8" y="254.9" font-size="12.5" font-weight="normal" text-anchor="end" fill="#111" letter-spacing="-0.2">40</text><text x="313.8" y="233.4" font-size="12.5" font-weight="normal" text-anchor="end" fill="#111" letter-spacing="-0.2">60</text><text x="313.8" y="211.9" font-size="12.5" font-weight="normal" text-anchor="end" fill="#111" letter-spacing="-0.2">80</text><text x="315.2" y="190.4" font-size="12.5" font-weight="normal" text-anchor="end" fill="#111" letter-spacing="-0.2">100</text><g transform="translate(338.8 306.2) scale(0.92 1)"><text x="0" y="0" font-size="12.2" text-anchor="middle" fill="#111">10</text><text x="4.0" y="-3.9" font-size="9.6" fill="#111">1</text></g><g transform="translate(379.1 306.2) scale(0.92 1)"><text x="0" y="0" font-size="12.2" text-anchor="middle" fill="#111">10</text><text x="4.0" y="-3.9" font-size="9.6" fill="#111">2</text></g><g transform="translate(419.4 306.2) scale(0.92 1)"><text x="0" y="0" font-size="12.2" text-anchor="middle" fill="#111">10</text><text x="4.0" y="-3.9" font-size="9.6" fill="#111">3</text></g><g transform="translate(459.7 306.2) scale(0.92 1)"><text x="0" y="0" font-size="12.2" text-anchor="middle" fill="#111">10</text><text x="4.0" y="-3.9" font-size="9.6" fill="#111">4</text></g><g transform="translate(500.0 306.2) scale(0.92 1)"><text x="0" y="0" font-size="12.2" text-anchor="middle" fill="#111">10</text><text x="4.0" y="-3.9" font-size="9.6" fill="#111">5</text></g><text x="433.3" y="319.0" font-size="10.25" font-weight="bold" text-anchor="middle" fill="#000" >APC-phosphoSTAT5</text><text transform="translate(299.8 215.8) rotate(-90)" font-size="12.2" text-anchor="middle" fill="#111">% of Max</text><path d="M318.0 287.5L325.5 287.5L336.2 287.5L348.9 287.5L362.8 287.5L376.6 287.5L389.4 287.5L400.2 287.5L408.0 287.5L412.6 287.5L415.1 287.4L415.8 287.4L415.4 287.3L414.4 287.3L413.1 287.2L412.1 287.1L412.0 287.0L412.4 286.9L412.8 286.7L413.2 286.6L413.6 286.4L413.9 286.2L414.3 286.0L414.6 285.8L415.0 285.5L415.4 285.2L415.7 285.0L416.1 284.7L416.4 284.4L416.8 284.0L417.2 283.6L417.6 283.1L418.0 282.5L418.5 281.8L419.0 281.0L419.5 280.1L420.0 279.2L420.5 278.2L421.0 277.2L421.5 276.1L422.0 275.0L422.4 273.9L422.8 272.9L423.2 271.9L423.6 270.8L423.9 269.6L424.3 268.3L424.6 266.7L425.0 265.0L425.4 263.0L425.8 260.8L426.1 258.4L426.5 255.8L426.9 253.2L427.3 250.4L427.6 247.7L428.0 245.0L428.3 242.3L428.7 239.4L429.0 236.6L429.3 233.6L429.6 230.7L429.9 227.8L430.2 224.8L430.5 222.0L430.8 219.1L431.1 216.2L431.5 213.2L431.8 210.3L432.1 207.5L432.4 204.8L432.7 202.3L433.0 200.0L433.3 198.0L433.5 196.1L433.8 194.4L434.1 192.8L434.3 191.4L434.5 190.1L434.8 189.0L435.0 188.0L435.2 187.2L435.4 186.5L435.6 186.0L435.8 185.6L436.0 185.4L436.1 185.3L436.3 185.3L436.5 185.5L436.7 185.6L436.9 185.7L437.0 185.8L437.2 186.1L437.4 186.6L437.6 187.7L437.8 189.2L438.0 191.5L438.2 194.7L438.5 198.8L438.7 203.6L439.0 208.8L439.2 214.0L439.5 219.2L439.7 223.9L440.0 228.0L440.2 231.5L440.5 234.7L440.7 237.6L440.9 240.3L441.2 242.8L441.4 245.3L441.7 247.6L442.0 250.0L442.3 252.3L442.7 254.5L443.0 256.6L443.4 258.6L443.8 260.6L444.2 262.4L444.6 264.2L445.0 266.0L445.5 267.7L445.9 269.4L446.4 271.0L446.9 272.6L447.5 274.0L448.0 275.4L448.5 276.8L449.0 278.0L449.5 279.1L449.9 280.2L450.4 281.2L450.8 282.1L451.3 282.9L451.8 283.7L452.4 284.4L453.0 285.0L453.4 285.5L453.5 286.0L453.5 286.4L453.6 286.7L454.0 286.9L455.1 287.2L457.0 287.3L460.0 287.5L464.6 287.6L470.9 287.7L478.1 287.7L485.9 287.7L493.7 287.6L500.8 287.6L506.8 287.5L511.0 287.5" fill="none" stroke="#70dd70" stroke-width="1.0" stroke-linejoin="round"/><path d="M318.0 287.5L325.4 287.5L335.8 287.5L348.2 287.5L361.8 287.5L375.3 287.5L387.8 287.5L398.4 287.5L406.0 287.5L410.5 287.5L412.9 287.4L413.7 287.4L413.2 287.3L412.2 287.3L411.0 287.2L410.1 287.1L410.0 287.0L410.5 286.9L411.0 286.7L411.5 286.6L412.0 286.4L412.5 286.3L413.0 286.0L413.5 285.8L414.0 285.5L414.5 285.2L415.0 284.9L415.5 284.6L416.0 284.2L416.5 283.8L417.0 283.3L417.5 282.7L418.0 282.0L418.5 281.2L419.0 280.2L419.5 279.2L420.1 278.1L420.6 276.9L421.1 275.7L421.5 274.4L422.0 273.0L422.4 271.6L422.8 270.2L423.2 268.7L423.6 267.2L423.9 265.6L424.3 263.8L424.6 262.0L425.0 260.0L425.4 257.8L425.8 255.4L426.2 252.9L426.6 250.3L426.9 247.7L427.3 245.0L427.7 242.5L428.0 240.0L428.3 237.7L428.6 235.4L428.8 233.2L429.1 231.1L429.3 228.9L429.5 226.7L429.8 224.4L430.0 222.0L430.2 219.5L430.5 216.8L430.8 214.1L431.0 211.3L431.2 208.6L431.5 205.9L431.8 203.4L432.0 201.0L432.2 198.7L432.5 196.3L432.8 193.9L433.0 191.6L433.2 189.6L433.5 187.8L433.8 186.4L434.0 185.5L434.2 185.1L434.5 185.1L434.8 185.4L435.0 186.1L435.2 187.0L435.5 188.0L435.8 189.2L436.0 190.5L436.2 191.9L436.5 193.4L436.7 195.2L437.0 197.1L437.2 199.1L437.5 201.3L437.7 203.6L438.0 206.0L438.3 208.6L438.6 211.5L438.9 214.6L439.2 217.7L439.6 220.9L439.9 224.1L440.2 227.1L440.5 230.0L440.8 232.7L441.0 235.4L441.3 238.0L441.5 240.5L441.8 243.0L442.0 245.4L442.3 247.7L442.5 250.0L442.7 252.2L443.0 254.4L443.2 256.5L443.4 258.5L443.6 260.5L443.9 262.4L444.2 264.2L444.5 266.0L444.9 267.7L445.3 269.4L445.7 271.1L446.1 272.6L446.6 274.1L447.1 275.5L447.5 276.8L448.0 278.0L448.5 279.1L448.9 280.0L449.4 280.8L449.8 281.6L450.3 282.2L450.8 282.9L451.4 283.4L452.0 284.0L452.6 284.5L453.3 285.0L454.1 285.5L454.8 285.8L455.6 286.2L456.4 286.5L457.2 286.8L458.0 287.0L458.6 287.2L458.8 287.3L458.8 287.4L459.0 287.4L459.5 287.5L460.5 287.5L462.3 287.5L465.0 287.5L469.2 287.5L474.8 287.5L481.4 287.5L488.4 287.5L495.4 287.5L501.8 287.5L507.2 287.5L511.0 287.5" fill="none" stroke="#f2b060" stroke-width="1.0" stroke-linejoin="round"/><path d="M318.0 287.5L324.7 287.5L334.1 287.5L345.4 287.5L357.6 287.5L369.9 287.5L381.3 287.5L391.0 287.5L398.0 287.5L402.3 287.5L404.8 287.4L405.8 287.4L405.8 287.3L405.1 287.3L404.4 287.2L403.9 287.1L404.0 287.0L404.6 286.9L405.1 286.7L405.6 286.6L406.1 286.4L406.6 286.2L407.0 286.0L407.5 285.7L408.0 285.5L408.5 285.3L409.0 285.1L409.5 284.8L410.0 284.6L410.5 284.3L411.0 284.0L411.5 283.5L412.0 283.0L412.5 282.4L413.0 281.6L413.5 280.8L414.1 280.0L414.6 279.0L415.1 278.1L415.5 277.0L416.0 276.0L416.4 274.9L416.8 273.9L417.2 272.8L417.6 271.7L417.9 270.5L418.3 269.1L418.6 267.7L419.0 266.0L419.4 264.1L419.8 262.1L420.1 259.8L420.5 257.5L420.9 255.1L421.2 252.7L421.6 250.3L422.0 248.0L422.4 245.8L422.8 243.7L423.1 241.6L423.5 239.4L423.9 237.3L424.2 235.0L424.6 232.6L425.0 230.0L425.4 227.1L425.8 224.0L426.2 220.7L426.6 217.2L426.9 213.9L427.3 210.6L427.7 207.6L428.0 205.0L428.3 202.7L428.6 200.5L428.8 198.6L429.1 196.8L429.3 195.2L429.6 193.7L429.8 192.3L430.0 191.0L430.2 189.8L430.4 188.8L430.6 187.9L430.8 187.1L431.0 186.5L431.1 186.0L431.3 185.6L431.5 185.3L431.7 185.2L431.9 185.2L432.0 185.3L432.2 185.6L432.4 185.9L432.6 186.4L432.8 186.9L433.0 187.5L433.2 188.1L433.5 188.8L433.7 189.6L434.0 190.4L434.2 191.4L434.5 192.5L434.7 193.7L435.0 195.0L435.2 196.5L435.5 198.1L435.8 199.9L436.0 201.7L436.2 203.7L436.5 205.7L436.8 207.8L437.0 210.0L437.2 212.3L437.5 214.7L437.8 217.3L438.0 219.9L438.2 222.6L438.5 225.2L438.8 227.7L439.0 230.0L439.2 232.2L439.5 234.3L439.7 236.2L439.9 238.2L440.2 240.1L440.4 242.0L440.7 244.0L441.0 246.0L441.3 248.1L441.7 250.2L442.0 252.4L442.4 254.6L442.8 256.7L443.2 258.9L443.6 261.0L444.0 263.0L444.5 265.0L444.9 267.1L445.4 269.1L445.9 271.1L446.5 273.0L447.0 274.9L447.5 276.5L448.0 278.0L448.5 279.3L449.0 280.4L449.4 281.4L449.9 282.3L450.4 283.1L450.9 283.8L451.4 284.4L452.0 285.0L452.3 285.5L452.3 286.0L452.0 286.4L451.9 286.7L452.2 286.9L453.1 287.2L455.0 287.3L458.0 287.5L462.7 287.6L469.2 287.7L476.8 287.7L484.9 287.7L492.9 287.6L500.4 287.6L506.6 287.5L511.0 287.5" fill="none" stroke="#e86868" stroke-width="1.0" stroke-linejoin="round"/><path d="M318.0 287.5L325.2 287.5L335.4 287.5L347.6 287.5L360.8 287.5L374.0 287.5L386.2 287.5L396.6 287.5L404.0 287.5L408.4 287.5L410.8 287.4L411.5 287.4L411.1 287.3L410.1 287.3L408.9 287.2L408.1 287.1L408.0 287.0L408.5 286.9L409.0 286.7L409.5 286.6L410.0 286.4L410.5 286.2L411.0 286.0L411.5 285.7L412.0 285.5L412.5 285.3L413.0 285.1L413.5 284.9L414.0 284.7L414.5 284.4L415.0 284.0L415.5 283.6L416.0 283.0L416.5 282.3L417.0 281.4L417.5 280.5L418.1 279.5L418.6 278.4L419.1 277.3L419.5 276.1L420.0 275.0L420.4 273.9L420.8 272.8L421.2 271.7L421.6 270.6L422.0 269.4L422.3 268.0L422.7 266.6L423.0 265.0L423.3 263.2L423.7 261.3L424.0 259.2L424.3 257.0L424.6 254.8L424.9 252.5L425.2 250.2L425.5 248.0L425.8 245.8L426.0 243.7L426.3 241.6L426.5 239.4L426.8 237.2L427.0 234.9L427.3 232.5L427.5 230.0L427.8 227.3L428.0 224.3L428.2 221.3L428.5 218.2L428.8 215.0L429.0 211.9L429.2 208.9L429.5 206.0L429.8 203.1L430.0 200.1L430.3 197.0L430.5 194.1L430.8 191.3L431.0 188.9L431.3 186.9L431.5 185.5L431.7 184.6L431.9 184.3L432.1 184.3L432.3 184.7L432.5 185.4L432.6 186.2L432.8 187.1L433.0 188.0L433.2 188.9L433.4 190.0L433.6 191.1L433.8 192.4L433.9 193.9L434.1 195.7L434.3 197.7L434.5 200.0L434.7 202.8L434.9 206.0L435.0 209.6L435.2 213.4L435.4 217.2L435.6 221.0L435.8 224.7L436.0 228.0L436.2 231.1L436.5 234.1L436.7 237.0L437.0 239.8L437.2 242.5L437.5 245.1L437.7 247.6L438.0 250.0L438.2 252.3L438.5 254.5L438.7 256.6L438.9 258.6L439.2 260.6L439.4 262.4L439.7 264.2L440.0 266.0L440.3 267.7L440.7 269.4L441.1 271.1L441.5 272.7L441.9 274.2L442.3 275.6L442.7 276.9L443.0 278.0L443.3 279.0L443.5 279.8L443.7 280.4L443.9 281.0L444.1 281.5L444.3 282.0L444.6 282.5L445.0 283.0L445.5 283.6L446.0 284.2L446.6 284.7L447.2 285.3L447.9 285.8L448.6 286.3L449.3 286.7L450.0 287.0L450.4 287.2L450.3 287.4L450.0 287.5L449.9 287.5L450.1 287.5L451.0 287.5L452.9 287.5L456.0 287.5L460.9 287.5L467.6 287.5L475.5 287.5L483.9 287.5L492.2 287.5L500.0 287.5L506.4 287.5L511.0 287.5" fill="none" stroke="#6060e0" stroke-width="1.0" stroke-linejoin="round"/><path d="M318 287.3H511" stroke="#5a9a2a" stroke-width="1"/><rect x="467.6" y="188.1" width="8.9" height="4.1" fill="#44e044" stroke="#2a8a2a" stroke-width="1.1"/><text transform="translate(482.4 193.6) scale(0.86 1)" font-size="9.9" font-weight="bold" fill="#111">FLI1</text><rect x="467.6" y="198.1" width="8.9" height="4.1" fill="#ee1010" stroke="#901010" stroke-width="1.1"/><text transform="translate(482.4 203.6) scale(0.86 1)" font-size="9.9" font-weight="bold" fill="#111">ERG</text><rect x="467.6" y="208.1" width="8.9" height="4.1" fill="#f0a030" stroke="#a06018" stroke-width="1.1"/><text transform="translate(482.4 213.6) scale(0.86 1)" font-size="9.9" font-weight="bold" fill="#111">ETS2</text><rect x="467.6" y="218.1" width="8.9" height="4.1" fill="#1414e0" stroke="#0a0a80" stroke-width="1.1"/><text transform="translate(482.4 223.6) scale(0.86 1)" font-size="9.9" font-weight="bold" fill="#111">MIGR1</text></svg>
</body></html>
